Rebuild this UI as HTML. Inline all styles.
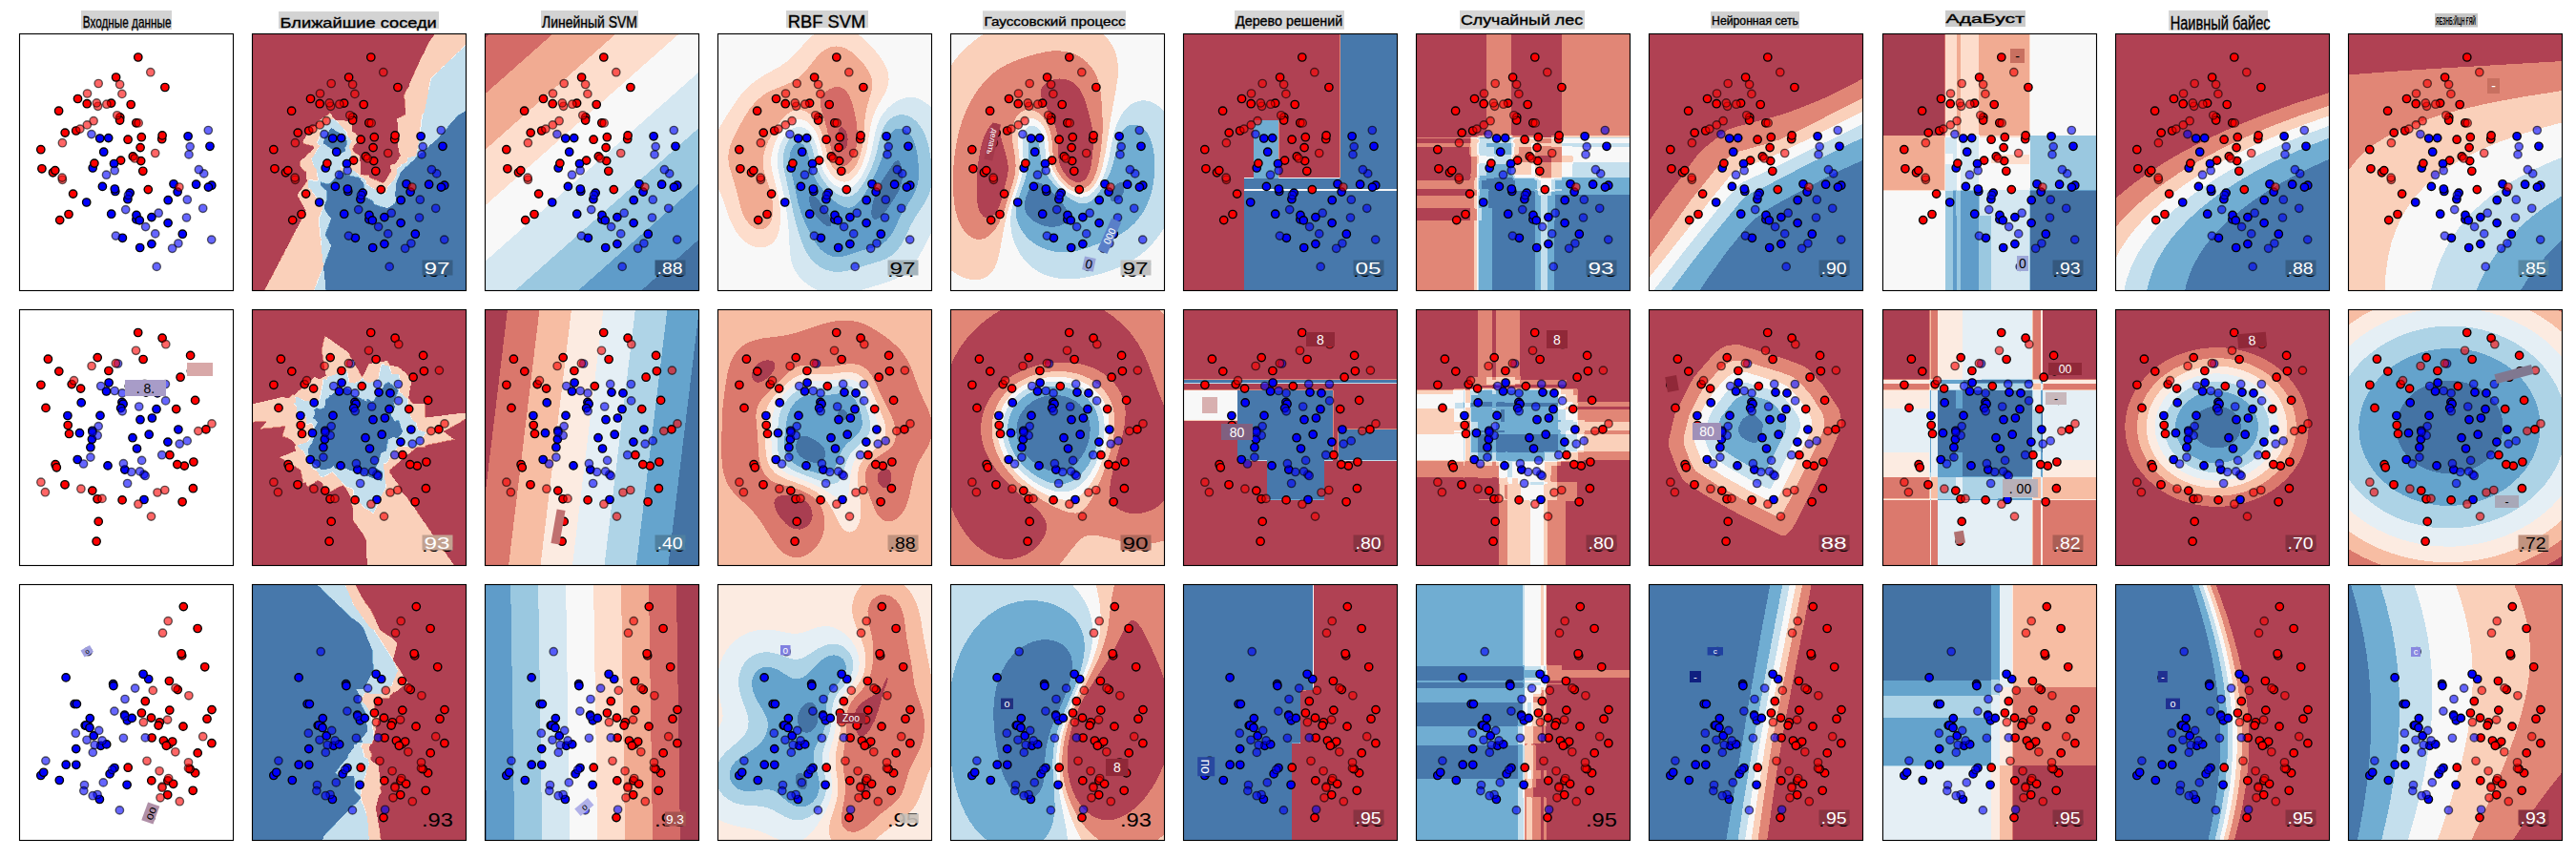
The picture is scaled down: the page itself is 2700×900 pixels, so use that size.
<!DOCTYPE html>
<html><head><meta charset="utf-8"><style>
html,body{margin:0;padding:0;background:#fff;}
svg{display:block;}
</style></head><body>
<svg width="2700" height="900" viewBox="0 0 2700 900">
<defs><g id="d0"><g stroke="#000" stroke-width="1.39"><circle cx="129.7" cy="144.1" r="4.17" fill="#f00"/><circle cx="93.6" cy="109.4" r="4.17" fill="#00f"/><circle cx="138.8" cy="220.4" r="4.17" fill="#00f"/><circle cx="177.0" cy="107.6" r="4.17" fill="#00f"/><circle cx="201.7" cy="159.0" r="4.17" fill="#00f"/><circle cx="149.6" cy="110.5" r="4.17" fill="#f00"/><circle cx="61.4" cy="68.3" r="4.17" fill="#f00"/><circle cx="51.9" cy="189.3" r="4.17" fill="#f00"/><circle cx="100.7" cy="165.3" r="4.17" fill="#00f"/><circle cx="152.8" cy="56.3" r="4.17" fill="#f00"/><circle cx="56.5" cy="167.9" r="4.17" fill="#f00"/><circle cx="87.3" cy="160.2" r="4.17" fill="#00f"/><circle cx="105.7" cy="87.7" r="4.17" fill="#f00"/><circle cx="77.1" cy="140.8" r="4.17" fill="#00f"/><circle cx="88.6" cy="124.0" r="4.17" fill="#00f"/><circle cx="122.8" cy="194.7" r="4.17" fill="#00f"/><circle cx="119.2" cy="128.7" r="4.17" fill="#f00"/><circle cx="126.6" cy="224.3" r="4.17" fill="#00f"/><circle cx="96.5" cy="72.9" r="4.17" fill="#f00"/><circle cx="116.1" cy="166.9" r="4.17" fill="#00f"/><circle cx="117.1" cy="74.3" r="4.17" fill="#f00"/><circle cx="23.8" cy="141.6" r="4.17" fill="#f00"/><circle cx="106.5" cy="132.9" r="4.17" fill="#f00"/><circle cx="35.4" cy="145.6" r="4.17" fill="#f00"/><circle cx="161.9" cy="157.6" r="4.17" fill="#00f"/><circle cx="171.2" cy="210.0" r="4.17" fill="#00f"/><circle cx="124.7" cy="24.8" r="4.17" fill="#f00"/><circle cx="128.2" cy="108.5" r="4.17" fill="#f00"/><circle cx="71.1" cy="73.5" r="4.17" fill="#f00"/><circle cx="138.8" cy="192.4" r="4.17" fill="#00f"/><circle cx="156.0" cy="198.4" r="4.17" fill="#00f"/><circle cx="122.9" cy="190.2" r="4.17" fill="#00f"/><circle cx="101.5" cy="45.8" r="4.17" fill="#f00"/><circle cx="37.7" cy="143.4" r="4.17" fill="#f00"/><circle cx="22.7" cy="121.5" r="4.17" fill="#f00"/><circle cx="78.8" cy="135.9" r="4.17" fill="#f00"/><circle cx="108.3" cy="214.1" r="4.17" fill="#00f"/><circle cx="185.5" cy="158.0" r="4.17" fill="#00f"/><circle cx="150.0" cy="106.7" r="4.17" fill="#f00"/><circle cx="84.6" cy="109.8" r="4.17" fill="#00f"/><circle cx="96.6" cy="189.0" r="4.17" fill="#00f"/><circle cx="42.6" cy="195.4" r="4.17" fill="#f00"/><circle cx="99.4" cy="136.3" r="4.17" fill="#00f"/><circle cx="166.0" cy="165.9" r="4.17" fill="#00f"/><circle cx="198.3" cy="160.9" r="4.17" fill="#00f"/><circle cx="127.0" cy="119.4" r="4.17" fill="#f00"/><circle cx="113.8" cy="173.5" r="4.17" fill="#00f"/><circle cx="135.2" cy="163.4" r="4.17" fill="#f00"/><circle cx="126.2" cy="195.7" r="4.17" fill="#00f"/><circle cx="127.6" cy="133.4" r="4.17" fill="#f00"/><circle cx="48.1" cy="103.9" r="4.17" fill="#f00"/><circle cx="199.9" cy="118.1" r="4.17" fill="#00f"/><circle cx="100.2" cy="162.8" r="4.17" fill="#00f"/><circle cx="156.1" cy="174.5" r="4.17" fill="#00f"/><circle cx="59.6" cy="101.8" r="4.17" fill="#f00"/><circle cx="122.7" cy="93.6" r="4.17" fill="#f00"/><circle cx="41.5" cy="81.0" r="4.17" fill="#f00"/><circle cx="114.0" cy="111.0" r="4.17" fill="#f00"/><circle cx="105.5" cy="90.9" r="4.17" fill="#f00"/><circle cx="70.6" cy="176.8" r="4.17" fill="#00f"/></g><g stroke="#000" stroke-width="1.39" fill-opacity=".6" stroke-opacity=".6"><circle cx="45.3" cy="114.5" r="4.17" fill="#f00"/><circle cx="63.8" cy="99.9" r="4.17" fill="#f00"/><circle cx="102.7" cy="85.6" r="4.17" fill="#f00"/><circle cx="137.7" cy="40.5" r="4.17" fill="#f00"/><circle cx="142.6" cy="125.3" r="4.17" fill="#f00"/><circle cx="142.6" cy="209.7" r="4.17" fill="#00f"/><circle cx="125.1" cy="93.7" r="4.17" fill="#f00"/><circle cx="83.1" cy="52.3" r="4.17" fill="#f00"/><circle cx="75.8" cy="105.4" r="4.17" fill="#00f"/><circle cx="91.7" cy="74.0" r="4.17" fill="#f00"/><circle cx="78.0" cy="91.5" r="4.17" fill="#f00"/><circle cx="114.4" cy="169.3" r="4.17" fill="#00f"/><circle cx="193.6" cy="146.7" r="4.17" fill="#00f"/><circle cx="111.6" cy="184.4" r="4.17" fill="#00f"/><circle cx="175.4" cy="192.8" r="4.17" fill="#00f"/><circle cx="132.5" cy="202.4" r="4.17" fill="#00f"/><circle cx="107.8" cy="63.2" r="4.17" fill="#f00"/><circle cx="179.1" cy="118.4" r="4.17" fill="#00f"/><circle cx="166.8" cy="219.8" r="4.17" fill="#00f"/><circle cx="144.1" cy="244.2" r="4.17" fill="#00f"/><circle cx="100.1" cy="143.5" r="4.17" fill="#00f"/><circle cx="176.2" cy="174.0" r="4.17" fill="#00f"/><circle cx="121.1" cy="130.8" r="4.17" fill="#f00"/><circle cx="45.3" cy="153.1" r="4.17" fill="#f00"/><circle cx="201.6" cy="215.9" r="4.17" fill="#00f"/><circle cx="71.4" cy="62.8" r="4.17" fill="#f00"/><circle cx="167.8" cy="160.8" r="4.17" fill="#f00"/><circle cx="101.3" cy="211.9" r="4.17" fill="#00f"/><circle cx="177.9" cy="126.7" r="4.17" fill="#00f"/><circle cx="45.0" cy="150.9" r="4.17" fill="#f00"/><circle cx="192.6" cy="183.1" r="4.17" fill="#00f"/><circle cx="71.2" cy="95.7" r="4.17" fill="#f00"/><circle cx="91.4" cy="148.0" r="4.17" fill="#00f"/><circle cx="188.3" cy="142.5" r="4.17" fill="#00f"/><circle cx="160.5" cy="225.1" r="4.17" fill="#00f"/><circle cx="198.2" cy="101.3" r="4.17" fill="#00f"/><circle cx="82.5" cy="76.1" r="4.17" fill="#f00"/><circle cx="146.1" cy="188.0" r="4.17" fill="#00f"/><circle cx="81.2" cy="72.7" r="4.17" fill="#f00"/><circle cx="105.5" cy="53.3" r="4.17" fill="#f00"/></g></g>
<g id="d1"><g stroke="#000" stroke-width="1.39"><circle cx="126.9" cy="115.5" r="4.17" fill="#00f"/><circle cx="123.4" cy="145.8" r="4.17" fill="#00f"/><circle cx="76.3" cy="136.0" r="4.17" fill="#00f"/><circle cx="74.8" cy="144.5" r="4.17" fill="#00f"/><circle cx="38.0" cy="162.5" r="4.17" fill="#f00"/><circle cx="124.6" cy="24.3" r="4.17" fill="#f00"/><circle cx="39.2" cy="165.6" r="4.17" fill="#f00"/><circle cx="83.1" cy="222.2" r="4.17" fill="#f00"/><circle cx="65.1" cy="97.7" r="4.17" fill="#00f"/><circle cx="166.8" cy="125.8" r="4.17" fill="#00f"/><circle cx="55.1" cy="78.4" r="4.17" fill="#f00"/><circle cx="63.4" cy="129.5" r="4.17" fill="#00f"/><circle cx="173.2" cy="163.9" r="4.17" fill="#f00"/><circle cx="27.9" cy="103.2" r="4.17" fill="#f00"/><circle cx="91.4" cy="85.8" r="4.17" fill="#00f"/><circle cx="92.9" cy="163.7" r="4.17" fill="#00f"/><circle cx="76.7" cy="189.9" r="4.17" fill="#f00"/><circle cx="157.8" cy="152.5" r="4.17" fill="#f00"/><circle cx="182.8" cy="159.8" r="4.17" fill="#f00"/><circle cx="84.9" cy="111.2" r="4.17" fill="#00f"/><circle cx="64.5" cy="82.9" r="4.17" fill="#f00"/><circle cx="81.9" cy="198.6" r="4.17" fill="#f00"/><circle cx="144.9" cy="87.7" r="4.17" fill="#00f"/><circle cx="115.2" cy="80.4" r="4.17" fill="#f00"/><circle cx="165.7" cy="162.4" r="4.17" fill="#f00"/><circle cx="139.3" cy="113.8" r="4.17" fill="#00f"/><circle cx="182.3" cy="187.5" r="4.17" fill="#f00"/><circle cx="195.8" cy="125.7" r="4.17" fill="#f00"/><circle cx="94.0" cy="76.8" r="4.17" fill="#00f"/><circle cx="61.1" cy="157.3" r="4.17" fill="#00f"/><circle cx="93.8" cy="64.3" r="4.17" fill="#f00"/><circle cx="143.9" cy="104.5" r="4.17" fill="#00f"/><circle cx="184.5" cy="95.2" r="4.17" fill="#f00"/><circle cx="52.4" cy="130.3" r="4.17" fill="#f00"/><circle cx="150.0" cy="30.0" r="4.17" fill="#f00"/><circle cx="130.9" cy="199.3" r="4.17" fill="#00f"/><circle cx="136.1" cy="131.0" r="4.17" fill="#00f"/><circle cx="118.9" cy="134.5" r="4.17" fill="#00f"/><circle cx="180.3" cy="64.6" r="4.17" fill="#f00"/><circle cx="76.7" cy="127.1" r="4.17" fill="#00f"/><circle cx="171.0" cy="201.6" r="4.17" fill="#f00"/><circle cx="30.3" cy="52.0" r="4.17" fill="#f00"/><circle cx="107.8" cy="97.2" r="4.17" fill="#00f"/><circle cx="108.0" cy="199.7" r="4.17" fill="#f00"/><circle cx="110.7" cy="167.9" r="4.17" fill="#00f"/><circle cx="22.8" cy="79.1" r="4.17" fill="#f00"/><circle cx="50.8" cy="111.3" r="4.17" fill="#00f"/><circle cx="81.0" cy="243.0" r="4.17" fill="#f00"/><circle cx="109.0" cy="99.0" r="4.17" fill="#00f"/><circle cx="169.0" cy="71.0" r="4.17" fill="#f00"/><circle cx="82.1" cy="50.4" r="4.17" fill="#f00"/><circle cx="179.5" cy="48.2" r="4.17" fill="#f00"/><circle cx="51.1" cy="121.3" r="4.17" fill="#f00"/><circle cx="130.0" cy="52.3" r="4.17" fill="#f00"/><circle cx="164.6" cy="104.4" r="4.17" fill="#f00"/><circle cx="47.9" cy="183.6" r="4.17" fill="#f00"/><circle cx="41.7" cy="64.9" r="4.17" fill="#f00"/><circle cx="155.8" cy="138.9" r="4.17" fill="#00f"/><circle cx="106.5" cy="103.4" r="4.17" fill="#00f"/><circle cx="132.9" cy="86.9" r="4.17" fill="#00f"/></g><g stroke="#000" stroke-width="1.39" fill-opacity=".6" stroke-opacity=".6"><circle cx="57.4" cy="74.5" r="4.17" fill="#f00"/><circle cx="196.3" cy="63.9" r="4.17" fill="#f00"/><circle cx="131.6" cy="78.2" r="4.17" fill="#00f"/><circle cx="144.9" cy="191.8" r="4.17" fill="#f00"/><circle cx="67.4" cy="161.8" r="4.17" fill="#00f"/><circle cx="64.8" cy="188.0" r="4.17" fill="#f00"/><circle cx="149.6" cy="152.5" r="4.17" fill="#00f"/><circle cx="22.8" cy="181.0" r="4.17" fill="#f00"/><circle cx="130.7" cy="172.9" r="4.17" fill="#00f"/><circle cx="82.1" cy="132.0" r="4.17" fill="#00f"/><circle cx="74.8" cy="154.9" r="4.17" fill="#00f"/><circle cx="103.5" cy="56.8" r="4.17" fill="#00f"/><circle cx="108.0" cy="87.7" r="4.17" fill="#00f"/><circle cx="128.5" cy="158.2" r="4.17" fill="#00f"/><circle cx="201.9" cy="119.7" r="4.17" fill="#f00"/><circle cx="168.1" cy="140.9" r="4.17" fill="#00f"/><circle cx="101.3" cy="56.5" r="4.17" fill="#f00"/><circle cx="108.1" cy="106.6" r="4.17" fill="#00f"/><circle cx="153.3" cy="78.3" r="4.17" fill="#00f"/><circle cx="176.1" cy="137.7" r="4.17" fill="#00f"/><circle cx="187.7" cy="127.4" r="4.17" fill="#f00"/><circle cx="85.6" cy="80.3" r="4.17" fill="#00f"/><circle cx="126.5" cy="169.7" r="4.17" fill="#00f"/><circle cx="83.1" cy="122.4" r="4.17" fill="#00f"/><circle cx="113.5" cy="182.3" r="4.17" fill="#00f"/><circle cx="86.9" cy="198.2" r="4.17" fill="#f00"/><circle cx="109.3" cy="161.5" r="4.17" fill="#00f"/><circle cx="122.4" cy="43.1" r="4.17" fill="#f00"/><circle cx="100.1" cy="85.3" r="4.17" fill="#00f"/><circle cx="125.6" cy="101.8" r="4.17" fill="#00f"/><circle cx="124.8" cy="204.0" r="4.17" fill="#f00"/><circle cx="117.6" cy="170.3" r="4.17" fill="#00f"/><circle cx="153.5" cy="95.7" r="4.17" fill="#00f"/><circle cx="152.7" cy="189.3" r="4.17" fill="#f00"/><circle cx="76.8" cy="128.9" r="4.17" fill="#00f"/><circle cx="76.0" cy="59.3" r="4.17" fill="#f00"/><circle cx="153.7" cy="36.5" r="4.17" fill="#f00"/><circle cx="132.1" cy="174.3" r="4.17" fill="#00f"/><circle cx="138.4" cy="216.9" r="4.17" fill="#f00"/><circle cx="27.3" cy="191.5" r="4.17" fill="#f00"/></g></g>
<g id="d2"><g stroke="#000" stroke-width="1.39"><circle cx="49.0" cy="97.7" r="4.17" fill="#00f"/><circle cx="201.8" cy="166.5" r="4.17" fill="#f00"/><circle cx="58.0" cy="125.4" r="4.17" fill="#00f"/><circle cx="184.5" cy="197.7" r="4.17" fill="#f00"/><circle cx="155.6" cy="220.6" r="4.17" fill="#f00"/><circle cx="72.5" cy="148.2" r="4.17" fill="#00f"/><circle cx="155.8" cy="205.7" r="4.17" fill="#f00"/><circle cx="84.3" cy="225.3" r="4.17" fill="#00f"/><circle cx="49.1" cy="189.0" r="4.17" fill="#00f"/><circle cx="137.9" cy="244.4" r="4.17" fill="#f00"/><circle cx="172.2" cy="23.4" r="4.17" fill="#f00"/><circle cx="60.3" cy="125.4" r="4.17" fill="#00f"/><circle cx="85.5" cy="169.1" r="4.17" fill="#00f"/><circle cx="161.5" cy="209.1" r="4.17" fill="#f00"/><circle cx="179.0" cy="193.5" r="4.17" fill="#f00"/><circle cx="22.7" cy="200.3" r="4.17" fill="#00f"/><circle cx="128.3" cy="134.8" r="4.17" fill="#f00"/><circle cx="138.7" cy="205.7" r="4.17" fill="#f00"/><circle cx="138.4" cy="139.9" r="4.17" fill="#f00"/><circle cx="69.1" cy="147.9" r="4.17" fill="#00f"/><circle cx="151.3" cy="163.8" r="4.17" fill="#f00"/><circle cx="135.6" cy="99.3" r="4.17" fill="#00f"/><circle cx="70.2" cy="147.8" r="4.17" fill="#00f"/><circle cx="147.2" cy="144.6" r="4.17" fill="#f00"/><circle cx="113.0" cy="210.1" r="4.17" fill="#00f"/><circle cx="157.0" cy="167.7" r="4.17" fill="#f00"/><circle cx="110.5" cy="136.9" r="4.17" fill="#00f"/><circle cx="194.6" cy="86.6" r="4.17" fill="#f00"/><circle cx="146.0" cy="147.9" r="4.17" fill="#f00"/><circle cx="59.7" cy="189.1" r="4.17" fill="#00f"/><circle cx="95.0" cy="198.7" r="4.17" fill="#00f"/><circle cx="91.6" cy="167.7" r="4.17" fill="#00f"/><circle cx="99.9" cy="192.3" r="4.17" fill="#00f"/><circle cx="171.9" cy="148.9" r="4.17" fill="#f00"/><circle cx="187.1" cy="176.7" r="4.17" fill="#f00"/><circle cx="170.6" cy="74.7" r="4.17" fill="#f00"/><circle cx="42.2" cy="205.3" r="4.17" fill="#00f"/><circle cx="73.9" cy="150.3" r="4.17" fill="#00f"/><circle cx="25.6" cy="197.1" r="4.17" fill="#00f"/><circle cx="78.1" cy="158.7" r="4.17" fill="#00f"/><circle cx="132.2" cy="122.5" r="4.17" fill="#f00"/><circle cx="59.6" cy="172.4" r="4.17" fill="#00f"/><circle cx="187.0" cy="46.3" r="4.17" fill="#f00"/><circle cx="130.0" cy="94.1" r="4.17" fill="#00f"/><circle cx="160.6" cy="164.8" r="4.17" fill="#f00"/><circle cx="113.3" cy="142.7" r="4.17" fill="#00f"/><circle cx="201.9" cy="131.4" r="4.17" fill="#f00"/><circle cx="154.2" cy="169.1" r="4.17" fill="#f00"/><circle cx="157.3" cy="101.3" r="4.17" fill="#f00"/><circle cx="98.5" cy="104.5" r="4.17" fill="#00f"/><circle cx="98.8" cy="106.4" r="4.17" fill="#00f"/><circle cx="74.2" cy="140.4" r="4.17" fill="#00f"/><circle cx="114.1" cy="192.0" r="4.17" fill="#f00"/><circle cx="170.0" cy="72.6" r="4.17" fill="#f00"/><circle cx="118.2" cy="140.2" r="4.17" fill="#00f"/><circle cx="166.2" cy="110.4" r="4.17" fill="#f00"/><circle cx="182.1" cy="216.1" r="4.17" fill="#f00"/><circle cx="139.0" cy="160.8" r="4.17" fill="#f00"/><circle cx="157.7" cy="131.9" r="4.17" fill="#f00"/><circle cx="196.9" cy="141.0" r="4.17" fill="#f00"/></g><g stroke="#000" stroke-width="1.39" fill-opacity=".6" stroke-opacity=".6"><circle cx="68.4" cy="210.3" r="4.17" fill="#00f"/><circle cx="72.1" cy="70.5" r="4.17" fill="#00f"/><circle cx="177.4" cy="192.7" r="4.17" fill="#f00"/><circle cx="149.9" cy="212.0" r="4.17" fill="#f00"/><circle cx="139.5" cy="236.1" r="4.17" fill="#00f"/><circle cx="177.4" cy="186.6" r="4.17" fill="#f00"/><circle cx="79.1" cy="168.3" r="4.17" fill="#00f"/><circle cx="192.6" cy="159.5" r="4.17" fill="#f00"/><circle cx="168.2" cy="227.5" r="4.17" fill="#f00"/><circle cx="82.0" cy="220.3" r="4.17" fill="#00f"/><circle cx="121.5" cy="108.9" r="4.17" fill="#00f"/><circle cx="109.3" cy="161.1" r="4.17" fill="#00f"/><circle cx="105.3" cy="236.7" r="4.17" fill="#00f"/><circle cx="147.9" cy="223.6" r="4.17" fill="#f00"/><circle cx="155.5" cy="141.9" r="4.17" fill="#f00"/><circle cx="77.2" cy="176.2" r="4.17" fill="#00f"/><circle cx="140.2" cy="111.2" r="4.17" fill="#f00"/><circle cx="67.7" cy="216.4" r="4.17" fill="#00f"/><circle cx="130.3" cy="144.5" r="4.17" fill="#f00"/><circle cx="97.6" cy="194.3" r="4.17" fill="#00f"/><circle cx="156.1" cy="38.5" r="4.17" fill="#f00"/><circle cx="110.7" cy="138.3" r="4.17" fill="#00f"/><circle cx="150.4" cy="51.0" r="4.17" fill="#f00"/><circle cx="163.7" cy="175.6" r="4.17" fill="#f00"/><circle cx="70.9" cy="163.1" r="4.17" fill="#00f"/><circle cx="156.6" cy="203.3" r="4.17" fill="#f00"/><circle cx="77.1" cy="221.5" r="4.17" fill="#00f"/><circle cx="87.0" cy="163.7" r="4.17" fill="#00f"/><circle cx="132.2" cy="160.7" r="4.17" fill="#00f"/><circle cx="177.8" cy="116.6" r="4.17" fill="#f00"/><circle cx="149.9" cy="213.0" r="4.17" fill="#f00"/><circle cx="59.2" cy="156.0" r="4.17" fill="#00f"/><circle cx="83.6" cy="153.2" r="4.17" fill="#00f"/><circle cx="147.0" cy="195.6" r="4.17" fill="#f00"/><circle cx="163.9" cy="108.7" r="4.17" fill="#f00"/><circle cx="110.9" cy="120.3" r="4.17" fill="#00f"/><circle cx="133.9" cy="185.1" r="4.17" fill="#f00"/><circle cx="27.8" cy="184.9" r="4.17" fill="#00f"/><circle cx="88.2" cy="207.7" r="4.17" fill="#00f"/><circle cx="99.8" cy="132.9" r="4.17" fill="#00f"/></g></g>
<clipPath id="cp0"><rect width="224" height="269"/></clipPath>
<clipPath id="cp1"><rect width="224" height="268"/></clipPath>
<clipPath id="cp2"><rect width="224" height="268"/></clipPath></defs>
<g transform="translate(20.5,35.5)"><g clip-path="url(#cp0)"><use href="#d0" x="-.4" y="-.3"/></g><rect width="224" height="269" fill="none" stroke="#000" stroke-width="1.11"/></g>
<g transform="translate(264.5,35.5)"><g clip-path="url(#cp0)"><g transform="translate(-.4,-.3)" fill-rule="evenodd" shape-rendering="crispEdges"><rect width="224" height="269" fill="#b04153"/>
<path fill="#e18676" d="M13.1,269l210.9,0 0-269 -32.2,0 -1.9,2 0,1 -2.7,3 0,.9 -2.7,3 0,1 -.9,1 0,1 -.9,1 0,1 -.9,1 0,1 -.9,1 0,1 -.9,1 0,.9 -1.8,2 0,1 -.9,1 0,1 -1,1 0,1 -.9,1 0,1 -.9,1 0,1 -.9,1 0,.9 -.9,1 0,1 -.9,1 0,1 -.9,1 0,1 -.9,1 0,1 -.9,1 0,1 -.9,1 0,1 -.9,1 0,.9 -.9,1 0,1 -.9,1 0,1 -.9,1 0,3 -2.8,3 0,1 -.9,.9 0,1 -.9,1 0,1 -.9,1 0,3 .9,1 0,8.9 .9,1 0,6 -.4,.4 -.9,0 -.9,1 -.9,0 -.9,1 -.9,0 -.9,1 -.9,0 -.9,1 -.9,0 -.5,.5 0,3 .9,1 0,25.8 .9,1 0,4 .9,1 0,1 .9,1 0,.9 -1.8,2 0,1 -1.8,2 0,1 -2.3,2.4 -2.7,0 -.9,1 -.9,0 -.5,.6 0,3 .9,.9 0,3 -1.8,2 0,1 -1.8,2 0,1 -1.8,2 0,1 -2.3,2.4 -1.8,0 -.9-1 -1.8,0 -.9-1 -.9,0 -.9-1 -1.8,0 -.9-1 -1.8,0 -1-1 -.9,0 -1.3-1.4 0-1 -.5-.6 -3.6,0 -.9-.9 -.9,.9 -.9-.9 -1.8,0 -.4-.5 0-12.9 -.9-1 0-5 -1.5-1.5 -.9,0 -.9-1 -.9,0 -3.1-3.4 0-2 .9-1 0-1 3.6-3.9 0-1 .9-1 0-5 -3.2-3.5 -.9,0 -.9-1 -.9,0 -.4-.5 0-8.9 -1.4-1.5 -5.5,0 -.9-1 -8.1,0 -.9-.2 -4.1-4.2 0-1 -2.3-2.6 -1.8,2 -.9,0 -.9,1 -.9,0 -1.8,2 -.9,0 -1.8,2 -1,0 -.9,1 -.9,0 -1.4,1.5 0,2 -.9,1 0,1 -.4,.4 -1.8,0 -.9,1 -.9,0 -.9,1 -.9,0 -2.3,2.5 0,1 -1,1 0,1 -1.8,2 0,1 -.9,1 0,1 -1.8,2 0,1 -.9,1 .9,1 0,.9 .5,.6 1.8,0 .9,1 2.8,0 .9,1 2.7,0 1.3,1.4 0,1 -4,4.4 -.9,0 -5.5,6 -.9,0 -3.2,3.5 0,5 5,5.5 .9,0 .4,.4 0,7 .9,1 0,1.9 -1.8,2 0,1 -3.6,4 0,1 -3.6,4 0,1 -.9,.9 0,2 1.8,2 0,1 1.8,2 0,1 .9,1 0,1 1.8,2 0,.9 .9,1 0,1 1.8,2 -.9,1 0,1 -.9,1 0,1 -1.8,2 0,1 -.9,1 0,1 -.9,.9 0,1 -1.8,2 0,1 -.9,1 0,1 -.9,1 0,1 -1.8,2 0,1 -1,1 0,1 -.9,.9 0,1 -1.8,2 0,1 -.9,1 0,1 -.9,1 0,1 -1.8,2 0,1 -.9,1 0,.9 -.9,1 0,1 -1.8,2 0,1 -.9,1 0,1 -.9,1 0,1 -1.9,2 0,1 -.9,1 0,.9 -.9,1 0,1 -1.8,2 0,1 -.9,1 0,1 -.9,1 0,1 -1.8,2 0,1 -.9,.9 0,1 -.9,1 0,1 -1.8,2 0,1 -.9,1 0,1 -1.9,2 0,1 -.9,1 0,1 -.9,.9 0,1 -1.8,2 0,1 -.9,1 0,1z"/>
<path fill="#fad0ba" d="M13.5,269l210.5,0 0-269 -31.8,0 -1.8,2 0,1 -2.8,3 0,.9 -2.7,3 0,1 -.9,1 0,1 -.9,1 0,1 -.9,1 0,1 -.9,1 0,1 -.9,1 0,.9 -1.8,2 0,1 -.9,1 0,1 -.9,1 0,1 -1,1 0,1 -.9,1 0,1 -.9,1 0,.9 -.9,1 0,1 -.9,1 0,1 -.9,1 0,1 -.9,1 0,1 -.9,1 0,1 -.9,1 0,1 -.9,1 0,.9 -.9,1 0,1 -.9,1 0,1 -.9,1 0,3 -2.8,3 0,1 -.9,.9 0,1 -.9,1 0,1 -.9,1 0,3 .9,1 0,8.9 .9,1 0,6 -.8,.9 -.9,0 -.9,1 -.9,0 -.9,1 -.9,0 -.9,.9 -.9,0 -.9,1 -1,.1 0,3 .9,1 0,25.8 .9,1 0,4 .9,1 0,1 .9,1 0,.9 -1.8,2 0,1 -1.8,2 0,1 -2.7,2.9 -2.7,0 -.9,1 -1,.1 0,3 .9,.9 0,3 -1.8,2 0,1 -1.8,2 0,1 -1.8,2 0,1 -2.7,2.8 -1.8,0 -.9-1 -1.8,0 -.9-1 -.9,0 -.9-.9 -1.8,0 -.9-1 -1.8,0 -1-1 -.9,0 -1.7-1.9 -.1-1.1 -3.6,0 -.9-1 -.9,1 -.9-1 -1.8,0 -.8-.9 0-12.9 -1-1 0-5 -1-1 -.9,0 -.9-1 -.9,0 -3.5-3.9 0-2 .9-1 0-1 3.6-3.9 0-1 .9-1 0-5 -2.8-3.1 -.9,0 -.9-1 -.9,0 -.8-.9 0-8.9 -1-1.1 -5.5,0 -.9-1 -8.1,0 -1.8-1 -3.6-3.8 0-1 -1.9-2.1 -1.8,2 -.9,0 -.9,1 -.9,0 -1.8,1.9 -.9,0 -1.8,2 -1,0 -.9,1 -.9,0 -1,1.1 0,2 -.9,1 0,1 -.8,.9 -1.8,0 -.9,1 -.9,0 -.9,1 -.9,0 -1.9,2 0,1 -.9,1 0,1 -1.9,2 0,1 -.9,1 0,1 -1.8,2 0,1 -.9,1 .9,1 .1,1 1.8,0 .9,1 2.8,0 .9,1 2.7,0 1.7,1.9 0,1 -4.4,4.9 -.9,0 -5.5,5.9 -.9,0 -2.8,3.1 0,5 4.6,5 .9,0 .8,.9 0,7 .9,1 0,1.9 -1.8,2 0,1 -3.6,4 0,1 -3.6,4 0,1 -.9,.9 0,2 1.8,2 0,1 1.8,2 0,1 .9,1 0,1 1.8,2 0,.9 .9,1 0,1 1.8,2 -.9,1 0,1 -.9,1 0,1 -1.8,2 0,1 -.9,1 0,1 -.9,.9 0,1 -1.8,2 0,1 -.9,1 0,1 -.9,1 0,1 -1.8,2 0,1 -.9,1 0,1 -1,.9 0,1 -1.8,2 0,1 -.9,1 0,1 -.9,1 0,1 -1.8,2 0,1 -.9,1 0,.9 -.9,1 0,1 -1.8,2 0,1 -.9,1 0,1 -.9,1 0,1 -1.8,2 0,1 -1,1 0,.9 -.9,1 0,1 -1.8,2 0,1 -.9,1 0,1 -.9,1 0,1 -1.8,2 0,1 -.9,.9 0,1 -.9,1 0,1 -1.8,2 0,1 -.9,1 0,1 -1.9,2 0,1 -.9,1 0,1 -.9,.9 0,1 -1.8,2 0,1 -.9,1 0,1z"/>
<path fill="#f8f8f8" d="M64.7,269l159.3,0 0-256.7 -.9,0 -6.4,6.9 -.9,0 -6.3,7 -.9,0 -7.3,7.9 -.9,0 -6.3,6.9 -.9,0 -6.1,6.6 0,2 -.9,1 0,4 -.9,1 0,3 -.9,1 0,3.9 -.9,1 0,4 -.9,1 0,4 -.9,.9 0,4 -.9,1 0,3 -2.7,3 0,3.9 -.9,1 0,7 -.9,1 0,5.9 -1,1 0,6 -.9,1 0,3.9 -.9,1 0,4 -.9,1 0,3 -.9,1 0,1 -1.2,1.3 -2.7,0 -.9,1 -2.8,0 -1.5,1.6 0,3 -1.2,1.3 -1.8,0 -.9,1 -1.8,0 -.6,.7 0,1 -1.2,1.3 -.9,0 -2.4,2.6 0,5 -.9,1 0,1 -.9,1 0,1 -1,1 0,1 -7.2,7.9 0,2 -.9,1 0,2 -1.2,1.3 -.9,0 -1.9-2 -1.8,2 -.9,0 -1.8-2 -.9,0 -.9-1 -.9,0 -1.8-2 -.9,0 -.9-.9 -1,0 -1.8-2 -.9,0 -.9-1 -.9,0 -.3-.4 0-1 -.9-1 0-1.9 -2.4-2.7 -.9,0 -.9-1 -1.8,0 -.4-.3 0-1 -3.3-3.6 -.9,0 -1.8-2 -.9,0 -.9-1 -.9,0 -2.1-2.3 0-2 .9-1 0-6 .9-1 0-6.9 -.9-1 0-1 -.9-1 0-3 .9-1 0-1 .9-.9 0-1 .9-1 -.6-.7 -.9,0 -.3-.3 0-1 -3.7-4 0-3 -10.8-11.9 -1.5-.6 -1.9-2 -.9,1 -4.5,0 -.6,.6 0,2 -.9,1 0,1 -1.2,1.3 -.9,0 -1.8,2 -.9,0 -2.4,2.7 0,6.9 -1,1 0,2 -.9,1 0,1 -.9,1 0,1.9 1.5,1.7 .9,0 .4,.3 0,1 -3.7,4 0,1 -.9,1 0,1 -1.8,2 0,.9 -2.7,3 .9,1 0,2 .9,1 0,2 .9,1 0,1 2.7,2.9 0,3 .9,1 0,4 .9,1 0,3 -.3,.3 -4.5,0 -.9-1 -3.6,0 -1.5,1.6 0,6 1.5,1.6 .9,0 2.1,2.4 0,1 2.7,2.9 0,1 2.7,3 0,1 2.8,3 0,1 2.7,3 0,3.9 -.9,1 0,1 -.9,1 0,2 -.9,1 0,1 -1,1 0,9.9 1,1 0,8.9 .9,1 0,1 .9,1 0,1 -.9,1 0,4 .9,.9 0,8 .9,1 0,7.9 .9,1 -.2,4 -.7,1 0,2 -.9,1 0,.9 -.9,1 0,1 -.9,1 0,2 -1,1 0,1 -.9,1 0,1 -.9,1 0,2 -.9,1 0,.9 -.9,1 0,1 -.9,1 0,2 -.9,1zM93.4,143.3l-.3-.4 0-2.9 .3-.4 2.1,2.3 -1.2,1.4 -.9,0z"/>
<path fill="#c4dfed" d="M65.1,269l158.9,0 0-256.3 -.9,0 -6.4,7 -.9,0 -6.3,6.9 -.9,0 -7.3,7.9 -.9,0 -6.3,7 -.9,0 -5.7,6.1 0,2 -.9,1 0,4 -.9,1 0,3 -.9,1 0,3.9 -.9,1 0,4 -.9,1 0,4 -.9,.9 0,4 -.9,1 0,3 -2.7,3 0,3.9 -.9,1 0,7 -.9,1 0,5.9 -.9,1 0,6 -1,1 0,3.9 -.9,1 0,4 -.9,1 0,3 -.9,1 0,1 -1.6,1.7 -2.7,0 -.9,1 -2.8,0 -1,1.2 0,3 -1.7,1.8 -1.8,0 -.9,1 -1.8,0 -.2,1.2 -1.6,1.8 -.9,0 -2,2.1 0,5 -.9,1 0,1 -.9,1 0,1 -.9,1 0,1 -7.3,7.9 0,2 -.9,1 0,2 -1.6,1.8 -.9,0 -1.9-2 -1.8,2 -.9,0 -1.8-2 -.9,0 -.9-1 -.9,0 -1.8-2 -.9,0 -.9-1 -1,0 -1.8-2 -.9,0 -.9-1 -.9,0 -.7-.8 0-1 -.9-1 0-1.9 -2-2.2 -.9,0 -.9-1 -1.8,0 -.8-.8 0-1 -2.9-3.2 -.9,0 -1.8-2 -.9,0 -.9-1 -.9,0 -2.5-2.7 0-2 .9-1 0-6 .9-1 0-6.9 -.9-1 0-1 -.9-1 0-3 .9-1 0-1 .9-.9 0-1 .9-1 -1.1-.2 -.7-.8 0-1 -3.7-4 0-3 -10.9-11.9 -1-.2 -1.9-2 -.9,1 -4.5,0 -.2,2.2 -.9,1 0,1 -1.6,1.8 -.9,0 -1.8,2 -.9,0 -2,2.2 0,6.9 -.9,1 0,2 -1,1 0,1 -.9,1 0,1.9 1.1,1.2 .9,0 .8,.8 0,1 -3.7,4 0,1 -.9,1 0,1 -1.8,2 0,.9 -2.7,3 .9,1 0,2 .9,1 0,2 .9,1 0,1 2.7,2.9 0,3 .9,1 0,4 .9,1 0,3 -.7,.8 -4.5,0 -.9-1 -3.6,0 -1.1,1.1 0,6 1.1,1.2 .9,0 2.5,2.8 0,1 2.7,2.9 0,1 2.7,3 0,1 2.8,3 0,1 2.7,3 0,3.9 -.9,1 0,1 -.9,1 0,2 -.9,1 0,1 -.9,1 0,9.9 .9,1 0,8.9 .9,1 0,1 .9,1 0,1 -.9,1 0,4 .9,.9 0,8 .9,1 0,7.9 .9,1 0,2 -.4,2 -.5,1 0,2 -.9,1 0,.9 -.9,1 0,1 -.9,1 0,2 -.9,1 0,1 -1,1 0,1 -.9,1 0,2 -.9,1 0,.9 -.9,1 0,1 -.9,1 0,2 -.9,1zM93.4,143.7l-.7-.8 0-2.9 .7-.8 2.5,2.7 -1.6,1.8 -.9,0z"/>
<path fill="#70add2" d="M77.3,269l146.7,0 0-188.3 -.9,.9 -.9,0 -.9,1 -.9,0 -.9,1 -.9,0 -.9,1 -1,0 -11.5,12.7 0,1 -12,13.1 -.9,0 -3.7,4 -.9,0 -3.6,4 -.9,0 -4.5,4.9 -1,0 -3.6,4 -.9,0 -5.4,6 -.9,0 -4.6,4.9 -.9,0 -6.1,6.7 0,1 -.9,1 0,1 -.9,1 0,1 -.9,1 0,1 -.9,1 0,1.9 -.9,1 0,8 -.9,1 0,4.9 .9,1 0,4 -.9,1 -.3,1.2 -.9,0 -1.8,2 -.9,0 -1.8,2 -.9,0 -.9,1 -1.8,0 -.9-1 -1.9,0 -.9-1 -2.7,0 -.9-1 -1.8,0 -.9-1 -1.8,0 -1.2-1.2 0-2 -.6-.8 -.9,0 -1-.9 -.9,0 -.9-1 -.9,0 -.9-1 -.9,0 -.9-1 -.9,0 -.2-.3 0-7.9 -.9-1 0-4 -.9-1 0-1 -2.8-2.9 0-1 -.6-.8 -.9,0 -1-1 -3.6,0 -.9-1 -3.6,0 -.9-1 -3.6,0 -1.9-1.9 -.9,0 -.9-1 -.9,0 -.9-1 -2.7,0 -1.6,1.7 0,3 -6.6,7.2 -.9,0 -.9,1 -3.6,0 -.9-1 -2.7,0 -.9-1 -.7,.7 0,1 -.9,1 5.2,5.7 .9,0 1.1,1.3 0,9.9 -.9,1 0,1 -.9,1 0,1 -.9,1 0,3.9 .9,1 0,1 2.7,3 0,1 3.7,4 0,1 -1,.9 0,2 -.9,1 0,1 -.9,1 0,2 -.9,1 0,1 -.9,1 0,1 -.9,1 0,1.9 -.9,1 0,1 1.8,2 0,1 1.8,2 0,1 .9,1 0,1 1.9,2 0,1.9 -1,1 0,2 -.9,1 0,1 -.9,1 0,1 -.9,1 0,2 -.9,1 0,1 -.9,.9 0,1 -.9,1 0,2 -.9,1 0,1 -.6,1 -.3,2 0,3 .9,.9 0,8 .9,1 0,8.9 .9,1 0,1zM90.9,126.1l.7,.7 .9,0 1.8-2 .9,0 .9-1 .9,0 1.6-1.7 -.9-1 0-2 1.8-2 0-4.9 -.9-1 0-1 -.9-1 0-1 -1.6-1.7 -.9,0 -1.8-2 -.9,0 -.9-1 -.9,0 -.9-1 -.9,0 -.9-1 -.9,0 -1.9-2 -.9,0 -.9-1 -2.5,2.7 0,1 -1.8,2 0,1 -2.7,3 0,1 -.9,1 0,2 -.9,1 0,1.9 .7,.8 .9,0 .9,1 .9,0 1.8,2 .9,0 1.8,2 .9,0 .9,.9 .9,0 1.9,2 .9,0 .9,1 .9,0 1.1,1.3z"/>
<path fill="#4778ab" d="M77.7,269l146.3,0 0-187.9 -.9,1 -.9,0 -.9,1 -.9,0 -.9,1 -.9,0 -.9,1 -1,0 -11.1,12.2 0,1 -12.4,13.6 -.9,0 -3.7,3.9 -.9,0 -3.6,4 -.9,0 -4.5,5 -1,0 -3.6,3.9 -.9,0 -5.4,6 -.9,0 -4.6,5 -.9,0 -5.7,6.2 0,1 -.9,1 0,1 -.9,1 0,1 -.9,1 0,1 -.9,1 0,1.9 -.9,1 0,8 -.9,1 0,4.9 .9,1 0,4 -.9,1 0,1 -.7,.7 -.9,0 -1.8,2 -.9,0 -1.8,1.9 -.9,0 -.9,1 -1.8,0 -.9-1 -1.9,0 -.9-.9 -2.7,0 -.9-1 -1.8,0 -.9-1 -1.8,0 -1.6-1.7 0-2 -.2-.3 -.9,0 -1-1 -.9,0 -.9-1 -.9,0 -.9-1 -.9,0 -.9-1 -.9,0 -.6-.7 0-7.9 -.9-1 0-4 -.9-1 0-1 -2.8-2.9 0-1 -.2-.3 -.9,0 -1-1 -3.6,0 -.9-1 -3.6,0 -.9-1 -3.6,0 -1.9-2 -.9,0 -.9-1 -.9,0 -.9-1 -2.7,0 -1.2,1.3 0,3 -7,7.6 -.9,0 -.9,1 -3.6,0 -.9-1 -2.7,0 -.9-1 -.3,.3 0,1 -.9,1 4.8,5.3 .9,0 1.5,1.7 0,9.9 -.9,1 0,1 -.9,1 0,1 -.9,1 0,3.9 .9,1 0,1 2.7,3 0,1 3.7,4 0,1 -.9,.9 0,2 -1,1 0,1 -.9,1 0,2 -.9,1 0,1 -.9,1 0,1 -.9,1 0,1.9 -.9,1 0,1 1.8,2 0,1 1.8,2 0,1 .9,1 0,1 1.9,2 0,1.9 -.9,1 0,2 -1,1 0,1 -.9,1 0,1 -.9,1 0,2 -.9,1 0,1 -.9,.9 0,1 -.9,1 0,2 -.9,1 0,1 -.8,1 -.1,5 .9,.9 0,8 .9,1 0,8.9 .9,1 0,1zM91.3,126.1l.3,.3 .9,0 1.8-2 .9,0 .9-1 .9,0 1.2-1.3 -.9-1 0-2 1.8-2 0-4.9 -.9-1 0-1 -.9-1 0-1 -1.2-1.3 -.9,0 -1.8-2 -.9,0 -.9-1 -.9,0 -.9-1 -.9,0 -.9-1 -.9,0 -1.9-1.9 -.9,0 -.9-1 -2.1,2.2 0,1 -1.8,2 0,1 -2.7,3 0,1 -.9,1 0,2 -.9,1 0,1.9 .3,.3 .9,0 .9,1 .9,0 1.8,2 .9,0 1.8,2 .9,0 .9,1 .9,0 1.9,2 .9,0 .9,1 .9,0 1.5,1.7z"/></g></g><g clip-path="url(#cp0)"><use href="#d0" x="-.4" y="-.3"/></g><rect width="224" height="269" fill="none" stroke="#000" stroke-width="1.11"/></g>
<g transform="translate(508.5,35.5)"><g clip-path="url(#cp0)"><g transform="translate(-.4,-.3)" fill-rule="evenodd" shape-rendering="crispEdges"><rect width="224" height="269" fill="#a63e51"/>
<path fill="#d46b67" d="M0,269l224,0 0-269 -218.3,0 -5.7,5.1 0,263.9z"/>
<path fill="#f1ab92" d="M0,269l224,0 0-269 -152.2,0 -71.8,63.5 0,205.5z"/>
<path fill="#fdddcc" d="M0,269l224,0 0-269 -86.2,0 -137.8,122 0,147z"/>
<path fill="#f8f8f8" d="M0,269l224,0 0-269 -20.1,0 -203.9,180.5 0,88.5z"/>
<path fill="#d4e7f1" d="M0,269l224,0 0-228.3 -224,198.3 0,30z"/>
<path fill="#9ac8e0" d="M32.2,269l191.8,0 0-169.8 -191.8,169.8z"/>
<path fill="#5f9cc9" d="M98.2,269l125.8,0 0-111.3 -125.8,111.3z"/>
<path fill="#4371a2" d="M164.3,269l59.7,0 0-52.9 -59.7,52.9z"/></g></g><g clip-path="url(#cp0)"><use href="#d0" x="-.4" y="-.3"/></g><rect width="224" height="269" fill="none" stroke="#000" stroke-width="1.11"/></g>
<g transform="translate(752.5,35.5)"><g clip-path="url(#cp0)"><g transform="translate(-.4,-.3)" fill-rule="evenodd" shape-rendering="crispEdges"><rect width="224" height="269" fill="#a63e51"/>
<path fill="#d46b67" d="M0,269l224,0 0-269 -224,0 0,269zM130.6,121.5l-1.8-1.8 -1.2-2.6 -1.1-3.9 -.5-5 .1-4 .9-3.7 .9-1.4 .9-.7 .9-.2 .9,.1 1.8,1 1.8,2.4 1.7,4.5 .6,4 -.3,4.9 -1.2,4 -1.7,2.2 -.9,.4 -1.8-.2z"/>
<path fill="#f1ab92" d="M0,269l224,0 0-269 -224,0 0,269zM129.7,138.2l-2.7-1.5 -2.6-2.7 -2-3.3 -1.8-4.4 -1.8-6.6 -4.8-22.4 -5.5-18.9 -1-5.9 .2-3 .6-2 1.4-2.8 1.9-2.2 2.7-2.2 3.6-2.3 3.6-1.5 3.6-.9 3.7,.4 3.6,1.9 3.6,3.9 2.8,4.9 2.7,7.4 2.1,8.3 1.9,9.9 .9,8.9 .1,8 -.6,6.9 -1.4,7 -2.1,6.1 -2.7,4.7 -3.1,3.1 -1.5,.9 -1.8,.6 -1.8,.1 -1.8-.4z"/>
<path fill="#fdddcc" d="M0,269l224,0 0-269 -224,0 0,269zM40.8,204.6l-3.6-1.7 -4-3.4 -3.3-4.1 -3.1-5.8 -2.8-8 -5.2-20.8 -6.3-20.8 -1.2-8 0-4 .5-4.3 1-4.6 1.3-4 3.9-8.9 9.1-16.9 6.2-9.9 6.5-7.9 6.5-5.8 4.5-3.1 4.5-2.5 20-8.2 4.5-2.3 4.4-2.9 3.8-3.2 4.5-4.6 10-12.6 3.6-4.1 3.6-3.3 4.5-3 4.6-1.9 5.4-.8 5.5,.6 5.4,2.1 4.6,2.8 4.5,3.6 5.4,5.4 4.3,5.1 3.5,4.9 2.1,4 1.8,5 .8,3.9 .1,4 -.6,5 -4.9,16.8 -1.7,8 -.9,7.9 -1.3,17.9 -1.2,8.9 -2.2,8.9 -3.2,8 -2.3,4 -2.4,3.1 -2.7,2.5 -2.8,1.5 -2.7,.6 -2.7-.1 -2.7-.9 -2.8-1.7 -3.9-4 -3.4-6 -2.6-7.6 -3.8-16.2 -2.4-8 -3.5-7.9 -3.9-6 -2.7-3.1 -3.7-3 -3.6-2.1 -2.7-.9 -3.7-.6 -3.6,.4 -2.7,.8 -3.6,1.9 -3.7,2.9 -3.6,3.6 -3.6,4.5 -3.8,5.6 -6.7,11.9 -2.6,5.9 -2,6 -.9,4 -.7,4.9 .2,8 1.4,6.9 5.7,16.9 2,7.9 1.2,9 -.2,7.9 -.7,4 -1.1,3.5 -1.7,3.4 -1.9,2.4 -2.7,2.1 -2.7,1 -2.8,.3 -3.6-.7z"/>
<path fill="#f8f8f8" d="M0,269l224,0 0-269 -77.8,0 6.2,4.8 7.2,7 7.3,8.1 5.2,6.9 3.6,6 2.1,4.9 1.5,6 .2,4.9 -.7,5 -2,6 -2.4,4.9 -8,13.9 -3.6,9 -2.5,9.9 -3.8,23.8 -1.7,6.9 -2,6 -2.5,6 -3.5,5.9 -3.5,4.5 -3.6,3 -2.8,1.3 -2.7,.6 -2.7,0 -2.7-.7 -2.7-1.2 -2.8-1.8 -2.7-2.5 -2.6-3.2 -3-4.9 -2.5-6 -1.7-6 -3.5-14.8 -2.8-8 -1.9-4 -1.9-3 -2.8-3.4 -2.7-2.4 -2.7-1.7 -3.6-1.4 -3.7-.4 -3.6,.5 -3.6,1.4 -3.6,2.4 -3.5,3.1 -2.9,3.4 -4.3,6.5 -3.3,7 -2.7,7.9 -1.3,6.9 -.3,6 .5,6 1.2,5.9 4.4,16.9 2,8.9 1.4,10.9 .4,10 -.7,8.9 -.9,4.4 -1.1,3.5 -1.6,3.6 -1.8,2.9 -1.9,2.1 -2.7,2.3 -3.6,1.8 -3.6,.9 -3.7,.2 -4.5-.7 -4.5-1.5 -3.7-2 -4.5-3.3 -3.6-3.6 -5-6.6 -4.6-9 -2.7-6.9 -5.9-17.3 -5.4-13.5 0,109.2zM0,101.2l0,.8 6.8-11.7 12.2-18.8 6-8 5.8-6.4 6.2-5.5 6.5-4.7 6.4-3.9 15.4-8.6 8-5.6 6.5-6 14.5-15.9 4.2-3.9 3.9-3 -102.4,0 0,101.2z"/>
<path fill="#d4e7f1" d="M103.3,268l2.2,1 43.9,0 25.6-7.6 6.4-2.3 5.4-2.4 5.5-3.1 4.5-3.2 4.5-4 3.7-4 3.6-4.8 3.3-5.3 12.1-24 0-130.7 -4.5-4.2 -5.5-3.7 -4.5-2 -4.5-1 -4.6,0 -5.4,1 -5.5,2.3 -5.4,3.3 -4.5,3.7 -4.6,4.8 -4.5,6.8 -3.2,7.7 -2.2,7.9 -3.1,15.9 -1.6,7 -2.5,7.9 -2.9,6.9 -4.5,8.3 -4.5,6.2 -4.5,4 -1.8,1 -2.8,1 -2.7,.4 -2.7-.2 -2.7-.7 -2.7-1.3 -3.7-2.3 -2.7-2.4 -2.7-2.8 -2.5-3.2 -3-5 -2.7-6.3 -1.6-5.6 -3.5-14.9 -2.4-6.9 -3.4-6.2 -1.8-2.2 -2.7-2.4 -2.7-1.6 -3.6-1.1 -3.7,.1 -3.6,1.1 -3.6,2.3 -2.7,2.5 -2.9,3.5 -2.5,4 -2.7,5.9 -1.9,7 -.8,5.9 0,7 1.4,8.9 5.5,23.8 2.8,16.9 1.9,15.9 1.5,25.8 1.3,9.1 1.3,4.8 2.1,5 2.4,3.9 3,4 3.9,4 4.5,3.7 4.6,2.9 4.4,2.3z"/>
<path fill="#9ac8e0" d="M119.6,249.1l4.6,.6 4.6-.1 5.4-.7 5.5-1.3 31.7-9.5 6.3-2.8 5.5-3.5 5.4-5.1 4.6-6.2 3.2-6.1 5.8-12.9 2.8-5.3 3.3-5.6 8-11.9 2.8-5 3-6.9 1.9-7.7 0-24.5 -2.1-13.5 -1.4-6 -1.8-5.9 -2-5 -2.7-4.9 -2.7-3.9 -2.7-3.1 -3.6-3.1 -3.7-2.2 -2.7-1.1 -3.6-.8 -3.6-.1 -2.8,.5 -3.6,1.4 -2.7,1.6 -2.7,2.3 -2.8,3.2 -2.6,4.3 -2.1,4.9 -1.8,6 -3.7,15.9 -2,6.9 -3,8 -4.1,8.9 -5.1,9 -4.6,6.2 -4.5,4.2 -2.7,1.6 -2.8,.9 -2.7,.3 -3.6-.5 -2.7-.9 -3.7-1.9 -3.6-2.6 -3.6-3.1 -3.6-3.8 -2.8-3.5 -3.7-5.9 -3.1-7 -1.7-5.9 -3.1-13.9 -2-5.9 -2.7-5 -2.7-3.1 -2.7-1.9 -2.7-.9 -2.8,0 -2.7,.7 -2.7,1.5 -2,1.7 -2.5,3 -1.8,3 -2.4,5.9 -1.3,6 -.3,5.9 .6,7 10.6,49.4 3.6,13.7 4.2,13.3 2.7,6.9 3.1,6.2 3.6,5.4 3.7,4.2 4.5,3.8 4.5,2.9 4.6,1.9 5.3,1.4z"/>
<path fill="#5f9cc9" d="M120.1,233.3l6,.7 6.3-.8 4.5-1.2 12.7-4.3 12.9-3.4 5.3-1.7 4.5-2.2 4.1-3 3.7-4 3.1-4.5 10-20.3 10-15.9 3.3-5.9 2.7-7 1.4-6.9 .4-7 -.4-8.9 -1.1-9.9 -1.8-8.8 -2.1-6.1 -2.5-4.7 -2.7-3.5 -3.6-2.9 -1.8-1 -2.7-.7 -3.7,.1 -2.7,1 -1.8,1.2 -3.3,3.5 -2.1,3.9 -1.7,4.1 -4.7,16.8 -3.3,9 -4.6,9.9 -7.2,13.9 -4.8,8.2 -4.6,5.8 -2.7,2.6 -1.8,1.2 -1.8,.9 -2.7,.8 -2.8,.1 -3.6-.8 -3.6-1.6 -3.7-2.3 -4.5-3.8 -4.5-4.3 -5.4-5.8 -4-5 -4-5.9 -2.8-6 -1.9-5.9 -3.7-16.8 -1.8-4.3 -1.9-2.8 -2.6-2 -1.8-.5 -1.9,0 -1.8,.7 -1.8,1.2 -2.7,3.5 -1.7,4.1 -.8,3.9 -.2,5 .5,5 4.5,19.8 3.9,18.9 3.8,12.6 3.6,8.8 4.5,9.4 4.6,8.5 3.6,5.6 3.6,4.3 3.6,3.2 4.6,2.7 4,1.5z"/>
<path fill="#4371a2" d="M114.7,201.5l2.3,.6 1.5-.6 .6-1 .2-2 -1.2-4.9 -3.3-7 -5.1-7.7 -5.4-6.1 -2.7-2.2 -1.8-1.1 -1.9-.3 -.9,.5 -.9,2 0,4.2 1.3,4.8 2.4,5.2 3.6,5.4 3.6,4.2 4.5,4.1 3.2,1.9zM164.3,194.6l1.7,.1 2.7-.9 2.7-2.1 2.7-2.9 4.6-6.1 6.3-9.4 3.6-6.1 2.6-5.4 1.3-4 .9-3.9 .3-4 0-4 -.5-4.1 -.9-3.9 -1.2-2.9 -1.6-1.9 -.9-.2 -1.8,.7 -1.8,1.8 -2.7,3.6 -10,15.4 -3.6,6.8 -2.5,5.6 -3.3,9.9 -1.7,8.9 0,3 .5,3 1.1,2 1.5,1z"/></g></g><g clip-path="url(#cp0)"><use href="#d0" x="-.4" y="-.3"/></g><rect width="224" height="269" fill="none" stroke="#000" stroke-width="1.11"/></g>
<g transform="translate(996.5,35.5)"><g clip-path="url(#cp0)"><g transform="translate(-.4,-.3)" fill-rule="evenodd" shape-rendering="crispEdges"><rect width="224" height="269" fill="#b04153"/>
<path fill="#e18676" d="M0,269l224,0 0-269 -224,0 0,269zM37.2,192.8l-2.7-1.4 -2.8-3.1 -1.8-3.9 -1.4-5.7 -.7-7 -.2-9.9 .3-10.9 .8-10.9 1.2-9.9 1.5-8 2-7.9 2-6 2.7-6 3.6-5.4 2.7-2.4 1.9-.8 .9,.1 .9,.3 .9,.9 1.8,4.2 3.2,13.1 4.9,17.1 1.5,8.7 0,6.9 -1.5,8.4 -5.4,20.9 -1.8,6 -1.8,4.3 -2.7,4.1 -3.3,3 -3.1,1.3 -1.8,.2 -1.8-.3zM129.7,154.9l-3.7-2 -4.5-4.1 -3.6-5 -2.7-5.7 -1.3-4.1 -.9-5 -.8-20.8 -.9-6 -.9-3.9 -1.7-5 -2.1-5 -9.9-18.8 -1.3-3 -.9-3 -.1-3 .4-1.9 1-2 2.1-2.6 2.8-2.2 2.7-1.6 3.6-1.5 3.6-1 3.7-.4 3.6,.1 3.6,.7 2.7,.9 3.3,1.6 2.8,2 2.2,2 2.5,3 3.5,5.9 3,7.4 4.5,15.9 2.7,12.2 1.1,10.2 -.2,11 -1.5,14.8 -1.2,6 -1.1,3.9 -2.5,5.4 -1.8,2.3 -1.8,1.5 -1.9,1 -2.7,.6 -2.7-.1 -2.7-.7z"/>
<path fill="#fad0ba" d="M0,269l224,0 0-269 -224,0 0,269zM28.1,215.5l-2.7-.6 -2.7-1.2 -4.6-3.1 -4.5-5.1 -3.5-6 -2.8-6.9 -2.1-8 -1.4-8.9 -.9-10.9 -.2-12.9 .7-13.9 1.3-12.9 2.1-12.9 2.5-11 3.4-10.9 4-9.9 5-9.9 4.6-7.7 4.5-6.5 5.5-6.6 5-5 5.9-4.9 5.4-3.7 6.3-3.6 7.3-3.3 10.9-4 11.8-3.6 10-2.3 8.1-1.1 7.3-.1 7.2,.8 6.4,1.7 6.3,2.9 4.6,2.8 4.5,3.8 4.2,4.6 3,4.6 2.7,5.4 1.9,5.1 1.6,6.8 1.1,6.9 1,11.9 .8,15.9 0,9.9 -.5,9 -1.7,13.9 -2.3,13.2 -2.3,8.6 -2.9,7 -2.6,3.9 -3.1,3 -3.6,2 -3.7,.8 -3.6-.1 -4.5-1.4 -4.1-2.3 -4.1-3.3 -3.3-3.6 -3-4.2 -2.7-4.8 -2-4.9 -1.1-4 -.8-5 -1.1-15.8 -1-7 -1.9-6.9 -3.3-7 -2.5-3.6 -2.7-3.1 -2.7-2.3 -3.6-2.1 -3.7-1.2 -2.7-.3 -3.6,.4 -2.7,1 -3.6,2.4 -3.4,3.9 -2.5,4.9 -1.4,5 -.6,5.9 .1,6 .8,6.9 2.6,15.9 .3,6 -.2,4.9 -1.1,7 -1.8,6.9 -9.2,29.4 -2.7,6.9 -3.6,7.3 -2.7,4.3 -3.7,4.5 -3.6,3.2 -3.6,2 -3.7,1.1 -4.5,0z"/>
<path fill="#f8f8f8" d="M0,269l224,0 0-269 -64.1,0 4.2,4.4 3.7,4.8 3.2,5.7 2.1,5 1.6,5.9 .9,6 .3,6.9 -.4,7 -1.7,11.9 -5.8,31.7 -5.3,34.8 -3.1,14.9 -2.7,8.9 -3.2,6.9 -4.1,5.9 -2.1,2.1 -2.4,1.8 -2.7,1.4 -3.6,1 -3.7,0 -3.6-.6 -3.6-1.4 -3.7-2.1 -3.6-2.7 -3.5-3.4 -3.7-4.3 -3.1-4.6 -2.4-4.4 -1.8-4.5 -1.1-4 -1-5 -1.4-15.8 -.9-6 -1.9-6.6 -2.8-5.2 -2.5-3.1 -2.3-2 -3.3-1.8 -2.7-.8 -2.8-.1 -3.2,.7 -2.2,1.1 -2.7,2.4 -1.8,2.5 -1.3,3 -1.1,3.9 -.6,4 .2,8 2.1,19.8 -.1,7 -.8,5.9 -2.2,8.9 -6.7,20.9 -3.7,12.9 -3.3,14.9 -4.6,25.8 -1.5,6.1 -2,5.8 -1.6,3.5 -1.9,2.9 -1.8,2.3 -2.7,2.6 -2.7,1.8 -2.7,1.3 -5.5,1.3 -3.6,.2 -3.6-.3 -7.3-1.8 -7.2-3.4 -7.3-5.1 0,21.5zM0,33.7l0,.6 4.5-6.3 4.6-5.6 8.1-8.4 9.1-7.6 9.5-6.4 -35.8,0 0,33.7z"/>
<path fill="#c4dfed" d="M119.7,257.1l7.3,0 7.2-.6 7.3-1.1 9-1.9 9.1-2.5 9.1-3 8.1-3.2 7.3-3.4 6.3-3.5 5.5-3.6 5.4-4.1 5.5-4.8 4.5-4.7 4.5-5.3 4.4-6 3.8-6 0-122.2 -5.4-5.1 -5.5-3.4 -4.5-1.8 -4.6-.8 -4.5,.2 -3.6,.8 -3.6,1.5 -3.7,2.2 -3.6,3.2 -3.6,4.2 -2.7,4 -2.8,5.1 -3.6,9.4 -2.1,8.5 -3.5,18.8 -1.7,8 -2.4,7.9 -3.1,8 -4.4,7.9 -4.6,5.6 -4.5,3.7 -2.7,1.3 -2.7,.8 -3.7,.3 -3.6-.5 -4.5-1.5 -4.6-2.5 -4.5-3.3 -4.2-3.9 -3.6-4 -3.8-4.9 -3.4-6 -2.8-6.9 -1.5-7 -1.5-14.9 -1-5.8 -1.8-5.4 -1.4-2.7 -1.5-1.9 -2.3-2 -2-1.1 -2.7-.6 -1.9,.1 -1.8,.5 -1.8,1.1 -1.8,1.9 -1.2,2 -1.5,4.3 -.7,5.7 .1,4.9 1.1,16.9 -.2,6 -.6,4.9 -2.8,10.9 -7.4,22.9 -1.3,5.3 -.9,5.6 -.5,5.9 .2,6 .8,6 1.3,5.8 1.6,5.1 2,4.8 4.5,8.1 5.5,7.3 6.3,6.1 7.3,4.9 8.2,3.8 9,2.5 10,1.2z"/>
<path fill="#70add2" d="M108.7,228.3l5.6,.7 6.3,.1 5.5-.4 6.3-1.1 11.8-3.4 23.6-8.8 9.9-4.8 8.2-5.4 7.3-6.6 6.3-7.8 3.4-5.2 3.1-5.9 2.5-6 1.9-5.9 1.5-6 1.2-7 .7-6.9 .4-7.9 -.1-7 -.6-6.9 -.9-6 -1.5-5.9 -1.9-5 -2.4-4.6 -2.8-3.5 -3.1-2.8 -2.3-1.4 -2.7-1.1 -2.7-.5 -2.8,.1 -2.7,.7 -2.7,1.4 -2.7,2.1 -1.8,2.1 -2.8,4.6 -1.8,5 -3.9,19.7 -2.2,8 -2.6,6.9 -3.7,8 -6.6,11 -5.5,7.2 -2.7,2.5 -2.7,1.9 -2.7,1.1 -2.7,.5 -2.8,0 -3.6-.8 -3.6-1.4 -4.5-2.6 -4.6-3.2 -5.4-4.6 -4.9-4.7 -4.4-5 -3.8-4.9 -2.6-4 -2-4 -1.6-3.9 -1.7-7 -1.8-13.9 -1.7-5.7 -1.8-2.6 -1.8-1.1 -1.8,0 -2,1.5 -1.4,3 -.7,3.9 0,16.9 -.9,7.9 -2.5,10 -7,19.8 -1.9,6.5 -.8,4.4 -.3,4 .6,7 1.8,5.9 3.3,6.3 4.1,5.6 4.9,4.9 5.5,4.2 6.3,3.5 6.4,2.5 7.1,1.8z"/>
<path fill="#4778ab" d="M104.8,202.5l4,0 4.6-.7 3.6-1.4 2.9-1.9 1.8-2 1.4-2.9 .4-3 -.8-4 -2.4-5 -3.6-4.9 -4.4-5 -7.1-6.9 -5.4-4.7 -4.6-3.1 -2.7-1 -2.7,.1 -2.7,1.6 -2.8,3.2 -2.7,4.7 -1.8,4.2 -1.5,4.9 -.6,4 .2,3.9 .7,3 1.3,3 2.1,3 2.9,3 3.1,2.3 3.6,2 4.5,1.9 4.6,1.2 4.1,.5zM169.7,175.7l2.6,.3 3.1-1.3 2.4-2 2.7-3.8 1.5-4.1 .5-4 -.5-3 -.6-1.2 -.9-.9 -1.8-.3 -2.8,1.3 -3.6,3.4 -2.7,3.7 -1.8,4 -.5,2.9 .5,3.1 .9,1.2 1,.7z"/></g></g><g clip-path="url(#cp0)"><use href="#d0" x="-.4" y="-.3"/></g><rect width="224" height="269" fill="none" stroke="#000" stroke-width="1.11"/></g>
<g transform="translate(1240.5,35.5)"><g clip-path="url(#cp0)"><g transform="translate(-.4,-.3)" fill-rule="evenodd" shape-rendering="crispEdges"><rect width="224" height="269" fill="#b04153"/>
<path fill="#e18676" d="M63.6,269l160.4,0 0-105.1 -159.6,0 -.8,.9 0,104.2zM63.6,162.8l.8,.8 159.6,0 0-163.6 -59.7,0 -.2,151 -63.4,0 -.2-59.7 -.7-.8 -25.4,0 -.8,.8 0,59.6 -9.2,.1 -.8,.9 0,10.9z"/>
<path fill="#fad0ba" d="M63.8,269l160.2,0 0-104.9 -159.6,0 -.6,.7 0,104.2zM63.8,162.8l.6,.7 159.6,0 0-163.5 -59.6,0 0,150.9 -.3,.3 -63.4,0 -.4-.3 0-59.6 -.5-.6 -25.4,0 -.6,.6 0,59.6 -.3,.3 -9.1,0 -.6,.7 0,10.9z"/>
<path fill="#f8f8f8" d="M63.9,269l160.1,0 0-104.8 -159.6,0 -.5,.6 0,104.2zM63.9,162.8l.5,.5 159.6,0 0-163.3 -59.4,0 0,150.9 -.5,.4 -63.4,0 -.5-.4 0-59.6 -.4-.4 -25.4,0 -.5,.4 0,59.6 -.4,.4 -9.1,0 -.5,.6 0,10.9z"/>
<path fill="#c4dfed" d="M64,269l160,0 0-104.6 -159.6,0 -.4,.4 0,104.2zM64,162.8l.4,.4 159.6,0 0-163.2 -59.3,0 0,150.9 -.6,.6 -63.4,0 -.7-.6 0-59.6 -.2-.3 -25.4,0 -.3,.3 0,59.6 -.6,.6 -9.1,0 -.4,.4 0,10.9z"/>
<path fill="#70add2" d="M64.2,269l159.8,0 0-104.5 -159.6,0 -.2,.3 0,104.2zM64.2,162.8l.2,.2 159.6,0 0-163 -59.2,0 0,150.9 -.7,.7 -63.4,0 -.9-.7 0-59.6 -25.4-.1 -.1,59.7 -.8,.7 -9.1,0 -.2,.3 0,10.9z"/>
<path fill="#4778ab" d="M64.3,269l159.7,0 0-104.3 -159.6,0 -.1,104.3zM64.3,162.8l159.7,.1 0-162.9 -59,0 0,150.9 -.9,.9 -63.4,0 -.9-.5 -25.4,0 -.9,.5 -9.1,0 -.1,11z"/></g></g><g clip-path="url(#cp0)"><use href="#d0" x="-.4" y="-.3"/></g><rect width="224" height="269" fill="none" stroke="#000" stroke-width="1.11"/></g>
<g transform="translate(1484.5,35.5)"><g clip-path="url(#cp0)"><g transform="translate(-.4,-.3)" fill-rule="evenodd" shape-rendering="crispEdges"><rect width="224" height="269" fill="#b04153"/>
<path fill="#e18676" d="M0,269l224,0 0-269 -71,0 0,106.2 -.6,.6 -10,0 -.9,.4 .7,1 -.7,.2 -13.6,0 -.8-.2 -.1-1 -1.9,0 -.9-.3 -21.7-.2 -2.2-.5 0-106.2 -26.2,0 0,106.2 -7.9,.2 -2.7,.8 0,1 -5.5,0 -1.8,.7 -56.2,0 0,.8 56.2,0 .5,.5 0,4 -.5,.4 -56.2,0 0,4.5 56.2,0 0,7 .5,1 0,.9 .8,1 -.1,20.9 .4,1 -1,1 0,1 -.6,.5 -56.2,0 0,9.9 56.2,0 .6,.5 -.1,5.9 -.5,.5 -56.2,0 0,12.9 56.2,0 .5,.5 0,11.9 -.5,.5 -56.2,0 0,73zM127.9,134.5l-.8-.5 0-5 .8-.8 13.6,0 .7,.8 0,5 -.7,.5 -13.6,0z"/>
<path fill="#fad0ba" d="M60.8,269l163.2,0 0-162.4 -70.7,0 -.7,.6 .3,1 -.5,.4 -24.5,.3 -3.7-.6 -3.6,.3 -18.1-.1 -1.9-.3 1-.2 .6-.8 -2.4-.6 -17.3,0 -16.3,.3 -.6,.3 0,1 -.3,.1 -1.8,.3 -5.5,0 -.9,.6 .8,2 0,3 -.8,.9 0,3 .4,1 0,7 .4,1.9 .1,.3 5.5,0 .7,.7 0,5 -.7,1 .1,15.9 -.1,.2 -1.8,0 -.7,.8 .7,.7 1.8,0 .1,.3 -.1,.2 -1.8,0 -.7,.8 0,8.9 .7,.7 1.8,0 .1,.3 -.1,5.9 -1.8,0 -.9,1 0,11.9 .9,1 1.8,0 0,11.9 -1.8,0 -.9,1 0,72.5zM131.5,151l-.9-1.1 -1.9,0 0-12.9 -.8-.2 -.7-.8 -.2-1.2 -1.9,0 -.9-.5 -2.7,0 -.9,.6 -16.3-.1 -1.5-.8 0-5 1.2-1 0-.9 .3-.4 2.7,0 .6-.6 0-7 13-.2 .4,.2 0,8.9 .5,.5 2.7,0 .6-.5 0-8.9 .3-.2 1.9,0 .9-.7 13.6,0 .9,.7 10,0 .1,9.1 .5,1 0,5 -.6,.8 -10.2,.2 0,1 -.7,1 0,13.9 -10,.1zM127.9,115l-.8-.8 0-3 .8-1.1 13.6,0 .7,1.1 0,3 -.7,.8 -13.6,0z"/>
<path fill="#f8f8f8" d="M63.7,269l160.3,0 0-160.6 -70.7,0 -.9,.7 -10.4,.1 .4,.4 10,0 .6,1.6 -.5,6.9 .7,1 .1,9.1 10.8,0 .8,.8 0,5 -.8,.5 -10.8,0 -.7,2.5 0,12.9 -.2,.5 -6.4,0 -.9,.7 -2.7,0 -.9,.5 -4.6,.2 -5.4,0 -.9-.5 -2.7-.2 -.9-.9 -1.9,0 -.3-.3 0-12.9 -.6-.5 -2.7,0 -.5,.5 0,10.9 -.4,.4 -16.3-.3 -.2-11 -1.3-1 0-1 -1.2-.9 -1-.1 0-5 1-.1 .7-.9 0-.9 .5-1 0-7 1.2-1 0-3 -1.7-.9 .2-3.2 1.8-1.2 16.3-.2 .9,.9 2.7,0 .9-.9 1.9,0 .4-.4 -3.2-.4 -3.6,.3 -16.3-.1 -3.6-.4 -.9-.4 0-1.1 -17.3,0 -.2,.1 0,1 -.7,.1 -14.5,.1 -3.6,.6 -5.7,.2 .2,.5 5.5,0 .9,1.1 1,.4 0,3 -1,.2 -.7,.7 0,3 .5,1 0,7 .2,.5 .9,.2 .1,1.2 .9,1 0,5 -.7,1 0,1 -.3,.3 -.9,.2 -.2,.5 .1,13.9 -.5,1 .5,1 -.5,1 0,8.9 .5,1 -.1,5.9 -.5,1 0,11.9 .5,1 0,11.9 -.5,1 0,72.5zM131.5,164.2l-.2-.4 .2-.6 5.4,0 .4,.6 -.4,.4 -5.4,0zM131.5,153l0-.4 5.4,0 .2,.3 -5.6,.1zM121,118.1l.5,.3 2.7,0 .6-.3 0-3 -.6-.4 -2.7,0 -.5,.4 0,3z"/>
<path fill="#c4dfed" d="M64.4,269l159.6,0 0-134.2 -58.9,0 -.3,1.2 -.6,1 -.1,12.9 -10.8,0 -.9,1.5 -6.4,0 -.9,.5 0,1 -2.7,0 -.9,1 0,7.9 .9,1.6 2.7,0 .2,1.4 -2.9,.1 -.9,.5 -3.7,0 -.5,.4 0,2.9 -.4,.4 -5.4,0 -.4-.4 0-2.9 -.5-.8 -1.8,0 -.7-1.2 .7-1.5 1.8,0 .4-.5 0-7.9 -.4-.4 -2.7-.3 -.3-.3 .3-1 -.9-.5 -1.9,0 -.9-.4 -19.9-.1 -.9-1 0-1 -.8-1 0-10.9 -1-.9 -1-.1 0-1 -.8-1 0-5 .5-1 .3-1.9 0-7 .1-.3 .9,0 .3-.7 0-3 -.3-.3 -.9,0 -.4-.6 0-3 .4-.9 .9,0 1-1.1 -1.9-.3 -.9-.4 -32.7,.2 -2.7,.5 .9,.1 1.6,1.9 0,3 -1.1,.9 0,3 .5,1 0,7 .6,1 0,.9 6.6,.2 .9,.5 7.2,0 .7,.3 0,5 -.7,.5 -7.2,0 -.7,.5 -.2,1.1 -6.4,0 -1,.9 0,10.9 -.8,1 .2,2 -.9,1 .9,1 -.9,1 0,8.9 .9,1 -.2,5.9 -.9,1 0,11.9 .9,1 0,11.9 -.9,1 0,72.5zM153.2,118.1l10.9,.1 1,.7 58.9,0 0-4.3 -58.9,0 -1,.4 -10.8,0 -.1,3.1zM152.8,109.2l.5,.9 70.7,0 0-1.2 -70.7,0 -.5,.3z"/>
<path fill="#70add2" d="M65.7,269l65.3,0 0-72.5 -.3-1 0-25.8 -1.9-.1 -.8-.9 0-2.9 -1-1.6 -1.9,0 -.2-.4 .2-.6 1.9,0 .1-.4 0-8.9 -2-.2 -.9-.8 -6.5,0 6.5-.2 .4-.8 -.4-.2 -19.9-.1 -2.5-.7 .2-2 -.4-.6 -.9,0 -.4-.4 0-10.9 -.5-.5 -17.3,0 -.9,.4 -7.2,0 -.3,.1 0,10.9 -.6,.4 -6.4,0 -.4,.6 .2,2 -.9,1 .9,1 -.9,1 0,8.9 .9,1 -.2,5.9 -1,1 0,11.9 .5,.5 2.7,0 .5,.5 0,11.9 -.5,.5 -2.7,0 -.5,.5 0,72.5zM137.4,269l86.6,0 0-118.6 -58.9,0 -1,.7 -10.8,0 -.7,.8 -.2,1.5 -6.4,0 -.4,.5 0,7.9 .4,.6 6.4,0 .4,2.4 -.4,.4 -6.4,0 -.9,.5 -2.7,0 -.1,3 -.8,.9 -3.7,.1 0,25.8 -.4,1 0,72.5zM82.3,126.1l.2,.2 17.3,0 0-7.2 .3-1 0-3 -.3-.6 -17.3,0 -.9,.5 -7.5,.1 0,3 .3,.3 7.2,0 .7,.7 0,7zM81.8,110.2l.7,.5 17.3,0 .7-1.5 -.7-.3 -33.2,.3 .5,.4 6.4,0 .9,.5 7.4,.1z"/>
<path fill="#4778ab" d="M79.8,269l45.3,0 0-72.5 -.4-1 0-29.7 -.5-.5 -19.9-.3 -.9-1.2 .5-1 0-8.9 -.5-.5 -.9,0 -.6-.5 .4-1 -2.5-.8 -17.3,0 -.9,.5 -7.2,0 -.5,.3 .5,.7 7.2,0 .2,.3 -7.4,.1 -.9,.4 -3.7,0 -.5,.5 0,8.9 .5,.4 6.4,0 .9,.6 -.9,1 0,17.8 .9,.6 2.7,0 .4,.4 0,11.9 -.4,1 0,72.5zM145.1,269l78.9,0 0-100.3 -70.7,0 -.9,.4 -6.4,0 -.5,.6 0,25.8 -.4,1 0,72.5z"/></g></g><g clip-path="url(#cp0)"><use href="#d0" x="-.4" y="-.3"/></g><rect width="224" height="269" fill="none" stroke="#000" stroke-width="1.11"/></g>
<g transform="translate(1728.5,35.5)"><g clip-path="url(#cp0)"><g transform="translate(-.4,-.3)" fill-rule="evenodd" shape-rendering="crispEdges"><rect width="224" height="269" fill="#b04153"/>
<path fill="#e18676" d="M0,269l224,0 0-221.6 -23.3,12.2 -14.2,6.9 -16.6,7 -16.6,6.4 -9.1,3.4 -14.5,4.4 -36.3,9.5 -10.9,3.5 -19,14.9 -7.3,6.1 -5.6,6.3 -4.6,6 -9.9,13.9 -21.3,27.8 -14.8,21.2 0,72.1z"/>
<path fill="#fad0ba" d="M0,269l224,0 0-201.4 -67.8,34.6 -18.4,8.7 -17.2,5.4 -31.7,8.8 -15.2,12.9 -4.3,4.9 -26.1,32.8 -28.8,40.7 -14.5,19.4 0,33.2z"/>
<path fill="#f8f8f8" d="M0,269l224,0 0-187.2 -62.3,31.4 -24.8,12 -29.9,12.7 -13.6,4.6 -5.4,4.2 -2.5,2.2 -2.1,2.4 -19,23.4 -27.2,34.8 -37.2,46.7 0,12.8z"/>
<path fill="#c4dfed" d="M5.2,269l218.8,0 0-174.2 -93.4,46 -32.3,15 -3,2 -17,18.9 -42.9,53.6 -30.2,38.7z"/>
<path fill="#70add2" d="M23.2,269l200.8,0 0-159.9 -51,24.9 -19.8,9.9 -26.2,13.7 -20.7,10.2 -4.7,3 -6.7,6.9 -22.8,27.8 -28.1,35.7 -20.8,27.8z"/>
<path fill="#4778ab" d="M53.4,269l170.6,0 0-136.2 -18.1,8.2 -22.1,10.9 -45,24 -14.7,8.7 -15.3,11.4 -5.4,5.7 -22.7,28.2 -17.2,24.2 -10.1,14.9z"/></g></g><g clip-path="url(#cp0)"><use href="#d0" x="-.4" y="-.3"/></g><rect width="224" height="269" fill="none" stroke="#000" stroke-width="1.11"/></g>
<g transform="translate(1973.5,35.5)"><g clip-path="url(#cp0)"><g transform="translate(-.4,-.3)" fill-rule="evenodd" shape-rendering="crispEdges"><rect width="224" height="269" fill="#a63e51"/>
<path fill="#d46b67" d="M0,269l224,0 0-269 -158.7,0 0,106.3 -65.3,0 0,162.7z"/>
<path fill="#f1ab92" d="M0,269l224,0 0-269 -158.3,0 0,106.2 -.4,.9 -65.3,0 0,161.9z"/>
<path fill="#fdddcc" d="M0,269l224,0 0-269 -69.6,0 0,106.2 -.2,.5 -17.3,0 -35.3-.2 -.3-.3 0-106.2 -19.6,0 0,106.2 -3.8,0 0-106.2 -11.8,0 0,106.2 -.5,1 -.2,2 0,54.6 -65.4,.1 0,105.1z"/>
<path fill="#f8f8f8" d="M0,269l224,0 0-269 -69.2,0 0,106.2 -.5,1 -.1,1.6 -27.2,.2 -.9-.4 -24.5-.1 -.1-1.3 -.8-.9 -18.2-.1 -.9,1 -3.6,0 -.9-.9 -2.7,0 -.9,.5 -7.3,0 -.4,2.4 -.1,54.6 -.4,.9 -65.3,0 0,104.3zM114.3,136l0-9 11.8,0 .9-.6 27.2,.3 0,9.6 -27.2,.3 -.9-.6 -11.8,0z"/>
<path fill="#d4e7f1" d="M65.6,269l158.4,0 0-162.7 -68.9,0 -.4,.9 -.2,2 .1,26.8 -.2,27.8 -.2,.5 -52.6-.2 -.3-.3 -.1-26.8 -.3-1 .2-26.8 -.4-2.1 -6.4-.1 -11.9,.2 0,1 -.5,1 .3,26.8 -.3,1 -.1,26.8 -3.8,.2 -.3-27 -.3-1 .3-26.8 -.6-2.1 -2.7,0 -.3,1.1 -.6,.9 -7.3,0 0,17.1 7.3,0 .3,.9 0,8.9 -.3,.7 -7.3,0 0,.3 -.1,26.8 -.5,1 0,104.2z"/>
<path fill="#9ac8e0" d="M65.9,269l47.7,0 0-78.4 -.2-.2 -11.8,0 -.1-25.6 -.8-.9 -18.2-.1 -.9,.9 -3.6,0 -.9-.8 -2.7,0 -.9,.5 -7.3,0 -.2,.4 -.1,104.2zM154.2,269l69.8,0 0-161.9 -69,.1 -.2,56.6 -.5,1 -.1,104.2z"/>
<path fill="#5f9cc9" d="M73.9,269l3.5,0 0-78.4 -.3-26 -3,.2 -.2,104.2zM82.2,269l18.7,0 -.2-104.4 -18.4,.2 -.1,104.2zM154.6,269l69.4,0 0-105.1 -68.9,0 -.4,.9 -.1,104.2z"/>
<path fill="#4371a2" d="M155,269l69,0 0-104.3 -68.9,0 -.1,104.3z"/></g></g><g clip-path="url(#cp0)"><use href="#d0" x="-.4" y="-.3"/></g><rect width="224" height="269" fill="none" stroke="#000" stroke-width="1.11"/></g>
<g transform="translate(2217.5,35.5)"><g clip-path="url(#cp0)"><g transform="translate(-.4,-.3)" fill-rule="evenodd" shape-rendering="crispEdges"><rect width="224" height="269" fill="#b04153"/>
<path fill="#e18676" d="M0,269l224,0 0-207 -34.5,10.8 -33.5,12.1 -31.8,12.9 -15.4,6.9 -14.5,6.9 -13.6,7 -14.5,7.9 -11.8,6.9 -12.7,8 -11.8,7.9 -10.9,8 -9.9,7.9 -9.1,7.7 0,96.1z"/>
<path fill="#fad0ba" d="M0,269l224,0 0-193.3 -30.8,10.3 -29.1,10.9 -27.2,11.5 -25.4,12.1 -23.5,12.7 -21.8,13.2 -19.9,13.8 -9.1,7 -9,7.5 -14.9,13.9 -6.6,6.9 -6.7,7.8 0,65.7z"/>
<path fill="#f8f8f8" d="M0,269l224,0 0-182.8 -26.3,9.3 -25.1,9.7 -23.9,10.4 -21.7,10.4 -20.5,11 -19.4,11.7 -18,12.1 -15.6,11.9 -8.2,7 -7.6,6.9 -6.9,7 -6.4,6.9 -6.3,7.4 -5.6,7.5 -4.7,6.9 -4.8,8 -3,5.8 0,32.9z"/>
<path fill="#c4dfed" d="M9.3,269l214.7,0 0-172.3 -23.2,8.5 -22,9 -20,8.9 -20.1,9.9 -18.2,9.9 -16.4,10 -16.2,10.9 -14.5,10.9 -12.8,10.9 -12.1,11.9 -9.7,11 -8.9,11.9 -7.4,11.9 -5.8,11.9 -4.3,11.9 -1.6,6 -1.5,6.9z"/>
<path fill="#70add2" d="M33.2,269l190.8,0 0-159.6 -19.7,7.7 -20.7,9 -18.8,8.9 -17,8.9 -15.6,9 -15.6,9.9 -14,9.9 -12.5,9.9 -11.1,10 -10.7,10.9 -9.3,10.9 -7.3,10.1 -6.4,10.8 -5.4,11.1 -4.1,11.7 -2.6,10.9z"/>
<path fill="#4778ab" d="M73,269l151,0 0-137.3 -16.3,7.3 -14.3,6.9 -14.9,8 -13.7,7.9 -12.5,7.9 -12.8,9 -10.2,7.9 -10.4,8.9 -9.2,9 -8.2,8.9 -7.1,8.9 -6.1,9 -5.6,9.9 -4.1,8.9 -3.3,9.6 -2.3,9.3z"/></g></g><g clip-path="url(#cp0)"><use href="#d0" x="-.4" y="-.3"/></g><rect width="224" height="269" fill="none" stroke="#000" stroke-width="1.11"/></g>
<g transform="translate(2461.5,35.5)"><g clip-path="url(#cp0)"><g transform="translate(-.4,-.3)" fill-rule="evenodd" shape-rendering="crispEdges"><rect width="224" height="269" fill="#b04153"/>
<path fill="#e18676" d="M0,269l224,0 0-240.1 -136,8 -49,3.3 -39,3.1 0,225.7z"/>
<path fill="#fad0ba" d="M0,269l224,0 0-209.1 -41.7,6.5 -35.4,6.6 -30.8,7.1 -14.5,3.9 -12.7,3.8 -12.7,4.3 -10.9,4.1 -10,4.3 -9.7,4.7 -8.8,5 -7.8,4.9 -7.2,5.4 -6.5,5.6 -8.5,8.9 -6.8,9.2 0,124.8z"/>
<path fill="#f8f8f8" d="M38.5,269l185.5,0 0-175.8 -24.5,6.7 -22.7,7 -19.9,7.3 -18.7,7.9 -16,7.9 -15.1,9 -12.8,9 -11.8,10 -10.2,10.7 -4.8,6 -4,5.5 -4.1,6.4 -3.4,6 -5.9,12.9 -4.8,14 -3.6,15.8 -2.2,15.8 -1,17.9z"/>
<path fill="#c4dfed" d="M86.9,269l137.1,0 0-139.3 -15.2,6.3 -13.8,6.4 -12.6,6.5 -12,6.9 -10.8,7 -10.9,7.9 -9.5,8 -8.6,8.1 -8.1,8.7 -7.1,9 -6.8,9.9 -5.7,9.9 -4.8,10 -4.4,10.9 -3.8,11.9 -3,11.9z"/>
<path fill="#70add2" d="M134.3,269l89.7,0 0-98.8 -16.3,10.4 -14.5,10.7 -13,11.2 -11.7,11.9 -10.7,12.9 -8.9,12.9 -7.8,13.9 -6.8,14.9z"/>
<path fill="#4778ab" d="M180.9,269l43.1,0 0-52.4 -12.2,11.7 -11.6,12.9 -10.5,13.9 -8.8,13.9z"/></g></g><g clip-path="url(#cp0)"><use href="#d0" x="-.4" y="-.3"/></g><rect width="224" height="269" fill="none" stroke="#000" stroke-width="1.11"/></g>
<g transform="translate(20.5,324.5)"><g clip-path="url(#cp1)"><use href="#d1" x="-.4" y="-.3"/></g><rect width="224" height="268" fill="none" stroke="#000" stroke-width="1.11"/></g>
<g transform="translate(264.5,324.5)"><g clip-path="url(#cp1)"><g transform="translate(-.4,-.3)" fill-rule="evenodd" shape-rendering="crispEdges"><rect width="224" height="268" fill="#b04153"/>
<path fill="#e18676" d="M120.6,268l91.2,0 0-1 -2.8-3 0-1 -3.6-4 0-1 -2.8-3 0-1 -2.7-3 0-1 -2.7-3 0-1 -2.7-3 0-1 -3.7-4 0-1 -2.7-3 0-1 -2.8-3 0-1 -2.7-3 0-1 -3.6-4 0-1 -2.8-3 0-1 -2.7-3 0-1 -2.7-3 0-1 -2.8-3 0-1 -3.6-4 0-1 -8.2-9 0-1 -.9-1 0-2 -1.8-2 0-1 -3.7-4 0-1 -2.7-3 0-1 -2.7-3 0-3 .4-.5 .9,0 2.7-2.9 .9,0 2.8-3 .9,0 3.6-4.1 .9,0 2.8-2.9 .9,0 2.7-3 .9,0 2.7-3 1,0 3.6-3.8 .9-.2 8.2,0 .5-.6 0-1 .4-.4 1.8,0 .9-1 3.7,0 .9-1.1 4.6,0 .9-.9 3.6,0 .9-1 3.7,0 .9-1 4.5,0 .9-1 2.8,0 .5-.6 -.5-.6 -.9,0 -1-1 -.9,0 -1.8-2 -.9,0 -1.8-2 -.9,0 -1.9-2 -.9,0 -.4-.4 .4-.4 .9,0 1-1 .9,0 .9-1 .9,0 .9-1 .9,0 .9-1 .9,0 .9-1 1,0 .9-1 .9,0 .9-1 .9,0 .9-1 .9,0 .9-1 .9,0 1.9-2 .9,0 .9-1 .9,0 .9-1 0-6.2 -9.1,0 -.9,1 -7.3,0 -.9,1 -6.4,0 -.9,1 -7.3,0 -.9,1 -7.3,0 -.9,1 -.4-.4 0-13 -1.4-1.6 -11.8,0 -2.3-2.4 0-1 -1.8-2 0-2 .9-1 0-5 .9-1 0-2 -.9-1 1.8-2 0-6 -7.8-8.6 -.9,0 -2.7-3 -.9,0 -1.8-1.9 -3.7,0 -.9-1 -3.6,0 -.4-.5 0-1 -1.9-2 0-1 -.5-.6 -2.7,0 -.9,1.1 -5.5,0 -.9,1 -5.4,0 -.9,.9 -2.8,0 -1.4,1.6 0,1 -.9,1 0,1 -.9,1 0,1 -.9,1 0,1 -.9,1 0,1 -1.8,2 0,1 -.5,.4 -1.3-1.4 0-1 -1.8-2 0-1 -.9-1 0-1 -1.8-2 0-1 -1.9-2 0-4 -.5-.6 -1.8,0 -.4-.4 0-1 -1.8-2 0-1 -.9-1 0-1 -1.8-2 -2.4-2.5 -.9,0 -1.8-2.1 -.9,0 -.9-.9 -.9,0 -1.8-2.1 -1,0 -1.8-1.9 -.9,0 -1.8-2.1 -.9,0 -1.8-1.9 -.9,0 -1-1.1 -.9,0 -1.8-2 -.9,0 -.9-.9 -.5,.5 0,2 -.9,1 0,3 -.9,1 0,4 -.9,1 0,7 .9,1 0,5 .9,1 0,4 .9,1 0,4 .9,1 0,4 .9,1 -.4,.4 -.9,0 -.9,1 -.9,0 -.9,1 -1,0 -.9,1 -2.7,0 -.9-1 -.9,0 -.9-1 -.9,0 -2.8,3 -.9,0 -3.6,4 -.9,0 -2.8,3 -.9,0 -3.6,4 -.9,0 -4.6,5 -.9,0 -.9-1 -3.6,4 -4.6,0 -.9-1 -3.7,0 -.9,1 -2.7,0 -.9,1 -3.6,0 -1,1 -3.6,0 -.9,1 -2.7,0 -1,1 -3.6,0 -.9,1 -3.6,0 -1,1 -2.7,0 -.9,1 0,19.2 1.8,0 .9-1 11.9,0 .4,.4 -6.4,7 .5,.6 1.8,0 .9-1 9.1,0 1-1 8.1,0 1-1 3.6,0 .4,.4 -.9,1 0,2 -.9,1 0,2 -.9,1 0,2 -.9,1 .5,.6 2.7,0 .9,1 1.8,0 .9,.9 1,0 .9,1.1 .9,0 4.9,5.4 -.9,1 0,3 .9,1 0,1 -.4,.4 -1.8,0 -.9,1 -1.8,0 -.9,1 -.9,0 -1,1 -1.8,0 -.9,1.1 -1.8,0 -.9,.9 -1.8,0 -1,1 -.9,0 -.5,.6 .5,.6 .9,0 1,1 .9,0 .9,.9 .9,0 .9,1.1 .9,0 .9,1 .9,0 1.9,2 .9,0 .9,.9 .9,0 .9,1.1 .9,0 .9,1 .9,0 1.8,2 1,0 .9,.9 .9,0 1.3,1.5 0,3 .9,1 0,4 .9,1 0,4 .5,.5 .9-.9 1.9,0 .4,.4 0,2 1.4,1.6 .9,0 .9-1 .9,0 .9-1 .9,0 .9-1.1 1,0 1.8-1.9 .9,0 .9-1 1.8,0 .9,1 .9,0 2.3,2.4 0,2 .9,1 0,1 .9,1 0,2 .5,.6 .9,0 .9,1 3.7,0 .9-1 .9,0 .9-1 .9,0 .9-1 .9,0 .9-1.1 .9,0 .9-.9 1,0 .9-1 1.8,0 .9-1 .9,0 3.2,3.4 0,1 1.8,2 0,1 .9,1 0,1 1.8,2 0,6 .9,1 0,2 .9,1 0,1 .9,1 0,13 .9,1 0,1 3.7,4 0,1 2.7,3 0,1 3.7,4 0,1 .9,1 0,1 .9,1 0,1 .9,1 0,18 .9,1 0,7z"/>
<path fill="#fad0ba" d="M121,268l90.3,0 0-1 -2.7-3 0-1 -3.6-4 0-1 -2.8-3 0-1 -2.7-3 0-1 -2.7-3 0-1 -2.8-3 0-1 -3.6-4 0-1 -2.7-3 0-1 -2.8-3 0-1 -2.7-3 0-1 -3.6-4 0-1 -2.8-3 0-1 -2.7-3 0-1 -2.7-3 0-1 -2.8-3 0-1 -3.6-4 0-1 -8.2-9 0-1 -.9-1 0-2 -1.8-2 0-1 -3.7-4 0-1 -2.7-3 0-1 -2.7-3 0-3 .8-.9 .9,0 2.7-3 .9,0 2.8-3 .9,0 3.6-4 .9,0 2.8-3 .9,0 2.7-3 .9,0 2.7-3 1,0 2.8-3.1 1.7-.9 8.2,0 .1-1.1 .8-.9 1.8,0 .9-1 3.7,0 .9-1 4.6,0 .9-1 3.6,0 .9-1 3.7,0 .9-1 4.5,0 .9-1 2.8,0 -.9-.2 -1-1 -.9,0 -1.8-2 -.9,0 -1.8-2 -.9,0 -1.9-2 -.9,0 -.8-.9 .8-.9 .9,0 1-1 .9,0 .9-1 .9,0 .9-1 .9,0 .9-1 .9,0 .9-1 1,0 .9-1 .9,0 .9-1 .9,0 .9-1 .9,0 .9-1 .9,0 1.9-2 .9,0 .9-1 .9,0 .9-1 0-5.2 -9.1,0 -.9,1 -7.3,0 -.9,1 -6.4,0 -.9,1 -7.3,0 -.9,1 -7.3,0 -.9,1 -.8-.9 0-13 -1-1.1 -11.8,0 -2.7-2.9 0-1 -1.8-2 0-2 .9-1 0-5 .9-1 0-2 -.9-1 1.8-2 0-6 -7.4-8.1 -.9,0 -2.7-3 -.9,0 -1.8-2 -3.7,0 -.9-1 -3.6,0 -.8-.9 0-1 -1.9-2 -.1-1.1 -2.7,0 -.9,1 -5.5,0 -.9,1 -5.4,0 -.9,1 -2.8,0 -1,1.1 0,1 -.9,1 0,1 -.9,1 0,1 -.9,1 0,1 -.9,1 0,1 -1.8,2 0,1 -.9,.9 -1.7-1.9 0-1 -1.8-2 0-1 -.9-1 0-1 -1.8-2 0-1 -1.9-2 0-4 -1.9-.1 -.8-.9 0-1 -1.8-2 0-1 -.9-1 0-1 -1.9-2.1 -1.9-2 -.9,0 -1.8-2 -.9,0 -.9-1 -.9,0 -1.8-2 -1,0 -1.8-2 -.9,0 -1.8-2 -.9,0 -1.8-2 -.9,0 -1-1 -.9,0 -1.8-2 -.9,0 -.9-1 -.1,2.1 -.9,1 0,3 -.9,1 0,4 -.9,1 0,7 .9,1 0,5 .9,1 0,4 .9,1 0,4 .9,1 0,4 .9,1 -.8,.9 -.9,0 -.9,1 -.9,0 -.9,1 -1,0 -.9,1 -2.7,0 -.9-1 -.9,0 -.9-1 -.9,0 -2.8,3 -.9,0 -3.6,4 -.9,0 -2.8,3 -.9,0 -3.6,4 -.9,0 -4.6,5 -.9,0 -.9-1 -3.6,4 -4.6,0 -.9-1 -3.7,0 -.9,1 -2.7,0 -.9,1 -3.6,0 -1,1 -3.6,0 -.9,1 -2.7,0 -1,1 -3.6,0 -.9,1 -3.6,0 -1,1 -2.7,0 -.9,1 0,18.2 1.8,0 .9-1 11.9,0 .8,.9 -6.3,7.1 1.8,0 .9-1 9.1,0 1-1 8.1,0 1-1 3.6,0 .8,.9 -.9,1 0,2 -.9,1 0,2 -.9,1 0,2 -.9,1 2.8,.1 .9,1 1.8,0 .9,1 1,0 .9,1 .9,0 5.3,5.9 -.9,1 0,3 .9,1 0,1 -.8,.9 -1.8,0 -.9,1 -1.8,0 -.9,1 -.9,0 -1,1 -1.8,0 -.9,1 -1.8,0 -.9,1 -1.8,0 -1,1 -1,.1 1,.1 1,1 .9,0 .9,1 .9,0 .9,1 .9,0 .9,1 .9,0 1.9,2 .9,0 .9,1 .9,0 .9,1 .9,0 .9,1 .9,0 1.8,2 1,0 .9,1 .9,0 .8,.9 .9,1 0,3 .9,1 0,4 .9,1 .1,4.1 .9-1 1.9,0 .8,.9 0,2 1,1.1 .9,0 .9-1 .9,0 .9-1 .9,0 .9-1 1,0 1.8-2 .9,0 .9-1 1.8,0 .9,1 .9,0 2.7,2.9 0,2 .9,1 0,1 .9,1 0,2 1,.1 .9,1 3.7,0 .9-1 .9,0 .9-1 .9,0 .9-1 .9,0 .9-1 .9,0 .9-1 1,0 .9-1 1.8,0 .9-1 .9,0 3.6,3.9 0,1 1.8,2 0,1 .9,1 0,1 1.8,2 0,6 .9,1 0,2 .9,1 0,1 .9,1 0,13 1,1 0,1 3.6,4 0,1 2.7,3 0,1 3.7,4 0,1 .9,1 0,1 .9,1 0,1 .9,1 0,18 .9,1 0,7z"/>
<path fill="#f8f8f8" d="M126,213l.6,.6 .9,0 .6-.6 0-1 .9-1 0-1 .9-1 0-1 .9-1 0-1 .9-1 0-1 .9-1 0-1 .9-1 0-1 .9-1 0-1 1-1 0-1 .9-1 0-1 .9-1 0-1 1.8-2 0-1 .9-1 0-1 .9-1 0-3 -.9-1 0-3 -.9-1 0-10 -.9-1 0-5 .3-.4 1.8,0 .9-1 .9,0 .6-.6 0-1 1-1 0-1 .9-1 0-2 9.4-10.4 9.1,0 .9,1 7.3,0 1.5-.6 1.2-1.4 .9,0 .9-1 1,0 1.5-1.6 0-1 -1-1 0-1 1.9-2 0-1 1.8-2 0-1 1.8-2 -.6-.6 -.9,0 -.9-1 -2.7,0 -.9-1 -1.9,0 -1.2-1.4 0-2 -.9-1 0-3 -1.5-1.6 -.9,0 -3.1-3.4 0-1 -.9-1 0-4 -.9-1 0-3 -1.8-2 0-8 -1.5-1.6 -.9,0 -4.6-5 -.9,0 -1.2-1.4 0-3 .9-1 0-1 .9-1 0-1 .9-1 0-2 -.9-1 0-1 -.9-1 0-1 -.9-1 0-2 -1.5-1.6 -6.4,0 -.3-.4 0-2 -.9-1 0-1 -.9-1 0-2 -.6-.6 -.9,0 -1-1 -2.7,0 -.9-1.1 -2.7,0 -.6,.7 0,2 -.9,1 0,4 -.9,1 0,3 -.9,1 0,2 -1.3,1.4 -.9,0 -.9,1 -.9,0 -.9,1 -1.8,0 -1,1 -.9,0 -.9,1 -.9-1 -.9,0 -1.8-2 -.9,0 -2.8-3 -1.5,1.6 0,1 -.3,.4 -.9,0 -.9,1 -1.8,0 -.9,1 -.9,0 -1,1 -.9-1 -4.5,0 -.3-.4 0-4 -.9-1 0-4 -1-1 0-1 -.5-.6 -2.8,0 -.9,.9 -1.8,0 -.9,1.1 -1.8,0 -1,1 -2.7,0 -.9,1 -1.8,0 -.9,1 -2.8,0 -.9,1 -.9,0 -.6,.6 0,2 -.3,.4 -.9,0 -.9-1 -.9,0 -1.5,1.6 0,5 -.9,1 0,4 -.9,1 0,4 -1,1 0,3 -3.9,4.4 -.9,0 -.9-1 -5.5,0 -.9-1 -4.6,0 -.9-1 -.9,0 -.9-1 -.9,0 -.9-1 -.9,0 -.9-1 -2.8,0 -.6,.6 .9,1 0,4 -.3,.4 -.9,0 -1.5,1.6 .6,.6 .9,0 2.2,2.4 0,5 .9,1 0,1 .6,.6 1.8,0 .9,1 .9,0 .9,1 .9,0 .9,1 1.9,0 .3,.4 0,7 .6,.6 1.8,0 .9-1 2.7,0 .3,.4 0,1 1,1 0,3 -1,1 0,3 -.9,1 0,2 -.9,1 0,1 -.9,1 0,1 -2.1,2.4 -.9,0 -.9,1 -1.9,0 -.9,1 -2.7,0 -.9,1 -1.8,0 -.6,.6 0,1 .9,1 3.3,3.6 .9,0 2.2,2.4 0,1 .9,1 0,1 .9,1 0,1 .9,1 0,2 .9,1 0,1 .9,1 0,1 2.7,3 0,1 1.5,1.6 1.9,0 .9,1 .9,0 2.1,2.4 0,1 .9,1 0,1 1.5,1.6 1.9,0 .9,1 1.8-2 .9,0 .9-1 .9,0 .9-1 .9,0 1-1 .9,0 .9-1 .9,0 13.6,15 1,0 .9,1 1.8,0 .9,1 1.8,0 1.2,1.4 0,5 5.5,6 0,1 7,7.6 .9,0 .9,1 .9,0 .9,1 .9,0 1.8,2 1,0 .3,.4z"/>
<path fill="#c4dfed" d="M126.4,213l.2,.2 1.1-.2 0-1 .9-1 0-1 .9-1 0-1 .9-1 0-1 .9-1 0-1 .9-1 0-1 .9-1 0-1 .9-1 0-1 .9-1 0-1 1-1 0-1 .9-1 0-1 1.8-2 0-1 .9-1 0-1 .9-1 0-3 -.9-1 0-3 -.9-1 0-10 -.9-1 0-5 .7-.8 1.8,0 .9-1 1.1-.2 0-1 .9-1 0-1 1-1 0-2 9.8-10.8 9.1,0 .9,1 7.3,0 1.1-.2 1.6-1.8 .9,0 .9-1 1,0 1-1.2 0-1 -.9-1 0-1 1.9-2 0-1 1.8-2 0-1 1.8-2 -1.1-.2 -.9-1 -2.7,0 -.9-1 -1.9,0 -1.6-1.8 0-2 -.9-1 0-3 -1.1-1.2 -.9,0 -3.5-3.8 0-1 -.9-1 0-4 -.9-1 0-3 -1.8-2 0-8 -1.1-1.2 -.9,0 -4.6-5 -.9,0 -1.6-1.8 0-3 .9-1 0-1 .9-1 0-1 .9-1 0-2 -.9-1 0-1 -.9-1 0-1 -.9-1 0-2 -1.1-1.2 -6.4,0 -.7-.8 0-2 -.9-1 0-1 -.9-1 0-2 -1.1-.2 -1-1 -2.7,0 -.9-1 -2.9,.2 0,2 -.9,1 0,4 -.9,1 0,3 -.9,1 0,2 -1.7,1.8 -.9,0 -.9,1 -.9,0 -.9,1 -1.8,0 -1,1 -.9,0 -.9,1 -.9-1 -.9,0 -1.8-2 -.9,0 -2.8-3 -1.1,1.2 0,1 -.7,.8 -.9,0 -.9,1 -1.8,0 -.9,1 -.9,0 -1,1 -.9-1 -4.5,0 -.7-.8 0-4 -1-1 0-4 -.9-1 -.1-1.2 -2.8,0 -.9,1 -1.8,0 -.9,1 -1.8,0 -1,1 -2.7,0 -.9,1 -1.8,0 -.9,1 -2.8,0 -.9,1 -1.1,.2 0,2 -.7,.8 -.9,0 -.9-1 -.9,0 -1.1,1.2 0,5 -.9,1 0,4 -.9,1 0,4 -.9,1 0,3 -4.4,4.8 -.9,0 -.9-1 -5.5,0 -.9-1 -4.6,0 -.9-1 -.9,0 -.9-1 -.9,0 -.9-1 -.9,0 -.9-1 -2.8,0 -.2,.2 1,1 0,4 -.8,.8 -.9,0 -1.1,1.2 1.1,.2 2.6,2.8 0,5 .9,1 .2,1.2 1.8,0 .9,1 .9,0 .9,1 .9,0 .9,1 1.9,0 .7,.8 0,7 2,.2 .9-1 2.7,0 .8,.8 0,1 .9,1 0,3 -.9,1 0,3 -1,1 0,2 -.9,1 0,1 -.9,1 0,1 -2.5,2.8 -.9,0 -.9,1 -1.9,0 -.9,1 -2.7,0 -.9,1 -2,.2 0,1 .9,1 2.9,3.2 .9,0 2.6,2.8 0,1 .9,1 0,1 .9,1 0,1 .9,1 0,2 .9,1 0,1 .9,1 0,1 2.7,3 0,1 1.1,1.2 1.9,0 .9,1 .9,0 2.5,2.8 0,1 .9,1 0,1 1.1,1.2 1.9,0 .9,1 1.8-2 .9,0 .9-1 .9,0 .9-1 .9,0 1-1 .9,0 .9-1 .9,0 13.6,15 1,0 .9,1 1.8,0 .9,1 1.8,0 1.7,1.8 0,5 5.4,6 0,1 6.6,7.2 .9,0 .9,1 .9,0 .9,1 .9,0 1.8,2 1,0 .7,.8z"/>
<path fill="#70add2" d="M134.1,179l.7,.8 .9,0 .7-.8 0-5 .9-1 0-2 -1.6-1.8 -.9,0 -.9-1 -1,0 -1.8-2 -.9,0 -.2-1.2 .9-1 0-1 .9-1 0-2 1.8-2 0-2 .9-1 0-2 .9-1 0-1 1.2-1.2 .9,0 .9-1 1.8,0 .7-.8 0-2 .9-1 0-4 .9-1 0-3 1.2-1.2 .9,0 .9-1 .9,0 .9-1 1.8,0 .9,1 2.8,0 4.3-4.8 0-1 .9-1 0-1 -.9-1 0-1 -.9-1 0-2 -.9-1 0-1 -.9-1 0-2 -.7-.8 -2.7,0 -1,1 -2-2.2 0-1 -1.8-2 0-2 -.9-1 3.6-4 0-1 .9-1 0-2 -.9-1 0-2 -.9-1 .9-1 0-1 .9-1 0-1 .9-1 0-1 .9-1 0-1 .9-1 0-1 1-1 0-1 -2.5-2.8 -1,0 -3.6-4 -.9,0 -1.8-2 -1.9,0 -.9,1 -.9,0 -2.5,2.8 0,1 -2.7,3 0,1 -3.7,4 0,1 -2.7,3 0,1 -1.1,1.3 -.9,0 -.9,.9 -1-.9 -.9,0 -.9-1.1 -.9,0 -.9-1 -.7,.8 0,2 -.2,.2 -.9-.9 -.9,0 -.9-1.1 -1.9,0 -.9-1 -.9,0 -.9-1 -1.8,0 -.9-1 -.9,0 -.9-.9 -1,0 -.9-1 -1.8,0 -.2-.3 0-2 -.9-1 0-1 -1.6-1.8 -.9,0 -.9-1 -3.7,0 -.9,1 -.9,0 -.9,1 -.9,0 -.9,1 -.9,0 -1,1 -.9,0 -.9,1 -2.7,0 -1.8,2.1 -2.8,0 -.6,.7 .9,1 -2.1,2.2 -.9,0 -1.6,1.8 0,5 -.9,1 0,2 -.2,.2 -1.8,0 -1,1 -2.7,0 -.9-1 -1.8,0 -.9,1 -.9,0 -.7,.8 0,1 .9,1 0,3 -.9,1 0,1 -.9,1 0,1 .7,.8 .9,0 2,2.2 .9,1 0,1 -.9,1 0,1 -1.8,2 0,4 -.9,1 0,7 -.9,1 0,1 -.9,1 0,2 -2.8,3 0,1 -1.8,2 0,4 .9,1 0,3 1.8,2 0,1 2.8,3 0,1 .7,.8 .9,.9 .9,0 2.7,3.1 .9,0 1.8,2 6.4,0 .9-1 2.8,0 .9-1 .9,0 1.8-2 .2,1.2 1.6,1.8 11.9,0 .9,1 .9,0 .9,1 2.7,0 .9,1 1.8,0 1,1 1.8,0 .9,1 1.8,0 .9,.9 1.8,0 1,1.1 .9,0 .9-1.1 1.8,2 1.8,0 .9,1.1 1.8,0 1,1 1.8,0 .9,1 1.8,0 .9,1 2.8,0 .2,.2z"/>
<path fill="#4778ab" d="M134.5,179l.3,.3 .9,0 .2-.3 0-5 1-1 0-2 -1.2-1.3 -.9,0 -.9-1 -1,0 -1.8-2 -.9,0 -.6-.7 0-1 .9-1 0-1 .9-1 0-2 1.8-2 0-2 .9-1 0-2 .9-1 0-1 1.6-1.7 .9,0 .9-1 1.8,0 .3-.3 0-2 .9-1 0-4 .9-1 0-3 1.6-1.7 .9,0 .9-1 .9,0 .9-1 1.8,0 .9,1 2.8,0 3.9-4.3 0-1 .9-1 0-1 -.9-1 0-1 -.9-1 0-2 -.9-1 0-1 -.9-1 0-2 -.3-.3 -2.7,0 -1,1 -2.4-2.7 0-1 -1.8-2 0-2 -.9-1 3.6-4 0-1 .9-1 0-2 -.9-1 0-2 -.9-1 .9-1 0-1 .9-1 0-1 .9-1 0-1 .9-1 0-1 .9-1 0-1 .9-1 0-1 -2-2.3 -1,0 -3.6-4 -.9,0 -1.8-2 -1.9,0 -.9,1 -.9,0 -2.1,2.3 0,1 -2.7,3 0,1 -3.6,4 0,1 -2.8,3 0,1 -1.5,1.7 -.9,0 -.9,1 -1-1 -.9,0 -.9-1 -.9,0 -.9-1 -.3,.3 0,2 -.6,.7 -.9-1 -.9,0 -.9-1 -1.9,0 -.9-1 -.9,0 -.9-1 -1.8,0 -.9-1 -.9,0 -.9-1 -1,0 -.9-1 -1.8,0 -.6-.7 0-2 -.9-1 0-1 -1.2-1.3 -.9,0 -.9-1 -3.7,0 -.9,1 -.9,0 -.9,1 -.9,0 -.9,1 -.9,0 -1,1 -.9,0 -.9,1 -2.7,0 -1.8,2 -2.8,0 -.2,.3 .9,1 -2.5,2.7 -.9,0 -1.2,1.3 0,5 -.9,1 0,2 -.6,.7 -1.8,0 -1,1 -2.7,0 -.9-1 -1.8,0 -.9,1 -.9,0 -.3,.3 0,1 .9,1 0,3 -.9,1 0,1 -.9,1 0,1 .3,.3 .9,0 .9,1 2.4,2.7 0,1 -.9,1 0,1 -1.8,2 0,4 -.9,1 0,7 -.9,1 0,1 -.9,1 0,2 -2.8,3 0,1 -1.8,2 0,4 .9,1 0,3 1.8,2 0,1 2.8,3 0,1 .9,1 .3,.3 .9,0 2.7,3 .9,0 1.8,2 6.4,0 .9-1 2.8,0 .9-1 .9,0 1.8-2 .6,.7 0,1 1.2,1.3 11.9,0 .9,1 .9,0 .9,1 2.7,0 .9,1 1.8,0 1,1 1.8,0 .9,1 1.8,0 .9,1 1.8,0 1,1 .9,0 .9-1 1.8,2 1.8,0 .9,1 1.8,0 1,1 1.8,0 .9,1 1.8,0 .9,1 2.8,0 .6,.7z"/></g></g><g clip-path="url(#cp1)"><use href="#d1" x="-.4" y="-.3"/></g><rect width="224" height="268" fill="none" stroke="#000" stroke-width="1.11"/></g>
<g transform="translate(508.5,324.5)"><g clip-path="url(#cp1)"><g transform="translate(-.4,-.3)" fill-rule="evenodd" shape-rendering="crispEdges"><rect width="224" height="268" fill="#a93e51"/>
<path fill="#da776c" d="M0,268l224,0 0-268 -200.1,0 -23.9,197.9 0,70.1z"/>
<path fill="#f7bda3" d="M25,268l199,0 0-268 -166.6,0 -32.4,268z"/>
<path fill="#fcebe1" d="M58.4,268l165.6,0 0-268 -133.1,0 -32.5,268z"/>
<path fill="#e5eff5" d="M91.9,268l132.1,0 0-268 -99.7,0 -32.4,268z"/>
<path fill="#afd4e7" d="M125.4,268l98.6,0 0-268 -66.2,0 -32.4,268z"/>
<path fill="#65a4cd" d="M158.8,268l65.2,0 0-268 -32.7,0 -32.5,268z"/>
<path fill="#4473a4" d="M192.3,268l31.7,0 0-261.8 -31.7,261.8z"/></g></g><g clip-path="url(#cp1)"><use href="#d1" x="-.4" y="-.3"/></g><rect width="224" height="268" fill="none" stroke="#000" stroke-width="1.11"/></g>
<g transform="translate(752.5,324.5)"><g clip-path="url(#cp1)"><g transform="translate(-.4,-.3)" fill-rule="evenodd" shape-rendering="crispEdges"><rect width="224" height="268" fill="#a93e51"/>
<path fill="#db796d" d="M0,268l224,0 0-268 -224,0 0,268zM40.1,76.2l-1.9-1 -1-1.2 -.9-2 -.3-3 .4-3 .6-2 1.2-2.4 2-2.6 2.1-2 2.3-1.6 2.7-1.2 2.8-.8 2.7-.2 2.7,.2 1.9,.6 1.5,1 .8,1 .7,2 -.3,3 -1.8,4 -2.8,3.7 -3.6,3.5 -4.6,2.8 -3.6,1.3 -1.8,.1 -1.8-.2zM82,230.2l-2.8-.8 -2.7-1.3 -4.6-3.2 -5.4-5.8 -4-6.1 -2.5-6 -.6-3 -.1-2 .4-2 1.1-2 2.7-2 3.9-1.2 4.5-.4 5.5,.4 5.5,1.3 4.6,1.9 4.5,2.8 3.3,3.2 2,3 1.6,4 .6,5 -.8,4 -1.9,4 -3,3.3 -3.7,2.1 -3.6,1 -4.5-.2zM173,186.3l-2.7-2.3 -1.8-3 -1-3.3 .2-3.7 1.2-3 2.3-2.4 1.8-1 1.8-.4 2.8,.1 1.5,.7 1.2,1 1.2,2 .8,4 -.4,4 -1.4,4 -2,2.6 -.9,.7 -1.9,.6 -2.7-.6z"/>
<path fill="#f7bda3" d="M0,268l224,0 0-134.3 -1.6,5.3 -2,4.7 -9,15.3 -3.3,7 -2.6,9 -5.1,23 -2.3,7 -2.4,5 -1.9,3 -2.6,3.3 -2.7,2.5 -2.7,1.7 -2.8,1.2 -3.6,.5 -2.7-.3 -2.8-1 -3.6-2.9 -2.8-3.5 -2.7-5 -3.6-8.7 -3.7-10.2 -1.8-6.6 -.9-6 .1-6 .7-3 1.1-3 1.7-3 2.5-3 4.8-4.1 12.8-8.4 2.8-2.5 2.4-3 1.9-4 1-4 .2-4 -.3-5 -1.4-6 -2.6-7 -9.5-18.6 -9.1-20 -2.7-4.7 -2.8-3.6 -2.7-2.8 -3.6-2.6 -2.8-1.3 -2.7-.8 -6.4-.7 -5.4,.4 -11.9,2 -6.3,.7 -6.4-.1 -12.8-1.4 -4.5-.2 -4.6,.4 -4.5,1.3 -4.6,2.3 -5.4,4.2 -22,21.5 -3.8,4 -3.1,4 -1.7,3 -1.7,4 -1,5 -.2,5 1.6,18 1.3,22 .9,6 1.3,5 1.5,4 2.1,4 2,2.7 2.2,2.3 2.6,2 3.4,1.9 6.4,2.3 12.7,3.3 6.4,2 6.1,2.5 5.5,3 4.8,3.5 3.6,3.7 3.3,4.8 2.3,5 1.5,6 .5,7 -.6,7 -1.6,6 -2.7,6.1 -3.6,5.4 -4.5,4.7 -4.6,3.3 -3.6,1.7 -4.6,1.4 -4.5,.3 -3.7-.4 -4.5-1.5 -3.7-2 -3.6-2.9 -3.7-3.9 -5.1-7.2 -11.3-18 -6.3-8.8 -6.5-7.2 -15.1-14 -3.9-4.8 -2.9-4.2 -2.1-4 -1.6-4 -2.3-8 -1.2-9 -.3-11 .3-29 .4-12 1.3-13 2.6-19 2-11 2.7-9 3.3-7 4.1-5.8 3.7-3.6 3.6-2.7 4.6-2.5 5.4-2 9.1-2.1 20.1-2.6 9.1-1.7 9.1-2.6 24.6-8.1 7.3-2 6.3-1.2 8.2-.8 7.3,.3 7.3,1.3 7.3,2.5 8.2,4.1 10.9,7 9.1,6.8 7.3,6.6 3.6,4.1 2.9,4 3.1,5 2.5,5 2.9,7 7.2,20 9.6,21 2.8,8.9 0-114.9 -224,0 0,268z"/>
<path fill="#fcebe1" d="M136.5,233l1.9,.3 2.7-.5 1.9-.9 1.8-1.6 2.8-4.3 1.1-3 1-4 .7-6 -.1-7 -.8-7 -2.2-14 -.6-7 .2-6 1.2-6 2.2-5 3.6-5 4.2-4 10.9-9 2.7-3 2-3 1.7-4 .9-5 -.2-5 -1.4-6 -3-8 -9.5-22 -2.9-6 -2.7-4.4 -2.7-3.4 -2.7-2.6 -2.8-1.9 -2.7-1.4 -2.7-.9 -6.4-.7 -5.5,.3 -15.5,1.9 -5.4,0 -14.6-.6 -4.5,.4 -3.7,.8 -4.5,1.7 -4.6,2.7 -4.5,3.5 -5.1,4.6 -5.8,6 -5.1,6 -3.4,5 -2.4,5 -1.8,7 -.6,9 .7,27 .6,6 1.2,6 1.9,5 2.5,4.1 3.4,3.9 3.8,2.9 7.3,3.6 16.4,5.9 8.6,3.6 7.2,4 6.6,5 4.8,5 3.5,5 2.8,5 5.7,11.6 2.7,4.5 3.6,4 1.9,1.2 1.7,.7z"/>
<path fill="#e5eff5" d="M128.1,199l3,.9 1.8-.2 1.9-1.1 1.8-3.1 1.2-5.5 1.2-14 1-7 1.6-6 2.8-6 2.1-3 2.8-3.3 12.9-11.7 2.4-3 1.7-3 1.4-4 .4-5 -.5-5 -1.6-6 -6.9-18 -4.3-9.1 -2.5-3.9 -2.5-3 -3.2-2.7 -2.7-1.6 -2.8-1 -2.7-.6 -5.5-.3 -18.2,1.8 -19.1-.2 -4.5,.6 -3.7,.9 -4.5,2 -3.7,2.3 -3.6,2.8 -4.2,4 -4,4.4 -3.5,4.6 -2.9,4.8 -1.8,4.2 -1.5,5 -.8,5 -.6,17 .3,14 .6,5 1.3,5 1.7,4 2.7,4 2.8,3 4.1,3 6.7,3.4 19.1,7.6 10,4.5 8.2,4.5 10.9,7.1 3.4,1.9z"/>
<path fill="#add3e6" d="M115.9,182l4.3,.6 2.7-.3 2.8-1.1 1.8-1.6 1.7-2.6 1-2.2 4.7-14.8 3.3-7 2-3 2.8-3.2 9.6-8.8 3.1-3.3 2.7-4.2 1.6-4.5 .3-3 -.1-3 -1.2-7 -3.6-11 -3.8-9 -3.2-5.2 -3.5-3.8 -3.8-2.5 -4.5-1.5 -6.4-.3 -17.3,1.9 -17.3-.2 -4.5,.7 -4.6,1.6 -3.6,2 -3.7,2.6 -3.6,3.5 -2.8,3.2 -2.9,4 -2.2,4 -1.7,4 -1.4,5 -.8,5 -.6,7 -.6,12 .1,7 .5,5 .9,4 1.5,3.8 1.8,3.2 2.5,3 2.9,2.6 3.7,2.4 3.9,2 7,3.1 13.7,5.2 9.1,3.1 5.7,1.6z"/>
<path fill="#64a3cc" d="M107.5,172l4.5,.4 3.6-.4 2.8-1.1 2.7-2.1 1.8-2.5 1.2-2.3 4.8-13 3.1-6 3.7-4.3 10.9-9.6 2.4-3.1 1.5-3 1-4 0-5 -1-6 -2.2-7 -2.6-5.8 -2.7-4 -2.8-2.6 -3.6-1.9 -3.7-.8 -3.6-.1 -15.5,2.3 -4.5,.1 -11.9-.3 -3.6,.4 -2.7,.6 -2.8,1.1 -2.7,1.6 -4.6,3.9 -4,5.5 -2.7,6 -1.4,5 -.9,5 -2.1,19 .3,8 1,4 1.2,3 1.9,3 2.8,3 3,2.4 3.7,2.2 5.4,2.7 7.1,2.7 6.6,2 4.6,1z"/>
<path fill="#4473a4" d="M98.6,160l3.4,.6 3.6,0 2.8-.8 1.8-1.2 1.8-2.4 .9-2.8 .1-3.4 -.7-3 -1.2-2.4 -2.1-2.6 -2.5-2.1 -3.6-2.4 -5.5-2.9 -3.6-1.6 -2.7-.6 -2.8,.4 -1.8,.9 -1.4,1.3 -1.3,1.9 -.9,1.9 -1,4.2 .2,3 .5,2 2.2,4 3.1,3 5.1,3 5.6,2zM129.3,115l1.8,.8 1.8,0 1.9-1.1 .9-1.7 .2-3 -.5-2 -1.5-2.3 -1.9-1 -1.8-.2 -1.8,.7 -1,.8 -1,2 -.1,2 .6,2 1.3,2 1.1,1z"/></g></g><g clip-path="url(#cp1)"><use href="#d1" x="-.4" y="-.3"/></g><rect width="224" height="268" fill="none" stroke="#000" stroke-width="1.11"/></g>
<g transform="translate(996.5,324.5)"><g clip-path="url(#cp1)"><g transform="translate(-.4,-.3)" fill-rule="evenodd" shape-rendering="crispEdges"><rect width="224" height="268" fill="#b04153"/>
<path fill="#e18676" d="M0,268l224,0 0-67.3 -3.4,3.3 -3.9,3 -3.6,2.2 -3.7,1.7 -3.6,1.3 -4.6,1.1 -4.5,.6 -4.6,0 -4.5-.5 -4.6-1.1 -3.6-1.4 -3.5-1.9 -2.9-2.3 -2.4-2.7 -1.8-3 -1.1-3 -.7-4 -.2-4 1.1-10 3.3-14.4 6.9-24.6 2.8-11 2.2-12 .5-10 -.4-5 -.8-5 -1.5-5 -2.1-5 -2.8-5 -2.9-4 -3.7-4.3 -4.6-4.2 -5.5-4 -7.2-4.1 -6.4-2.7 -7.3-2.1 -7.3-1.4 -9.1-.8 -8.2,.1 -9.1,.7 -8.2,1.3 -9.1,2.2 -8.2,2.7 -7.3,3.2 -7.2,4 -6.4,4.5 -5.6,4.9 -5.6,6 -5.1,7 -4.3,8 -2.8,7 -2.1,8 -.9,8 .3,8 1.2,7 2.4,8 3.1,7 4.4,8 5.5,8 5.7,7 5.6,6 6.4,6.2 23.8,20.8 3.9,4 2.4,3 2.4,4 1.4,4 .5,4 -.7,5 -1,3 -1.8,3.7 -4.5,6.5 -2.8,2.9 -3.6,3.2 -3.6,2.6 -3.7,2.1 -7.3,3 -7.2,1.5 -7.3,.1 -4.3-.6 -3.9-.9 -7.3-2.7 -7.3-4.2 -6.8-5.2 -6.9-6.9 -6.3-8 -5.5-8.6 -4.9-9.5 -4.2-10.4 0,63.4zM223.6,100l.4,.9 0-100.9 -64.5,0 10.8,7.1 10,8.4 8.8,9.5 7.2,10 5.2,9 4.7,10 11.8,32 5.6,14zM0,59l0,.5 4.3-9.5 5.2-9 5.6-8 6.8-8 7.2-7.2 8.2-6.8 8.2-5.9 8.5-5.1 -54,0 0,59z"/>
<path fill="#fad0ba" d="M114.1,268l109.9,0 0-25.7 -6.4,1.7 -6.3,1 -7.3,.5 -7.3-.2 -7.3-.7 -8.2-1.4 -27.3-6.4 -5.5-.5 -4.5,.5 -4.6,1.9 -2.7,2 -2.7,2.6 -4.6,5.3 -15.2,19.4zM125.9,213l5.2,.4 3.7-.7 3.6-2 2.7-2.5 3.7-4.6 3.6-5.9 4-7.7 4-9 4.4-11 4.4-13 2.9-10 2.3-10 1.4-9 .5-8 -.2-7 -1-7 -1.2-5 -1.9-5 -2.5-5 -3.4-5 -3.5-4 -3.8-3.5 -4.6-3.4 -4.5-2.7 -5.5-2.6 -6.3-2.2 -5.5-1.3 -6.4-1 -6.4-.4 -6.3,.1 -6.4,.5 -7.3,1.2 -6.4,1.5 -6.3,2.2 -5.5,2.4 -5.5,2.9 -5.4,3.7 -4.3,3.6 -4,4 -4,5 -3.3,5 -3,6 -1.8,5 -1.6,6 -.8,6 -.3,6 .4,6 1,6 1.6,6 2.2,6 2.8,6 2.9,5 3.4,5 4.7,6 4.6,5 4.9,4.8 6.4,5.5 6.4,4.8 6.4,4.4 8.2,5 7.2,4 8.2,3.8 6.4,2.4 4.8,1.3zM223.3,5l.7,.9 0-5.9 -4.7,0 4,5z"/>
<path fill="#f8f8f8" d="M115.2,199l5,.5 4.5-.3 4.6-1.1 3.6-1.5 4.6-3 3.6-3.3 3.7-4.2 3.6-5.3 3.9-6.8 3.8-8 3.5-9 2.9-9 1.9-8 1.4-8 .7-8 -.2-7 -.7-6 -1.1-5 -1.7-5 -1.8-4 -2.3-4 -3-4 -3.6-3.9 -3.7-3.1 -4.5-3.1 -4.6-2.4 -4.5-1.9 -5.5-1.8 -5.5-1.2 -6.3-.8 -5.5-.3 -6.4,.2 -6.3,.8 -5.5,1.1 -6.4,1.9 -5.4,2.2 -5.5,2.8 -4.6,2.9 -4.5,3.5 -3.7,3.5 -3.6,4.3 -3,4.3 -2.7,5 -2.1,5 -1.5,5 -1.1,6 -.4,5 .2,6 .8,6 1.2,5 2,6 2.2,5 2.6,5 3.6,5.5 3.7,4.8 4.5,5.1 4.7,4.6 5.3,4.6 5.5,4 6.4,4.2 6.3,3.4 5.5,2.5 5.5,1.9 5.9,1.4z"/>
<path fill="#c4dfed" d="M112.8,191l4.7,.3 4.5-.4 4.6-1.1 3.6-1.6 4.6-2.8 3.6-3.1 3.6-3.9 3.4-4.4 3.1-5 3.6-6.7 2.7-6.3 2.8-8 1.9-7 1.2-7 .7-7 .1-6 -.4-5 -.9-5 -1.4-5 -1.6-4 -2.1-4 -2.7-4 -3.1-3.6 -3.6-3.3 -4.2-3.1 -4-2.3 -4.6-2.1 -4.5-1.6 -4.6-1.2 -5.4-.9 -5.5-.5 -5.5,0 -5.4,.5 -5.5,.9 -5.4,1.5 -5.5,2 -4.6,2.2 -4.5,2.7 -4.6,3.4 -3.6,3.3 -3.6,4.1 -2.9,4 -2.3,4 -2.1,4.8 -1.4,4.2 -1.1,5 -.5,5 0,5 .4,5 1,5 1.4,5 2,5.1 2.4,4.9 3.1,4.9 3.6,5 3.6,4.3 4.6,4.5 4.9,4.3 5.1,3.8 5.5,3.5 5.4,2.9 5.5,2.3 4.8,1.5 5.1,1z"/>
<path fill="#70add2" d="M106.8,182l4.3,.7 4.5,.2 4.6-.5 3.6-1 3.7-1.5 3.6-2.1 3.7-2.8 3.6-3.7 3.5-4.3 2.9-4.2 2.7-4.9 2.7-5.9 1.9-5 1.8-6 1.2-6 .7-6 .2-5 -.3-5 -.8-5 -1-3.8 -1.6-4.2 -2-4 -1.9-3 -2.7-3.4 -2.7-2.8 -3.7-3 -4.5-2.8 -3.7-1.8 -4.5-1.8 -4.6-1.2 -9.1-1.3 -9.1,.2 -5.5,.8 -4.5,1.2 -5.5,1.9 -4.2,2 -4,2.4 -3.6,2.6 -3.4,3 -3,3.2 -2.9,3.8 -2.4,4 -1.8,4 -1.4,4 -1,4 -.6,5 -.1,5 .3,4 .8,4.3 1.3,4.7 1.5,4 2.5,5 2.9,4.8 2.7,3.7 3.7,4.3 4.3,4.2 8.4,6.6 5.5,3.3 4.1,2.1 5,1.9 3.9,1.1z"/>
<path fill="#4778ab" d="M104.5,169l3.9,.7 3.6,.1 6.4-.8 3.1-1 3.2-1.5 3.7-2.3 2.6-2.2 2.9-2.8 2.7-3.4 4.5-7.4 3.4-8.4 1.7-8 .4-8 -.9-7 -2.4-7 -3.5-6 -4.6-5 -5.9-4.2 -6.4-2.9 -3.6-1 -4.6-.9 -8.2-.3 -7.2,1.1 -6.8,2.2 -4.1,2 -3.2,2 -5.9,5 -4.7,6 -1.8,3.1 -1.6,3.9 -1.7,7 -.2,7 1.2,7 2.6,7 4.3,7.2 5.5,6.3 6.6,5.5 7,4.1 4.6,1.9 3.4,1z"/></g></g><g clip-path="url(#cp1)"><use href="#d1" x="-.4" y="-.3"/></g><rect width="224" height="268" fill="none" stroke="#000" stroke-width="1.11"/></g>
<g transform="translate(1240.5,324.5)"><g clip-path="url(#cp1)"><g transform="translate(-.4,-.3)" fill-rule="evenodd" shape-rendering="crispEdges"><rect width="224" height="268" fill="#b04153"/>
<path fill="#e18676" d="M87.6,199l.7,.8 59.2,0 .8-.8 0-40 8.3-.2 .8-.8 0-73 -.8-.8 -156.6,.1 0,32.4 56.5,0 .1,41.3 .8,.8 30.2,.2 0,40zM162.2,158l.8,.8 61,0 0-33.6 -61,0 -.8,.8 0,32zM0,77l0,.8 224,0 0-4.6 -224,0 0,3.8z"/>
<path fill="#fad0ba" d="M87.7,199l.6,.7 59.2,0 .6-.7 0-40 .3-.3 8.2,0 .7-.7 0-73 -.7-.7 -156.6,.3 0,31.8 56.5,0 .2,.6 0,41 .7,.7 30,0 .3,.3 0,40zM162.4,158l.6,.7 61,0 0-33.4 -61,0 -.6,.7 0,32zM0,77l0,.7 224,0 0-4.4 -224,0 0,3.7z"/>
<path fill="#f8f8f8" d="M87.8,199l.5,.6 59.2,0 .5-.6 0-40 .4-.4 8.2,0 .5-.6 0-73 -.5-.6 -99.2,0 -.9,.5 -56.5,0 0,31.2 56.5,0 .4,.9 0,41 .5,.6 30,0 .4,.4 0,40zM162.5,158l.5,.6 61,0 0-33.2 -61,0 -.5,.6 0,32zM0,77l0,.6 224,0 0-4.2 -224,0 0,3.6z"/>
<path fill="#c4dfed" d="M88,199l.3,.4 59.2,0 .4-.4 0-40 .5-.6 8.2,0 .4-.4 0-73 -.4-.4 -99.2,0 -.8,.4 0,31 .4,1 0,41 .4,.4 30,0 .6,.6 0,40zM162.6,158l.4,.4 61,0 0-32.8 -61,0 -.4,.4 0,32zM0,77l0,.4 224,0 0-3.8 -224,0 0,3.4z"/>
<path fill="#70add2" d="M88.1,199l.2,.3 59.2,0 .2-.3 0-40 .7-.8 8.2,0 .2-.2 0-73 -.2-.2 -99.2,0 -.5,.2 .2,73 .3,.2 30,0 .7,.8 0,40zM162.8,158l.2,.2 61,0 0-32.4 -61,0 -.2,.2 0,32zM0,77l0,.2 224,0 0-3.4 -224,0 0,3.2z"/>
<path fill="#4778ab" d="M88.2,199l59.4,0 0-40 .8-.9 8.3-.1 -.1-73.1 -99.4,.1 .1,73 30.1,.1 .8,.9 0,40zM162.9,158l61.1,.1 0-32.2 -61,0 -.1,32.1zM0,77l224,.1 0-3.2 -224,0 0,3.1z"/></g></g><g clip-path="url(#cp1)"><use href="#d1" x="-.4" y="-.3"/></g><rect width="224" height="268" fill="none" stroke="#000" stroke-width="1.11"/></g>
<g transform="translate(1484.5,324.5)"><g clip-path="url(#cp1)"><g transform="translate(-.4,-.3)" fill-rule="evenodd" shape-rendering="crispEdges"><rect width="224" height="268" fill="#b04153"/>
<path fill="#e18676" d="M87,268l69.8,0 0-67 .7-.5 11,0 .9-1.3 54.6,0 0-.5 -54.6,0 -.6-.7 0-17 -.3-.4 -11,0 -.9-.3 -8.2,0 -.3-.3 .3-16 2.8,0 .9-1 0-3 4.5,0 .9-.7 11,0 1.8-.8 5.4,0 1-.4 47.3,0 0-53.2 -47.3,0 -1-.4 -5.4,0 -.9-.5 .7-1 .2-1.2 53.7,0 0-4.6 -53.7,0 -.2-12.2 -.3-1 -1.3-1 -11,0 -.9-.6 -5.4-.2 -66.5-.2 -.9,.5 -3.7,0 -.9-.5 -4.5,0 -.9,.2 -8.2,0 -.9,.6 -7.3,0 -.9,.6 -4.6,0 -.9-1 -.9,0 -.9,.8 -9.1,0 -.9,.3 -39.2,0 0,91.9 49.2,0 .9,1.1 .9,0 .9-1.1 5.5,0 7.3,.2 .9,1 13.6,0 .9-1 3.7,0 .9,1 1.8,0 .3,7.4 0,14 -.3,.4 -1.8,0 -.5,.6 .5,.5 1.8,0 .5,.5 0,68zM65.1,199l.5,.5 13.6,0 .5-.5 -.5-.6 -13.6,0 -.5,.6zM65.1,79l.5,.5 8.2,0 .9,.5 4.5,0 .9-1 3.7,0 .9,1 8.2,0 .9-.4 10,0 .9-.8 5.5-.2 46.4,0 .9-.6 0-4 -.9-.6 -46.4,0 -.4-.4 0-2 -.5-1 0-70 -25.1,0 0,70 -.4,.3 -3.7,0 -.4-.3 0-70 -14.6,0 0,70 -.4,.5 -6.4,0 -.3,.5 0,7 .3,.5 6.4,0 .4,.5z"/>
<path fill="#fad0ba" d="M96,268l41.6,0 0-67 .8-.9 9.1,0 .9-1.1 8.4,0 -8.4-.1 -.7-.9 0-17 -5.7-.2 -.7-.8 .3-16 .4-.5 5.5,0 .5-.5 0-3 .4-.3 2.8,0 .9-.7 4.5,0 .9-.5 11,0 1.4-.5 0-8 .4-.4 5.4,0 1-1 47.3,0 0-18.2 -47.3,0 -.4-.4 .4-3.1 47.3,0 0-9.5 -47.3,0 -.2-1.4 -.8-.7 -5.4,0 -.4-.3 0-10 -1.4-.8 -3.7,0 -.4-.2 .4-.6 3.7,0 .2-1.4 1-1 0-3 -1-1 0-7 -.2-.6 -3.7,0 -.1-4.4 -.3-1 -.5-.2 -11.8-.3 -.9-.5 -66.5-.2 -.9,.4 -3.7,0 -.9-.4 -4.5,0 -.9,.2 -8.2,0 -.9,.5 -7.3,0 -.9,.8 -4.6,0 -.9-.9 -.9,0 -.9,.5 -9.1,0 -.9,.4 -39.2,0 0,74.6 39.2,0 .9,.5 9.1,0 .6,.6 0,3 .3,.6 .9,0 .2-3.6 .7-1.5 4.6,0 .9,1.4 7.3,.1 0,3 .9,.9 13.6,0 .9-.9 0-3 3.7,0 0,3 .9,.9 1.8,0 0,11.1 .8,2 0,6 .9,1 0,14 -.8,1 .9,1 4.6,0 .9-.4 1.8,0 .4,.4 0,68zM51.9,130.5l0-3.5 -.3-1 .2-9 .1-.3 4.6,0 .2,1.3 -.2,12.5 -4.6,0zM93.8,198.4l-.6-.4 0-14 .6-.3 1.8,0 .3,.3 0,14 -.3,.4 -1.8,0zM73.8,78l.9,.5 9.1-.3 .9,.6 19.1-.3 .9-.5 4.6,0 0-4 -4.6,0 -.8-1 -.1-2 -19.1-.3 -.5,.3 0,2 -.4,.5 -3.7,0 -.4-.5 0-2 -.5-.3 -4.5,0 -.9,.3 0,7z"/>
<path fill="#f8f8f8" d="M119.7,268l14.4,0 0-67 .7-2 2.8,0 -2.8-.1 -.4-.9 0-14 .4-.8 3-.2 0-2 -3-.2 -.4-.8 .1-20 .3-.5 12.7-.2 .9-.5 2.8,0 .9-.5 4.5,0 .6-.3 0-8 .3-.3 11,0 1.8-1.6 5.5-.1 0-17 -5.5-.1 -.9-.9 .6-4 0-8 -.3-2 -1.2-1 0-10 -3.7,0 -.9-.5 -6.4,0 -5.8-.5 .4-.6 4.5,0 .5-.4 0-1 .4-.2 6.4,0 .7-.8 0-3 -.7-.8 -6.4,0 -.4-.2 0-7 -.5-.7 -4.5,0 -.1-4.3 -.3-1 -.5-.3 -66.5-.2 -.9,.5 -3.7,0 -.9-.5 -4.5,0 -.9,.3 -8.2,0 -.9,.4 -7.3,0 -.6,.8 -.1,12 -.2,.8 -4.6,0 -.3-.8 0-12 -.6-.8 -.9,0 -.9,.5 -9.1,0 -.9,.3 0,4 -39.2,0 0,14.5 39.2,0 .6,.5 0,13 .3,.3 9.1,0 .4,.7 0,8 -.4,.5 -9.1,0 -.5,.5 0,1 .5,.9 9.1,0 0,1.1 -9.1,0 -.9,.7 -39.2,0 0,27.5 39.2,0 .9,.3 9.1,0 .9,.5 .9-.3 .5-.7 0-27 -.3-1 -.2-12 .6-2 0-12 .3-.8 4.6,0 .2,.8 0,12 .4,2 -.1,12 -.3,1 .1,27 .6,.9 7.3,.1 .9,.6 13.6,0 .9-.6 3.7,0 .9,.6 1.8,0 .5,.4 .4,15.6 .9,1 4.6,0 .9-.4 1.8,0 .7,.8 .2,6.2 4-.2 0-6 .6-.3 5.4,0 .6,.3 0,6 2.2,.2 .7,.8 0,14 -.7,.9 -1.9,.1 1.9,0 .9,1.1 9.1,0 .4,.9 0,67zM96.5,199l3.8,0 -3.8,0z"/>
<path fill="#c4dfed" d="M119.7,199l.5,.6 13.7,0 .2-.6 -.2-.6 -13.7,0 -.5,.6zM119.6,183l.6,.7 13.7,0 .3-.7 0-2 -.3-.7 -13.7,0 -.6,.7 0,2zM96.1,175l.4,.6 3.7,0 .9-.6 0-15 32.8,0 .9-1.5 12.7,0 3.7-.4 .1-8.1 .8-.6 4.5,0 .9-.9 11,0 .5-.5 0-17 -.5-.5 -11,0 -.4-.5 .4-3.3 11,0 .1-8.7 -.1-.4 -3.7,0 -.2-1.6 -.7-.6 -6.4,0 -.8-.4 0-10 -4.6,0 -.9-.5 -1.9,0 -.3-.5 .3-2.2 1.9,0 .7-.8 0-3 -.7-.8 -1.9-.2 -.2-12 -.7-.7 -63.7-.1 -.9,.3 -3.7,0 -.9-.3 -4.5,0 -16.4,.5 -.9,.3 -.3,12 -.3,1 .3,18 .6,2 0,8 -.4,1 .2,3 -.3,1 .1,27 1,.5 6.4,0 .9,.3 13.6,0 .9-.3 3.7,0 .9,.3 2.7,0 .5,.2 .4,.9 4.6,0 .9-.9 1.8,0 .5,1 0,15zM49.7,158l.4,.2 .8-.2 0-27 -.8-.5 -.4,.5 0,27zM49.5,116l.6,.7 1-.7 0-12 .3-1 0-5 -.3-1 -.1-12.1 -1.1,.1 0,4 -.4,1 0,7 -.3,.3 -8.2,0 -.6,.7 0,5 .6,.7 8.2,0 .3,.3 0,12z"/>
<path fill="#70add2" d="M64.8,158l.8,.3 13.6,0 .7-.3 0-8 3.9-.1 .2,8.1 .7,.3 8.2,.1 2.7-.2 .9,.5 37.4,0 .6-.7 0-8 .3-.5 13.6,0 .9-.4 1.9,0 .9-1 4.5,0 .1-17.1 -4.6-.1 -.8-.9 .3-3 -.4-.9 -1.9-.1 0-8 1.9,0 .5-1 0-1 -.5-.6 -1.9,0 -.2-.4 0-10 -.6-1 .6-3 0-3 -.3-1 -.2-12 -63.9-.3 -.9,.3 0,4 -3.7,0 0-4 -.9-.3 -13.6,.1 -.5,.2 0,4 -.4,.5 -6.4,0 -.4,.5 0,7 -.7,1 0,5 .7,1 -.3,1 0,11 .7,1.7 6.4,0 .1,8.3 -6.5,.2 -.3,.8 .2,3 -.5,1 0,18 .6,.9 6.5,.1 0,8zM80.1,126.2l-.1-8.2 .1-.3 3.7,0 .1,8.3 -3.8,.2zM80.1,104.6l-.5-.6 .5-.6 3.7,0 .5,.6 -.5,.6 -3.7,0zM49.9,103l.5,0 0-5 -.3-.2 -.2,5.2z"/>
<path fill="#4778ab" d="M64.9,149l.7,.5 13.6,0 .7-.5 0-18 -.7-.7 -13.6,0 -.7,.7 0,18zM84,149l.7,.5 8.2,0 .9-.3 1.8,0 .9,.5 37.4,0 .9-1.4 13.6,0 .4-.3 0-17 -.4-.3 -54.6,0 -.9-.4 -8.2,0 -.7,.7 0,18zM65.4,128l.2,.3 13.6,0 .1-1.3 -13.7-.2 -.2,1.2zM84.6,128l.1,.3 8.2,0 .3-.3 0-1 -.3-.2 -8.2,0 -.1,1.2zM88.6,117l.6,.3 3.7,0 .4-.3 0-12 -.4-.2 -4.3,.2 0,12zM57.8,101l.5,.9 20.9,0 .9-.9 0-3 -.9-.9 -13.6,0 -.9,.4 -6.4,0 -.5,.5 0,3zM83.8,101l.9,.9 8.2,0 .9-.4 54.6,0 .2-3.5 -.2-.5 -54.6,0 -.9-.4 -8.2,0 -.9,.9 0,3z"/></g></g><g clip-path="url(#cp1)"><use href="#d1" x="-.4" y="-.3"/></g><rect width="224" height="268" fill="none" stroke="#000" stroke-width="1.11"/></g>
<g transform="translate(1728.5,324.5)"><g clip-path="url(#cp1)"><g transform="translate(-.4,-.3)" fill-rule="evenodd" shape-rendering="crispEdges"><rect width="224" height="268" fill="#b04153"/>
<path fill="#e18676" d="M140.1,237l2.9-.1 1.8-1 5.4-6.2 1.8-2.7 7.5-14 33.7-69 6-14 2.9-9 -.1-4 -2.2-11 -1.5-3 -15.3-23.3 -12.5-13.7 -4.8-4.4 -3.9-2.6 -18.8-7 -48.3-15 -5.5,0 -7.2,1 -2.5,1 -5.7,3.1 -7.5,6.9 -16.2,18.8 -2.8,3.5 -4.1,6.7 -15.8,32 -6.6,27 .4,7 2.7,8 6.7,17 5.1,9 2.5,2.8 23.3,15.2 33.2,18.7 43.7,21.8 1.7,.5z"/>
<path fill="#fad0ba" d="M134.4,217l1.3,.4 .9-.1 .9-.5 2.5-2.8 1.1-1.8 7.1-13.2 30.8-63 3.4-8 1.6-5 .3-4 -1.6-9 -.9-2 -13.2-20 -10.2-11.3 -4.5-4 -3.7-2.4 -11.8-4.4 -40.1-12.4 -4.5-.1 -6.4,.8 -2.7,1.1 -4.6,2.4 -7.3,6.5 -8.4,9.8 -7.9,10 -3.7,6 -10.5,21 -5.7,23 .4,8 6.4,17 3.4,7 2.4,3.3 21.8,14.3 28.3,15.9 35.1,17.5z"/>
<path fill="#f8f8f8" d="M129.7,202l2.3,1 .9-1 7-13 28.8-59 1.7-4 .6-4 0-4 -1-5 -1.3-3 -9.8-15 -9.7-11 -4.4-3.6 -2.8-1.7 -6.3-2.5 -34.6-10.7 -4.6-.1 -5.4,.7 -2.4,.9 -4.9,2.7 -6.4,5.8 -14.6,18.2 -3.6,5.9 -6.1,12.4 -5,20 .3,8 4.9,13 2.7,6 1.4,2.1 20.9,13.7 24.6,13.8 26.8,13.4z"/>
<path fill="#c4dfed" d="M124.2,187l2.4,.8 .9-.2 .9-1.1 3.6-6.7 25.8-52.8 .7-3 .1-5 -.7-4 -.7-2 -7.9-12.1 -8.2-9.3 -4.4-3.6 -2.8-1.8 -31-9.6 -3.6,.1 -5.5,.8 -6.4,3.3 -5.4,5.2 -12.8,16.2 -3.6,5.9 -2.4,4.9 -4.2,17 .1,5 .4,4 5.2,13 .9,1.5 .9,.8 18.2,12 21.8,12.2 14.6,7.3 3.1,1.2z"/>
<path fill="#70add2" d="M117.5,169l2.7,.6 .9-.1 1.3-.5 1.4-1.5 18.9-38.5 1.1-5 0-7 -.7-2 -5.3-8 -5.3-6 -2.3-2.1 -3.6-2.5 -2.7-1.4 -17.4-5.4 -3.6-.1 -4.6,.6 -4.2,1.9 -3,2.3 -4.4,4.7 -10.9,14 -2.5,7 -2,8 .6,9 2.8,7 2.7,2.6 3.6,2.7 11,7.2 13.6,7.7 3.7,1.8 8.2,3z"/>
<path fill="#4778ab" d="M106.3,139l3,.8 2.7-.3 .9-.3 1.8-1.3 2-1.9 1.7-4 .6-3 .6-8 -.3-1.5 -3.3-4.5 -1.3-1.2 -3.6-2.9 -1.8-.4 -5.5,.8 -4.5,2.7 -2.8,4 -3,7 .2,2 1,2.9 2.7,4 6.4,3.9 2.5,1.2z"/></g></g><g clip-path="url(#cp1)"><use href="#d1" x="-.4" y="-.3"/></g><rect width="224" height="268" fill="none" stroke="#000" stroke-width="1.11"/></g>
<g transform="translate(1973.5,324.5)"><g clip-path="url(#cp1)"><g transform="translate(-.4,-.3)" fill-rule="evenodd" shape-rendering="crispEdges"><rect width="224" height="268" fill="#ab3f52"/>
<path fill="#db796d" d="M0,268l224,0 0-194.9 -55.6-.1 0-73 -119.2,0 0,73 -49.2,.1 0,194.9z"/>
<path fill="#f7bda3" d="M49.5,268l1.3,0 .2-68.1 6.5,.1 0,68 100,0 0-68 8.2,0 .1,68 2.4,0 0-68 .3-.3 55.5,0 0-115.6 -55.6-.1 .1-6.2 55.5,0 0-4.4 -55.5,0 -.4-.4 0-73 -2.2,0 -.2,73.1 -8.3-.1 0-73 -99.8,0 0,73 -.2,.2 -6.4,0 -.3-.2 0-73 -1.1,0 0,73 -.4,.4 -49.2,0 0,4.4 49.3,.2 -.1,6.2 -49.2,0 0,91.8 49.2,0 0,22 -49.2,0 0,1.7 49.2,0 .3,.3 0,68z"/>
<path fill="#fcebe1" d="M49.8,268l.6,0 0-68 .6-.5 6.4,0 .5,.5 0,68 99.3,0 0-68 .3-.4 8.2,0 .5,.4 0,68 1.7,0 0-68 .6-.7 55.5,0 0-.8 -55.5,0 -.3-.5 0-22 .3-.5 55.5,0 0-90.9 -55.5,0 -.5-.6 0-6 .5-.6 55.5,0 0-3.7 -55.5,0 -.7-.7 0-73 -1.5,0 0,73 -.6,.5 -8.2,0 -.4-.5 0-73 -99.1,0 0,73 -.6,.6 -6.4,0 -.7-.6 0-73 -.4,0 0,73 -.7,.8 -49.2,0 0,3.5 49.2,0 .4,.7 0,6 -.4,.6 -49.2,0 0,90.8 49.2,0 .3,.6 0,22 -.3,.5 -49.2,0 0,.8 49.2,0 .6,.7 0,68zM51,198.2l-.2-22.2 .2-.2 6.4,0 .1,22.2 -.1,.2 -6.4,0zM157.5,198.1l0-22.1 8.2-.1 .1,22.1 -8.3,.1zM51,84.3l-.3-.3 0-6 .3-.4 6.4,0 .3,.4 0,6 -.3,.3 -6.4,0zM157.5,84.2l0-6.5 8.2,0 .3,.3 0,6 -.3,.2 -8.2,0z"/>
<path fill="#e5eff5" d="M58.2,268l98.6,0 0-68 .7-.7 8.2,0 .9,.7 .9,0 1-1 -.7-1 0-22 .6-1 .1-16.8 55.5,0 0-73.2 -55.5,0 -.8-1 0-6 .7-1 0-3 -.9-.9 -.9,0 -.9,.7 -8.2,0 -.8-.8 0-73 -72.4,0 0,73 -26,0 -.9,.9 -6.4,0 -.9-.8 -.8,.9 0,3 .6,1 0,6 -.7,1 0,19 -49.2,0 0,45.9 49.2,0 0,25.1 .6,1 0,22 -.6,1 .9,1 .9-.8 6.4,0 .8,.8 0,68zM157.5,198.6l-.4-.6 0-22 .4-.7 8.2,0 .5,.7 0,22 -.5,.6 -8.2,0zM51,198.7l-.6-.7 0-22 .6-.8 6.4,0 .5,.8 0,22 -.5,.7 -6.4,0zM157.5,84.7l-.5-.7 0-6 .5-.8 8.2,0 .7,.8 0,6 -.7,.7 -8.2,0zM51,84.8l-.7-.8 0-6 .7-.9 6.4,0 .6,.9 0,6 -.6,.8 -6.4,0z"/>
<path fill="#add3e6" d="M49.5,199l.6,.6 .7-.6 -.7-.9 -.6,.9zM57.5,199l.8,.7 59.2,.2 39.1,0 .9-.9 -.7-1 0-22 .6-1 .1-25.9 8.2,0 .2,25.9 .7,1 .9,0 .6-1 .1-90 -.7-.8 -.9,0 -.8,.8 -.1,19.9 -8.2,0 0-19.9 -.8-1 0-6 .7-1 0-3 -.8-.8 -98.3,.2 -.7,.6 0,3 .7,.9 26.3,.1 0,6 -26.3,.1 -.8,.9 .1,90 .6,1 0,22 -.7,1zM77.4,198l-.2-22 6.6,0 0,22 -6.4,0zM165.8,199l.8,.7 .9,0 .6-.7 -.6-1 -.9,0 -.8,1zM49.5,175l.6,.9 .6-.9 .2-26 -.1-64 -.7-.8 -.6,.8 0,90zM49.6,77l.5,.8 .6-.8 0-3 -.6-.5 -.5,.5 0,3zM165.9,77l.7,.8 .9,0 .6-.8 0-3 -.6-.6 -.9,0 -.7,.6 0,3z"/>
<path fill="#64a3cc" d="M49.8,199l.3,.3 .3-.3 -.3-.4 -.3,.4zM57.9,199l.4,.4 59.2,.1 39.1,0 .5-.5 -.5-.8 -98.3,.3 -.4,.5zM166.3,199l.3,.3 .9,0 .3-.3 -.3-.5 -.9,0 -.3,.5zM49.9,175l.2,.4 .3-.4 .1-26 -.1-64 -.3-.4 -.3,.4 -.1,20 .2,70zM58,175l.3,.5 98.3,.3 .5-.8 .1-26 -.1-64 -.5-.7 -98.3,.2 -.4,.5 .1,90zM166.3,175l.3,.4 .9,0 .3-.4 .1-70 -.1-20 -.3-.4 -.9,0 -.4,.4 .1,90zM49.9,77l.2,.3 .2-.3 0-3 -.2-.2 -.2,3.2zM58,77l.3,.4 98.3,.2 .4-.6 0-3 -.4-.4 -98.3,.1 -.3,.3 0,3zM166.4,77l.2,.3 .9,0 .2-.3 -.2-3.2 -1.1,.2 0,3z"/>
<path fill="#4473a4" d="M58.3,199l18.5,0 -18.5,0zM83.9,199l72.9,0 -.2-.3 -72.7,.3zM84.2,175l72.4,.2 .3-26.2 -.3-64.2 -72.8,.2 0,19.1 -6.5-.1 0-19 -19.1,0 .1,73.5 18.2,0 .7-.5 0-8 6.6-.1 0,8.1 .4,1 0,16zM50.1,149l0,.4 0-44.8 0,44.4zM166.6,149l0,.7 .9,0 0-45.4 -.9,0 0,.7 0,44zM84.5,77l72.1,.1 .1-3.1 -72,0 -.2,3z"/></g></g><g clip-path="url(#cp1)"><use href="#d1" x="-.4" y="-.3"/></g><rect width="224" height="268" fill="none" stroke="#000" stroke-width="1.11"/></g>
<g transform="translate(2217.5,324.5)"><g clip-path="url(#cp1)"><g transform="translate(-.4,-.3)" fill-rule="evenodd" shape-rendering="crispEdges"><rect width="224" height="268" fill="#ab3f52"/>
<path fill="#db796d" d="M93.8,206l9.1,.7 9.1-.1 9.1-.9 9.1-1.6 9.1-2.4 8.2-3 8.2-3.8 7.3-4.2 7.3-5.1 6.4-5.4 6-6.2 4.8-6 4.6-7 3.7-7 3.1-8 1.9-7 1.2-7 .5-8 -.4-8 -1.2-8 -2.2-8 -2.7-7 -3.6-7 -4.5-7 -5.7-7 -5.5-5.6 -6.4-5.4 -7.3-5.1 -7.3-4.2 -8.2-3.8 -9.1-3.3 -8.2-2.1 -10-1.8 -9.1-.8 -9.1,0 -10,.9 -9.1,1.6 -9.1,2.4 -10.1,3.7 -8.2,3.9 -8.2,5 -7.2,5.4 -6.8,6.2 -6.2,7 -5,7 -4.4,8 -3.4,8 -2.3,8 -1.5,9 -.3,8 .5,8 1.7,9 2.5,8 3.5,8 4.7,8 5.2,7 6.3,6.8 6.4,5.7 7.3,5.3 8.2,4.8 8.2,3.9 9.1,3.3 10,2.6 10,1.6z"/>
<path fill="#f7bda3" d="M95.3,195l7.6,.6 8.2-.1 8.2-.7 7.3-1.3 7.3-1.9 7.2-2.6 7.3-3.2 6.4-3.6 6.4-4.4 5.7-4.8 5-5 4.8-5.8 4-6.2 3.2-6 2.4-6 1.9-7 1.1-6 .4-7 -.3-7 -1.1-7 -1.9-7 -2.3-6 -3.1-6 -3.9-6 -4.8-6 -4.8-4.9 -5.4-4.7 -6.4-4.4 -6.4-3.7 -7.3-3.4 -7.2-2.7 -7.3-1.9 -8.2-1.5 -8.2-.8 -9.1,0 -8.2,.7 -8.2,1.5 -8.2,2.2 -8.2,3.1 -7.3,3.5 -7.3,4.5 -5.9,4.5 -5.9,5.4 -5,5.6 -4.3,6 -3.9,7 -3,7 -2,7 -1.2,7 -.5,8 .5,7 1.3,7 2.1,7 3,7 4,7 4.4,6.1 5.5,6 6.4,5.6 6.4,4.6 7.2,4.2 7.3,3.3 8.2,2.9 8.2,2.1 7.9,1.2z"/>
<path fill="#fcebe1" d="M100.1,187l7.3,.2 7.3-.4 7.3-1 6.4-1.5 6.4-2 6.3-2.6 6.4-3.4 5.5-3.5 5.4-4.3 4.8-4.5 4.3-5 3.5-5 2.9-5.2 2.6-5.8 1.8-6 1.2-6 .5-6 -.1-6 -.8-6 -1.5-6 -2.2-6 -2.9-6 -3.2-5 -3.9-5 -4.2-4.5 -5.2-4.5 -5.6-4 -5.6-3.3 -6.4-3 -6.4-2.4 -6.3-1.7 -7.3-1.4 -7.3-.7 -7.3-.1 -7.3,.5 -7.3,1.2 -7.2,1.8 -7.3,2.6 -6.4,3 -6,3.5 -5.8,4.2 -5.5,4.8 -4.5,5 -3.8,5 -3.6,6 -2.7,6 -1.9,6 -1.2,6 -.6,6 .1,7 1.1,7 1.6,6 2.4,6 3.2,6 3.5,5.2 4.6,5.4 5.4,5.3 5.4,4.1 5.6,3.5 6.3,3.3 6.4,2.6 7.3,2.2 7.3,1.6 7.2,.8z"/>
<path fill="#e5eff5" d="M98.6,179l6.1,.4 6.4-.1 6.4-.7 5.4-1.1 5.5-1.5 5.6-2 5.3-2.4 5.5-3.2 4.8-3.4 4.3-3.7 4.2-4.3 3.1-4 3.2-5 2.5-5 1.9-5 1.3-5 .7-5 .2-6 -.4-5 -.9-5 -1.4-5 -2.1-5 -2.7-5 -3.2-4.7 -3.6-4.3 -4.2-4 -5-4 -4.5-3 -5.5-2.9 -4.9-2.1 -5.9-2 -5.6-1.4 -6.4-1 -6.3-.4 -6.4,.1 -6.8,.7 -6,1.2 -6.3,1.8 -6.4,2.5 -5.5,2.8 -5.4,3.4 -4.6,3.5 -4.5,4.4 -3.9,4.4 -3.4,5 -2.7,5 -2.1,5 -1.7,6 -.9,6 -.1,6 .6,6 1,5 2.1,6 2.3,5 3.1,5 3.8,5 4.6,4.7 4.5,3.8 5.1,3.5 5.4,3 5.9,2.6 5.5,1.8 6.4,1.6 6.6,1z"/>
<path fill="#add3e6" d="M102.7,171l4.7,.1 5.5-.3 5.5-.8 5.4-1.4 4.9-1.6 4.6-2 4.2-2.3 4.5-3 3.7-2.9 3.6-3.6 2.8-3.2 2.8-4 2.2-4 2.1-5 1.1-4 .9-5 .3-4 -.2-5 -.9-5 -1.1-4 -1.6-4 -2-4 -2.6-4 -3.2-4 -4-4 -3.6-3 -3.9-2.6 -4.5-2.6 -4.6-2 -5.2-1.8 -4.8-1.2 -5.5-.9 -5.4-.4 -5.5,0 -5.5,.6 -5.4,1 -5.5,1.6 -4.5,1.7 -4.6,2.2 -4.6,2.7 -4.5,3.4 -3.7,3.3 -3.5,4 -2.9,4 -2.7,4.7 -1.8,4.3 -1.2,4 -.9,5 -.4,5 .3,5 .9,5 1.1,4 2,4.9 2.3,4.1 2.8,4 3.5,4 3.3,3.1 4.5,3.5 4.6,2.9 5.1,2.5 4.9,1.9 5.5,1.5 5.4,1.1 5.3,.5z"/>
<path fill="#64a3cc" d="M104.6,161l8.3-.4 8.2-1.8 7.3-3 3.6-2.1 3.7-2.5 5.4-5.2 4.3-6 1.5-3 1.5-4 1.3-7 -.1-7 -1.7-7 -1.3-3 -2.2-4 -4.7-6 -5.9-5 -7.2-4.1 -8.2-2.9 -8.2-1.3 -4.6-.2 -4.5,.3 -8.2,1.6 -4.6,1.5 -3.6,1.6 -3.7,2.1 -3.5,2.4 -5.6,5.2 -2.7,3.4 -2.1,3.4 -1.5,3.1 -1.4,3.9 -1.3,7 0,4 .4,4 2.1,7 1.9,4 1.9,3 2.4,3 2.9,3 6.5,5 7.3,3.6 8.2,2.5 8.1,.9z"/>
<path fill="#4473a4" d="M102.1,145l4.4,.3 4.6-.4 4.5-1.1 4.6-2.1 3.9-2.7 3-3 2.6-4 1.4-4 .6-4 -.2-4 -1.2-4 -2.1-4 -2.5-3 -3.7-3.1 -3.6-2 -4.6-1.7 -4.5-.8 -5.5,0 -5.5,1 -4.5,1.7 -4.6,2.9 -3.1,3 -2.8,4 -1.6,4 -.7,4 .3,5 1.3,4 2.2,4 3.5,3.8 3.7,2.6 4.5,2.2 5.6,1.4z"/></g></g><g clip-path="url(#cp1)"><use href="#d1" x="-.4" y="-.3"/></g><rect width="224" height="268" fill="none" stroke="#000" stroke-width="1.11"/></g>
<g transform="translate(2461.5,324.5)"><g clip-path="url(#cp1)"><g transform="translate(-.4,-.3)" fill-rule="evenodd" shape-rendering="crispEdges"><rect width="224" height="268" fill="#ab3f52"/>
<path fill="#db796d" d="M0,267l0,.3 1.3,.7 206.8,0 7.7-4.3 8.2-5.1 0-258.6 -224,0 0,267z"/>
<path fill="#f7bda3" d="M32.8,267l2.7,1 138.4,0 13.7-5.5 12.7-6.2 12.5-7.3 11.2-7.8 0-237.8 -1.9-1.4 -2.9-2 -219.2,0 0,250.8 8.2,4.8 8.2,4.3 8.2,3.8 8.2,3.3z"/>
<path fill="#fcebe1" d="M98.9,265l16.7-.2 9.1-.8 8.2-1 9.1-1.6 8.2-1.9 8.2-2.2 8.2-2.7 8.2-3.1 8-3.5 7.5-3.7 7.3-4.1 7.3-4.6 6.6-4.6 6.5-5 6-5.2 0-197 -8.2-6.8 -8.3-6 -9.6-6 -9.4-5 -161.6,0 -14.2,7.8 -12.7,8.6 0,215.5 10.5,7.1 11.4,6.4 11.9,5.6 12.6,4.7 12.8,3.8 12.7,2.7 13.7,1.9 13.3,.9z"/>
<path fill="#e5eff5" d="M92.4,248l9.6,.4 9.1,0 10-.7 9.1-1.2 9.1-1.6 9.1-2.2 8.9-2.7 8.4-3.1 9-3.9 7.8-4 8.5-5 7.3-5 7.5-5.8 6.4-5.6 6.3-6.5 5.5-6.2 0-145.2 -8.2-9 -9.1-8.3 -10-7.5 -10.9-6.8 -11-5.6 -11.8-4.8 -12.8-4 -12.7-2.9 -4.7-.8 -50.2,0 -9.8,1.8 -10,2.5 -8.7,2.7 -8.6,3.3 -8.2,3.6 -8.2,4.2 -8.1,4.9 -7.3,5 -7.3,5.8 -6.4,5.7 0,169.4 9.6,8.1 9.9,7 10.5,6.2 11.9,5.6 11.8,4.5 12.8,3.6 12.7,2.6 13.2,1.5z"/>
<path fill="#add3e6" d="M96.2,229l10.3,.3 10.1-.5 10.9-1.3 10-2 10-2.8 10-3.6 9.1-4.1 9.1-5 9-6 7.4-5.9 7.3-6.9 6.5-7.2 5.9-8 4.9-8 3.9-8 3.4-8.9 0-57.6 -2.4-6.5 -3.2-7 -3.9-7 -4.2-6.3 -7.2-9.1 -8.2-8.2 -9.2-7.4 -10-6.6 -10.9-5.7 -11.6-4.7 -12.1-3.6 -11.8-2.4 -9.1-1.2 -10-.5 -10,.2 -9.1,.7 -10.1,1.6 -9.1,2.1 -9.1,2.7 -8.2,3.1 -8.2,3.7 -8.2,4.4 -7.2,4.7 -7.5,5.5 -6.9,6 -5.9,6 -5.8,7 -4.9,6.9 0,104.6 3.9,5.5 4,5 4.6,5 5.2,5 10.5,8.5 5.5,3.6 6.5,3.9 12.6,6 7.3,2.8 7,2.2 13.9,3.2 7.3,1.1 7.9,.7z"/>
<path fill="#64a3cc" d="M92.6,205l8.5,.7 9.1-.1 9.1-.7 9.1-1.6 8.2-2.1 8.2-2.8 7.7-3.4 7.8-4.2 7.1-4.8 6.2-5 6.2-6 5.2-6 4.9-7 3.9-7 3-7 2.5-8 1.4-7 .7-8 -.2-8 -.9-7.2 -1.8-7.8 -2.5-7 -3.3-7 -4.2-7 -4.6-6.1 -5.4-6 -6.4-5.8 -6.9-5.1 -6.8-4.1 -8.2-4.1 -8.2-3.2 -8.1-2.5 -9.2-1.9 -10-1.1 -10-.3 -10,.7 -10,1.7 -9.1,2.3 -9.1,3.2 -8.2,3.8 -7.8,4.5 -7.7,5.5 -6.4,5.5 -6.6,7 -5.3,7 -4.8,8 -3.6,8 -2.6,8 -1.6,8 -.7,9 .5,9 1.3,8 2.3,8 3.4,8 4.5,8 5,7 6.4,7 6.4,5.7 7.3,5.4 8.2,4.8 8.2,3.9 9.1,3.2 9.1,2.4 9.7,1.6z"/>
<path fill="#4473a4" d="M95,171l5.2,.7 5.4,.2 10-.7 5.5-1.1 4.6-1.3 4.5-1.7 4.6-2.1 4.5-2.7 3.7-2.5 3.6-3 3.8-3.8 3.2-4 2.7-4 2.1-4 1.6-4 1.2-4 .9-5 .3-5 -.1-4 -.8-5 -1.1-4 -1.4-4 -2-4 -2.5-4 -3.1-4 -3-3.2 -3.6-3.2 -3.7-2.7 -4.5-2.8 -4.6-2.3 -4.5-1.7 -5.5-1.6 -5.4-1.1 -5.5-.6 -6.4-.1 -5.4,.4 -6.4,1.1 -5.5,1.5 -5.4,2 -4.8,2.3 -5,3 -4.1,3 -4.4,4 -3.5,4 -2.8,4 -2.8,5 -2.1,5 -1.3,5 -.8,5 -.1,5 .4,5 1.1,5 1.7,5 2,4.3 2.8,4.4 3.3,4.3 4,4 3.6,3 4.6,3.1 5.3,2.9 4.7,2 5.4,1.7 5.8,1.3z"/></g></g><g clip-path="url(#cp1)"><use href="#d1" x="-.4" y="-.3"/></g><rect width="224" height="268" fill="none" stroke="#000" stroke-width="1.11"/></g>
<g transform="translate(20.5,612.5)"><g clip-path="url(#cp2)"><use href="#d2" x="-.4" y="-.3"/></g><rect width="224" height="268" fill="none" stroke="#000" stroke-width="1.11"/></g>
<g transform="translate(264.5,612.5)"><g clip-path="url(#cp2)"><g transform="translate(-.4,-.3)" fill-rule="evenodd" shape-rendering="crispEdges"><rect width="224" height="268" fill="#b04153"/>
<path fill="#e18676" d="M0,268l135.6,0 0-.9 -.9-1 0-4.7 -.9-.9 0-4.8 -.9-.9 0-4.7 -.9-1 0-4.7 -.9-.9 0-4.8 -.9-.9 0-5.7 .9-.9 0-2.8 .9-1 0-2.8 .9-1 0-1.8 2.7-2.9 0-2.8 -.9-.9 0-2.9 .9-.9 0-2.9 .9-.9 0-3.8 .9-.9 -.5-.5 -2.7,0 -.4-.5 0-4.7 -.9-.9 0-6.6 -1.4-1.5 -.9,0 -.9-.9 -.9,0 -.9-1 -.9,0 -2.3-2.3 0-2.8 .9-1 0-2.8 -.9-.9 0-1 -1.8-1.9 0-2.8 .9-.9 0-1 1.3-1.4 1,0 .5-.5 .2-2.8 1.6-1.9 0-4.7 .9-1 0-2.8 .9-.9 0-1.9 -.9-1 1.8-1.8 0-1 .9-.9 0-2.9 .9-.9 0-4.7 -1.4-1.5 -.9,0 -2.2-2.3 0-13.2 .4-.4 4.5,0 .9-1 10,0 .5-.5 0-1.9 1.3-1.4 .9,0 .5-.5 0-.9 1.3-1.4 .9,1 1.8-1.9 1,0 2.7-2.9 .9,0 1.8-1.8 .9,0 2.7-2.9 .9,0 1.4-1.4 -1.8-1.9 0-1 -1.8-1.9 0-.9 -1.8-1.9 0-.9 -1.8-1.9 0-1 -.9-.9 0-1 -1.8-1.8 0-1 -2.8-2.8 0-1 -2.5-2.8 -.2-2.8 .9-1 0-2.8 .9-.9 0-2.9 .9-.9 0-2.8 .9-1 0-3.8 -5.9-6.1 -.9,0 -1.8-1.9 -.9,0 -.9-1 -.9,0 -1.8-1.9 -1,0 -1.8-1.8 -.9,0 -1.3-1.4 0-1 -.9-.9 0-.9 -.9-1 0-.9 -.9-1 0-.9 -.9-1 0-1.9 -.9-.9 0-.9 -.9-1 0-.9 -.9-1 0-.9 -.9-1 0-.9 -1-.9 0-1 -.9-.9 0-1 -2.7-2.8 0-1 -3.6-3.7 0-1 -1.8-1.9 0-.9 -1.8-1.9 0-.9 -.9-1 0-.9 -.9-1 0-.9 -1-1 0-.9 -.9-.9 0-1 -.9-.9 0-1 -.9-.9 0-1 -.9-.9 -108.4,0 0,268z"/>
<path fill="#fad0ba" d="M0,268l135.2,0 0-.9 -.9-1 0-4.7 -.9-.9 0-4.8 -.9-.9 0-4.7 -.9-1 0-4.7 -.9-.9 0-4.8 -.9-.9 0-5.7 .9-.9 0-2.8 .9-1 0-2.8 .9-1 0-1.8 2.7-2.9 0-2.8 -.9-.9 0-2.9 .9-.9 0-2.9 .9-.9 0-3.8 .9-.9 -2.8-.1 -.8-.9 0-4.7 -.9-.9 0-6.6 -1-1.1 -.9,0 -.9-.9 -.9,0 -.9-.9 -.9,0 -2.7-2.8 0-2.8 .9-1 0-2.8 -.9-.9 0-1 -1.8-1.9 0-2.8 .9-.9 0-1 1.7-1.8 1-.1 .5-2.8 1.4-1.9 0-4.7 .9-1 0-2.8 .9-.9 0-1.9 -.9-1 1.8-1.8 0-1 .9-.9 0-2.9 .9-.9 0-4.7 -1-1.1 -.9,0 -2.6-2.7 0-13.2 .8-.9 4.5,0 .9-.9 10,0 .1-2 1.7-1.8 .9,0 .1-1 1.7-1.8 .9,.9 1.8-1.9 1,0 2.7-2.8 .9,0 1.8-1.9 .9,0 2.7-2.8 .9,0 1-1 -1.8-1.9 0-1 -1.8-1.9 0-.9 -1.8-1.9 0-.9 -1.8-1.9 0-1 -.9-.9 0-1 -1.8-1.8 0-1 -2.8-2.8 0-1 -2.3-2.8 -.4-2.8 .9-1 0-2.8 .9-.9 0-2.9 .9-.9 0-2.8 .9-1 0-3.8 -5.5-5.7 -.9,0 -1.8-1.9 -.9,0 -.9-.9 -.9,0 -1.8-1.9 -1,0 -1.8-1.9 -.9,0 -1.7-1.8 0-1 -.9-.9 0-.9 -.9-1 0-.9 -.9-1 0-.9 -.9-1 0-1.9 -.9-.9 0-.9 -.9-1 0-.9 -.9-1 0-.9 -1-1 0-.9 -.9-.9 0-1 -.9-.9 0-1 -2.7-2.8 0-1 -3.6-3.7 0-1 -1.8-1.9 0-.9 -1.8-1.9 0-.9 -.9-1 0-.9 -1-1 0-.9 -.9-1 0-.9 -.9-.9 0-1 -.9-.9 0-1 -.9-.9 0-1 -.9-.9 -108,0 0,268z"/>
<path fill="#f8f8f8" d="M0,268l122.1,0 .9-.9 0-2.9 -.9-.9 0-13.2 -.9-1 0-5.6 -.9-1 0-1.9 -.9-.9 0-1.9 -.9-.9 0-1.9 -.9-1 0-1.9 -.9-.9 0-.9 -.9-1 0-1.9 -.9-.9 0-2.9 -.6-.6 -.4-1.2 0-1.9 1-1 0-4.7 .9-.9 0-3.8 .9-1 0-1.8 .9-1 0-1.9 .9-.9 0-1.9 .9-.9 0-1.9 .9-1 0-1.9 .9-.9 0-1.9 .9-.9 0-1.9 .9-1 0-1.9 -.9-.9 0-2.8 -.6-.6 -.9,0 -.9-1 -.9,0 -1.2-1.3 0-2.8 -.9-.9 0-3.8 -1.8-1.9 0-1.9 .9-.9 0-1 .3-.3 9,0 1-.9 .3-1.6 .9-.9 .3-1 0-9.4 -1-1 0-7.5 -.9-1 0-7.5 -1.8-1.9 0-.9 -1.8-1.9 0-1 -1.8-1.9 0-.9 -4.5-4.7 0-1 -.9-.9 0-1.9 2.7-2.8 0-1 1.2-1.2 3.6,0 .9,.9 15.5,0 1.4-1.6 0-2.8 1-.9 0-1.9 .3-.4 4.5,0 .6-.6 0-.9 .9-1 0-1.8 .9-1 0-.9 .9-1 0-.9 .9-1 0-.9 .9-.9 0-1.9 .9-1 0-.9 .9-1 0-1.9 -.9-.9 0-.9 -.9-1 0-.9 -.9-1 0-1.9 -2.1-2.8 -.3-1.5 -1.2-1.3 0-1 -1.8-1.9 0-.9 -1.8-1.9 0-.9 -1.8-1.9 0-1 -1.9-1.8 0-1 -1.8-1.9 0-.9 -1.8-1.9 0-.9 -1.8-1.9 0-1 -1.8-1.9 0-.9 -1.8-1.9 0-.9 -1.8-1.9 0-1 -.6-.6 -.9,0 -.9-.9 -1,0 -3-3.2 0-.9 -2.7-2.9 0-.9 -2.7-2.8 0-1 -2.8-2.8 0-1 -1.8-1.8 0-1 -2.7-2.8 0-1 -2.7-2.8 0-.9 -.9-1 0-.9 -.9-1 0-1.9 -.9-.9 0-.9 -.9-1 0-.9 -.9-1 0-1.9 -.9-.9 0-1 -1-.9 0-.9 -.9-1 0-.9 -.9-1 0-.9 -1.8-1.9 -96.7,0 0,268z"/>
<path fill="#c4dfed" d="M0,268l121.7,0 .9-.9 0-2.9 -.9-.9 0-13.2 -.9-1 0-5.6 -.9-1 0-1.9 -.9-.9 0-1.9 -.9-.9 0-1.9 -.9-1 0-1.9 -.9-.9 0-.9 -.9-1 0-1.9 -1-.9 0-2.9 -.9-1.8 0-1.9 .9-1 0-4.7 1-.9 0-3.8 .9-1 0-1.8 .9-1 0-1.9 .9-.9 0-1.9 .9-.9 0-1.9 .9-1 0-1.9 .9-.9 0-1.9 .9-.9 0-1.9 .9-1 0-1.9 -.9-.9 0-2.8 -1.1-.2 -.9-1 -.9,0 -1.6-1.7 0-2.8 -.9-.9 0-3.8 -1.9-1.9 0-1.9 1-.9 0-1 .7-.7 9,0 1-1 0-1.1 1-.9 0-1 0-9.4 -.9-1 0-7.5 -.9-1 0-7.5 -1.8-1.9 0-.9 -1.8-1.9 0-1 -1.8-1.9 0-.9 -4.5-4.7 0-1 -1-.9 0-1.9 2.8-2.8 0-1 1.6-1.7 3.6,0 .9,1 15.5,0 1-1.2 0-2.8 .9-.9 0-1.9 .8-.8 4.7-.2 0-.9 .9-1 0-1.8 .9-1 0-.9 .9-1 0-.9 .9-1 0-.9 .9-.9 0-1.9 .9-1 0-.9 .9-1 0-1.9 -.9-.9 0-.9 -.9-1 0-.9 -.9-1 0-1.9 -.9-.9 -.1-.9 -.9-1 -.1-1.1 -1.6-1.7 0-1 -1.8-1.9 0-.9 -1.8-1.9 0-.9 -1.9-1.9 0-1 -1.8-1.8 0-1 -1.8-1.9 0-.9 -1.8-1.9 0-.9 -1.8-1.9 0-1 -1.8-1.9 0-.9 -1.8-1.9 0-.9 -1.8-1.9 0-1 -1.1-.2 -.9-.9 -1,0 -3.4-3.6 0-.9 -2.7-2.9 0-.9 -2.7-2.8 0-1 -2.8-2.8 0-1 -1.8-1.8 0-1 -2.7-2.8 0-1 -2.7-2.8 0-.9 -.9-1 0-.9 -.9-1 0-1.9 -.9-.9 0-.9 -.9-1 0-.9 -.9-1 0-1.9 -1-.9 0-1 -.9-.9 0-.9 -.9-1 0-.9 -.9-1 0-.9 -1.8-1.9 -96.3,0 0,268z"/>
<path fill="#70add2" d="M0,268l74.1,0 0-.9 .9-1 0-1.9 32-33.2 .9,0 6.1-6.4 0-1 -.6-1.6 -4.6-4.7 -1.1-.3 0-14.1 -.9-1 0-.9 -.7-.7 -7.2,0 -1-1 -8.1,0 -2.1-2.1 1.9-1.9 0-.9 2.7-2.8 0-1 8.1-8.5 0-1.9 .9-.9 0-.9 2.8-2.9 0-.9 2.7-2.9 0-3.7 .2-.3 2.7,0 .7-.7 .2-1.2 4.6,0 .7-.7 0-.9 -1-.9 0-1.9 3.7-3.8 0-1 2.7-2.8 0-5.6 -.9-1 0-7.5 -.9-1 0-3.8 -.9-.9 0-.9 -.9-1 0-.9 -.9-1 0-.9 -.9-1 0-.9 -1-.9 0-1 -.9-.9 0-1 -1.8-1.9 .9-.9 -.9-1 .9-.9 0-.9 .9-1 -1.8-1.9 0-.9 -.9-1 0-.9 -1.8-1.9 .2-.2 6.4,0 3.4-3.6 0-.9 .9-1 0-.9 .9-.9 0-1 .9-.9 0-1 .9-.9 0-1 .9-.9 0-.9 .9-1 0-.9 .9-1 0-.9 .9-1 0-.9 .9-1 0-5.6 -.9-1 0-14.1 -.9-1 0-.9 -.9-.9 0-1 -.9-.9 0-1.9 -.9-1 0-.9 -.9-.9 0-1 -.9-.9 0-1.9 -.9-1 0-.9 -.9-1 0-.9 -.9-.9 0-1.9 -.9-1 0-.9 -.9-1 0-.9 -6.2-6.4 -.9,0 -2.7-2.8 -.9,0 -.9-.9 -.9,0 -10.9-11.4 -.9,0 -5.4-5.6 -.3-1.2 -.6-.7 -1,0 -2.7-2.9 -.9,0 -10.9-11.3 -.9,0 -2-2.1 -67.8,0 0,268z"/>
<path fill="#4778ab" d="M0,268l73.7,0 0-.9 .9-1 0-1.9 32.4-33.7 .9,0 5.7-5.9 -.2-2.2 -4.6-4.7 -.9,0 -.6-.7 0-14.1 -.9-1 0-.9 -.3-.3 -7.2,0 -1-.9 -8.1,0 -2.5-2.6 1.8-1.9 0-.9 2.8-2.8 0-1 8.1-8.5 0-1.9 .9-.9 0-.9 2.8-2.9 0-.9 2.7-2.9 0-3.7 .6-.7 2.7,0 .3-.3 0-.9 .6-.7 4.6,0 .2-.3 0-.9 -.9-.9 0-1.9 3.7-3.8 0-1 2.7-2.8 0-5.6 -.9-1 0-7.5 -.9-1 0-3.8 -.9-.9 0-.9 -.9-1 0-.9 -.9-1 0-.9 -1-1 0-.9 -.9-.9 0-1 -.9-.9 0-1 -1.8-1.9 .9-.9 -.9-1 .9-.9 0-.9 .9-1 -1.8-1.9 0-.9 -.9-1 0-.9 -1.8-1.9 .6-.7 6.4,0 3-3.1 0-.9 .9-1 0-.9 .9-.9 0-1 .9-.9 0-1 .9-.9 0-1 .9-.9 0-.9 .9-1 0-.9 .9-1 0-.9 .9-1 0-.9 .9-1 0-5.6 -.9-1 0-14.1 -.9-1 0-.9 -.9-.9 0-1 -.9-.9 0-1.9 -.9-1 0-.9 -.9-.9 0-1 -.9-.9 0-1.9 -.9-1 0-.9 -.9-1 0-.9 -.9-.9 0-1.9 -.9-1 0-.9 -.9-1 0-.9 -5.8-5.9 -.9,0 -2.7-2.9 -.9,0 -.9-.9 -.9,0 -10.9-11.3 -.9,0 -2.7-2.9 -3.4-3.5 0-.9 -.2-.3 -1,0 -2.7-2.8 -.9,0 -10.9-11.4 -.9,0 -2.4-2.5 -67.4,0 0,268z"/></g></g><g clip-path="url(#cp2)"><use href="#d2" x="-.4" y="-.3"/></g><rect width="224" height="268" fill="none" stroke="#000" stroke-width="1.11"/></g>
<g transform="translate(508.5,612.5)"><g clip-path="url(#cp2)"><g transform="translate(-.4,-.3)" fill-rule="evenodd" shape-rendering="crispEdges"><rect width="224" height="268" fill="#a63e51"/>
<path fill="#d46b67" d="M0,268l204.9,0 -4.1-268 -200.8,0 0,268z"/>
<path fill="#f1ab92" d="M0,268l176,0 -4.1-268 -171.9,0 0,268z"/>
<path fill="#fdddcc" d="M0,268l147,0 -4.1-268 -142.9,0 0,268z"/>
<path fill="#f8f8f8" d="M0,268l118.1,0 -4.1-268 -114,0 0,268z"/>
<path fill="#d4e7f1" d="M0,268l89.1,0 -4.1-268 -85,0 0,268z"/>
<path fill="#9ac8e0" d="M0,268l60.2,0 -4.2-268 -56,0 0,268z"/>
<path fill="#5f9cc9" d="M0,268l31.2,0 -4.1-268 -27.1,0 0,268z"/>
<path fill="#4371a2" d="M0,268l2.2,0 -2.2-146.2 0,146.2z"/></g></g><g clip-path="url(#cp2)"><use href="#d2" x="-.4" y="-.3"/></g><rect width="224" height="268" fill="none" stroke="#000" stroke-width="1.11"/></g>
<g transform="translate(752.5,612.5)"><g clip-path="url(#cp2)"><g transform="translate(-.4,-.3)" fill-rule="evenodd" shape-rendering="crispEdges"><rect width="224" height="268" fill="#a93e51"/>
<path fill="#db796d" d="M0,268l224,0 0-268 -224,0 0,268zM149.6,159.6l-1.8-1.5 -1.8-3 -1.4-4.1 -1-4.7 -.4-3.8 .1-4.1 .6-3.5 1.2-3.3 2.7-4.2 3.6-3.5 4.6-3.2 10.6-6.5 3.6-2.8 1.6-1.9 1.2-1.9 2.9-7.3 .9-1.7 .9-.8 .7,1.3 0,.9 -.7,3.3 -3.9,9.9 -5.2,18.9 -4.2,11.3 -3.9,7.5 -3.6,5 -3.6,3.2 -1.9,.7 -1.8-.2zM152.4,223l-1.4-1.2 -.8-1.9 -.5-3.8 .1-4.7 .6-3.8 1-2.4 1-.9 1.8-.3 2.7,1.5 1.9,2.1 1.3,2.8 .3,2.9 -.8,3.2 -2,3.4 -2.5,2.3 -1.8,.8 -.9,0z"/>
<path fill="#f7bda3" d="M0,268l224,0 0-268 -224,0 0,268zM140.6,259.5l-2.8-.5 -1.8-.7 -1.8-1.2 -1.4-1.4 -1.3-1.8 -.9-1.9 -.9-4.8 .3-6.6 2.9-15.1 .9-8.5 -.1-8.5 -2-16.9 -.3-7.6 .5-6.6 2.5-17.9 .5-18 .5-5.6 1.5-6.5 2.8-5.4 3.6-4.8 8.9-9.7 4.5-6.6 3-6.6 2-7.6 1.5-10.4 .2-11.3 -1.2-10.4 -3.6-15.1 -1.1-6.6 -.1-6.6 1.2-5.7 1.2-2.8 1.6-2.6 3.7-3.5 2.7-1.6 2.7-.9 2.7-.4 2.7,.2 3.7,.9 2.7,1.2 2.7,1.9 2.2,2 2.3,2.8 1.9,3 1.8,3.9 1.4,4.4 1.5,7.6 2.3,18.9 4.3,22.6 3.5,24.5 2,7.6 5.8,17 2,8.5 .7,5.6 .2,4.8 -.6,9.4 -1.3,6.6 -2.2,6.6 -2.4,5.4 -8.4,16.3 -2.1,5.7 -4.6,16 -2.1,4.9 -2.9,4.5 -2.6,3.1 -3.6,3.6 -13.6,10.7 -10.9,9.8 -4.5,3.7 -3.7,2.3 -3.6,1.7 -3.6,.9 -3.6,.1z"/>
<path fill="#fcebe1" d="M0,268l119.5,0 -1.4-2.8 -.8-2.9 -.4-2.8 0-3.8 .5-3.7 1-4.8 6.2-19.8 1.5-8.5 .3-4.7 -.2-5.7 -2.6-18.8 -.2-7.6 .8-6.6 4-18.9 .7-6.6 .7-12.2 .7-5.7 1.5-5.6 2.9-5.7 3.1-4.3 8.4-9.9 4.3-6.6 2.7-6.6 1.5-7.5 .4-4.7 -.1-4.8 -.4-4.7 -1.1-5.6 -2.6-8.5 -5.9-14.2 -2-5.7 -1.4-5.6 -.6-5.7 .1-3.8 .6-3.7 1.9-6.6 1.8-3.8 1.8-2.8 2.2-2.9 2.7-2.8 -152.1,0 0,268zM164.6,268l59.4,0 0-77.3 -4.7,11.2 -7.7,21.7 -2.8,5.7 -3.7,5.7 -3.8,4.3 -4.5,4.2 -18.1,13.1 -14.1,11.4zM224,96.3l0-96.3 -29.4,0 4.9,4.7 4.2,5.7 3.5,6.6 2.9,7.5 2.6,10.4 4,24.4 7.3,37z"/>
<path fill="#e5eff5" d="M63.2,267.1l2.5,.9 23,0 4.7-3 3.6-3.3 3.7-4.2 3.6-5 4.5-7 3.7-6.3 2.7-5.5 2.1-5.3 1.5-4.8 1.1-6.6 .2-6.6 -.7-6.6 -2.5-15.1 -.3-4.7 .1-3.8 1.1-6.6 3.9-13.2 1.4-6.6 .9-6.6 .9-13.2 .9-5.7 1.8-5.6 2.5-4.7 2.8-3.8 7.9-9.5 4.2-6.6 1.6-3.7 1.1-3.8 .6-3.8 .3-3.8 -.6-6.6 -1.4-5.6 -2.5-5.7 -3.5-5.7 -4.6-5.2 -5.4-4.5 -5.5-3.1 -5.4-2 -5.4-.7 -6.4,.5 -5.4,1.4 -12.7,4.6 -3.6,.8 -3.7,.5 -6.3-.4 -15.4-3 -9.1-.9 -4.5,.1 -4.6,.4 -4.5,.9 -4.5,1.4 -5.5,2.3 -5.4,3.2 -4.9,3.8 -4.7,4.7 -3.6,4.7 -3.4,5.6 -2.9,6.7 -1.7,5.6 -1.4,9.5 .1,10.3 1.2,8.5 3.5,16.1 .6,6.6 -.4,3.7 -.8,2.9 -1.9,3.8 -2.4,3.3 0,94.1 7.3,3.7 8.1,2.9 7.3,1.8 14.1,2.7 6.8,1.9 5.4,2 14.2,6.5z"/>
<path fill="#add3e6" d="M78.1,246.3l5.3,.7 5.5-.5 5.4-1.9 4.6-2.8 4.5-4.1 4.4-5.6 3-5.6 2-5.7 1-5.6 0-6.7 -.9-6.6 -2.9-14.1 -.4-4.7 .1-3.8 1.3-6.6 5.1-13.6 2-7.2 1-6.6 1-14.1 .8-5.7 1.8-5.7 2.4-4.5 3-3.9 7.3-8.5 3.4-5.1 2.2-5.3 1.1-5.7 0-3.8 -.6-3.8 -1.3-3.7 -2-3.8 -2.2-2.8 -3.2-2.8 -3.1-1.9 -3.6-1.3 -2.8-.4 -3.6-.1 -3.6,.5 -3.6,1.1 -7.3,3.4 -13.6,8.6 -3.6,1.6 -3.7,.8 -3.6,.1 -3.6-.5 -14.5-5 -6.4-1.5 -3.6-.4 -3.6,.1 -6.4,1.1 -3.6,1.4 -3.3,1.8 -3.1,2.2 -2.5,2.5 -2.3,2.8 -1.7,2.9 -1.8,3.7 -1.2,3.8 -.7,3.8 -.4,3.8 .1,3.7 .5,4.8 2,8.5 5.6,15.1 1.4,4.7 .9,5.6 -.3,5.7 -.8,2.8 -1.2,2.9 -3.2,4.7 -4.6,4.7 -9.7,7.9 -4.5,4.2 -4.2,4.9 -2.9,4.7 -1.1,2.3 0,24 2.7,4.9 3.9,4.7 4.3,3.4 5.4,3.1 4.6,1.6 5.4,1.2 5.4,.6 12.7,.8 7.3,1.3 6.3,2.6 13.6,7.6 6.5,2.3z"/>
<path fill="#64a3cc" d="M84.8,233.1l3.2,.2 3.6-.5 3.6-1.4 2.7-1.7 2.8-2.5 2.6-3.6 1.5-2.8 1.3-3.8 .7-4.7 -.2-5.6 -1.4-6.6 -4.2-15.1 -.5-4.8 .4-4.7 2-5.6 6.8-12.6 2.8-7.3 .9-4.3 .4-4.2 .6-16.9 .6-3.8 1.1-3.8 1.3-2.8 2.6-3.8 7.9-8.6 2.9-3.7 2.5-4.5 1.1-4 0-4.7 -.7-2.8 -.9-1.9 -1.4-1.9 -1.7-1.6 -1.9-1.2 -2.7-1 -2.7-.3 -3.6,.3 -3.6,1.1 -3.7,2 -5.7,4.5 -12.4,12.7 -3.6,2.5 -3.6,1.5 -3.7,.4 -4.5-.9 -3.6-1.8 -8.2-5.2 -4.7-2.6 -5.3-1.8 -4.5-.5 -2.7,.3 -2.7,.8 -2.6,1.2 -2,1.5 -1.8,1.9 -1.5,2.3 -1.9,4.7 -.4,2.8 -.1,3.8 1.2,6.6 3.1,7.5 8.3,14.2 2.7,5.7 1,3.7 .4,2.9 0,2.8 -.6,3.8 -1.1,3.7 -1.9,3.8 -2.5,3.8 -3.3,3.8 -6.1,5 -14.5,9.4 -3.7,3.2 -2.7,3.1 -2.2,3.8 -1.4,4.7 -.1,4.7 1,3.8 2.1,3.8 2.7,2.8 3.4,2.3 4.5,1.6 3.6,.6 4.6,.1 17.2-2 3.6,.4 2.7,.7 2.8,1.3 2.7,1.9 8.4,7.3 4.3,3.1 4.5,2.4 4.1,1.1z"/>
<path fill="#4473a4" d="M86.5,214.2l2.4,.8 1.8-.3 1-.5 1.7-1.9 .7-1.9 .2-1.9 -.7-3.7 -2-3.9 -2.7-2.5 -2.7-.9 -1.9,.3 -1.8,1.7 -1,2.4 -.1,2.9 .4,2.8 1.2,2.8 1.3,2.1 2.2,1.7zM90,154.8l2.5,.7 1.8,0 2.7-.9 1.9-1 1.8-1.6 1.8-2.2 2.1-4.5 .6-2.8 .3-3.8 -.3-3.8 -.6-2.8 -.9-2.8 -1.2-2.5 -1.8-2.1 -1.8-.9 -1.9-.2 -1.8,.3 -1.8,.7 -2.7,1.6 -1.8,1.7 -1.9,2.3 -2.2,4.7 -.9,5.7 .2,3.8 .6,2.8 1,2.8 1.1,1.9 1.8,1.9 1.4,1z"/></g></g><g clip-path="url(#cp2)"><use href="#d2" x="-.4" y="-.3"/></g><rect width="224" height="268" fill="none" stroke="#000" stroke-width="1.11"/></g>
<g transform="translate(996.5,612.5)"><g clip-path="url(#cp2)"><g transform="translate(-.4,-.3)" fill-rule="evenodd" shape-rendering="crispEdges"><rect width="224" height="268" fill="#b04153"/>
<path fill="#e18676" d="M0,268l224,0 0-80.1 -5,12.2 -6.2,11.3 -7.2,10.4 -3.9,4.7 -4.5,4.7 -4.2,3.8 -4.4,3.4 -4.5,2.9 -4.1,2.2 -4.1,1.6 -4.5,1.3 -4.5,.6 -3.7,.1 -4.5-.6 -3.6-1 -3.7-1.5 -3.6-2 -3.6-2.7 -3.6-3.3 -3.7-4.2 -2.7-3.8 -2.7-4.5 -2.7-5.7 -1.8-4.7 -1.9-6.1 -1.9-10.7 -.7-12.3 .8-14.1 1-6.6 1.7-8.5 3.7-12.7 5.4-13.6 4.6-9.1 5.4-9.5 18.8-28.7 6.3-10.4 4.6-8.5 9.3-18.8 2.7-3.6 1.8-1.4 2.8-.7 2.7,.9 2.7,2.3 3.6,5.2 6.4,12.1 8.1,17.4 5,12.1 4.1,11.6 0-99.4 -224,0 0,268z"/>
<path fill="#fad0ba" d="M0,268l155.7,0 -7.9-6.6 -4.5-4.7 -3.6-4.4 -3.7-5 -3.6-5.8 -3.6-6.6 -2.7-5.9 -4.6-12.4 -2.7-11.6 -1.4-12.5 0-13.2 1.2-11.3 2-10.4 2.7-10.2 3.7-10.5 7.2-16.8 19.7-38.9 4.3-10.4 2.9-8.5 2.5-9.5 1.7-8.4 4.2-32.1 2.4-12.3 -171.9,0 0,268zM216.5,268l7.5,0 0-5.3 -7.5,5.3z"/>
<path fill="#f8f8f8" d="M0,268l137.3,0 -5.8-12 -5.4-12.8 -4.4-12 -3.1-10.4 -2.5-11 -1.5-9.7 -.6-10.4 .1-9.5 .9-9.4 1.4-8.5 2.3-9.4 2.8-9.2 3.6-9.7 3.6-8.5 14-30.2 4.8-11.3 4.5-12.3 3-11.3 1.4-7.6 .7-6.6 .4-6.6 0-7.5 -.5-7.6 -1-7.9 -3.4-16.6 -152.6,0 0,268z"/>
<path fill="#c4dfed" d="M0,268l123,0 -1.9-14.2 -6.6-33 -2.5-16 -.8-8.5 -.3-8.5 .2-7.6 .7-7.5 1.1-7.6 1.7-7.5 4.6-15.1 5.6-14.2 13.1-30.2 6.3-16.9 2.1-7.6 1.6-7.5 1.1-7.6 .4-6.6 -.3-7.5 -1-6.7 -1.6-6.6 -2.3-6.4 -3.3-6.8 -4-6.3 -4.5-6 -5.2-5.6 -127.2,0 0,268z"/>
<path fill="#70add2" d="M37.2,267.1l1.2,.9 59.1,0 3.2-3.7 2.7-4.2 2-4.4 1.9-5.6 1.5-7.9 .7-9.1 -.2-11.3 -1.7-23.6 -.4-9.5 .4-11.3 1.5-11.3 2.7-11.3 3.7-11.4 3.7-9.4 11.4-27 5.4-15.2 2.2-7.8 1.5-7.6 .8-6.6 .2-6.6 -.8-7.5 -2.1-7.4 -3.3-6.8 -4.1-5.6 -5.9-5.7 -6.6-4.6 -8.2-4 -8.1-2.6 -7.3-1.5 -8.1-.7 -8.2,.3 -8.2,1.3 -8.1,2.2 -7.3,3 -7.1,3.8 -6.5,4.4 -6.3,5.3 -6.1,6.3 -5.4,6.6 -4.9,7.3 -4.3,7.8 -4,8.5 -3.5,9.4 -2.7,9.5 -2,8.5 -1.6,9.5 0,70.3 3,20.2 2.5,11.3 3,10.4 3.5,9.4 4,8.5 4.3,7.6 5.1,7.1 5.4,6.1 6.4,5.7z"/>
<path fill="#4778ab" d="M76.9,223.6l2.9,.6 3.6-.1 2.8-.7 2.7-1.2 2.7-2.1 1.8-2.1 2.7-5.2 1.2-4.3 .9-5.6 1-19.8 .8-8.5 1.1-6.6 1.8-7.6 2.6-8.5 2.9-7.5 10.4-24 3.6-9.2 2.7-8.3 1.9-7.8 .8-7.3 -.2-6.6 -1.1-5.7 -2.3-5.1 -3.3-4.3 -3.9-3.3 -5.5-2.7 -5.4-1.5 -4.5-.5 -5.5,.1 -5.4,.8 -4.5,1.3 -4.9,2 -5.1,2.8 -4.1,2.8 -4.1,3.5 -3.9,4.1 -3.3,4.2 -3.5,5.2 -2.6,4.7 -2.5,5.7 -2.1,5.7 -1.8,6.6 -1.4,6.6 -1,7.5 -.6,8.5 -.1,8.5 .5,9.5 1.1,11.3 1.6,11.3 2.1,11.3 2.1,8.9 2.2,7.2 2.3,5.6 2.8,5.3 2.7,4.1 3.3,3.8 3.3,2.9 3.4,2.1 4.3,1.6z"/></g></g><g clip-path="url(#cp2)"><use href="#d2" x="-.4" y="-.3"/></g><rect width="224" height="268" fill="none" stroke="#000" stroke-width="1.11"/></g>
<g transform="translate(1240.5,612.5)"><g clip-path="url(#cp2)"><g transform="translate(-.4,-.3)" fill-rule="evenodd" shape-rendering="crispEdges"><rect width="224" height="268" fill="#b04153"/>
<path fill="#e18676" d="M0,268l114.1,0 0-101 8.3-.1 .8-.8 0-54.7 12.8-.2 .8-.8 0-110.4 -136.8,0 0,268z"/>
<path fill="#fad0ba" d="M0,268l114,0 0-101 .3-.3 8.1,0 .7-.6 0-54.7 .2-.3 12.7,0 .7-.7 0-110.4 -136.7,0 0,268z"/>
<path fill="#f8f8f8" d="M0,268l113.9,0 0-101 .4-.4 8.1,0 .5-.5 0-54.7 .4-.5 12.7,0 .5-.5 0-110.4 -136.5,0 0,268z"/>
<path fill="#c4dfed" d="M0,268l113.7,0 0-101 .6-.5 8.1,0 .4-.4 0-54.7 .5-.6 12.7,0 .4-.4 0-110.4 -136.4,0 0,268z"/>
<path fill="#70add2" d="M0,268l113.6,0 0-101 .7-.7 8.1,0 .3-.2 0-54.7 .6-.8 12.7,0 .3-.2 0-110.4 -136.3,0 0,268z"/>
<path fill="#4778ab" d="M0,268l113.5,0 0-101 .8-.8 8.2-.1 0-54.7 .8-.9 12.8-.1 0-110.4 -136.1,0 0,268z"/></g></g><g clip-path="url(#cp2)"><use href="#d2" x="-.4" y="-.3"/></g><rect width="224" height="268" fill="none" stroke="#000" stroke-width="1.11"/></g>
<g transform="translate(1484.5,612.5)"><g clip-path="url(#cp2)"><g transform="translate(-.4,-.3)" fill-rule="evenodd" shape-rendering="crispEdges"><rect width="224" height="268" fill="#b04153"/>
<path fill="#e18676" d="M0,268l131,0 0-44.4 -.4-.4 -7.3,0 -.4-.5 0-9.4 .4-.5 1.8,0 .5-.5 0-8.5 .5-.4 4.5,0 .4-.5 0-7.6 -.4-.7 -4.5,0 -.2-.2 0-25.5 -.8-.8 -1.8,0 -.1-1.1 7.4-.1 .7-.8 .2-17.2 2,.2 0,17 .7,.8 1.8,0 .4-.8 0-17 .4-.9 -.2-30.2 .2-9.5 .4-.9 0-1.9 .6-.5 14.6,0 .4-.5 0-.9 -.4-.5 -14.6,0 -.6-.4 0-1.9 .6-.5 14.6,0 .4-.5 0-1.9 .5-.4 70.7,0 0-7.6 -70.7,0 -.5-.5 0-4.7 -.4-.4 -14.6,0 -.6-.5 0-84 -137.2,0 0,268zM133.8,268l2.7,0 0-44.4 -.5-.4 -1.8,0 -.4,.4 0,44.4zM133.8,202.9l.4,.5 1.8,0 .5-.5 0-7.6 -.5-.7 -1.8,0 -.4,.7 0,7.6z"/>
<path fill="#fad0ba" d="M0,268l114.3,0 0-44.4 -.3-.9 .3-18.9 1.8,0 0,8.5 .9,1 3.6,0 .9-1 0-8.5 .9,0 .9-.9 0-7.6 -.6-.9 0-25.5 -.3-.3 -.9,0 -.6-.6 0-1 .6-.6 .9,0 .3-.3 0-17 .6-.6 7.3,0 .2-.3 0-23.6 -.2-1 -7.3,0 0-5.6 7.3,0 .7-1 .2-5.9 1.8,0 .2,.3 0,5.6 .7,.7 1.8,0 .3-.7 0-5.6 .6-6.7 -.2-3.7 .2-3.1 .9-.7 0-6.6 -.9-1 0-4.7 -.3-.9 0-84 -136.6,0 0,268zM114.3,168.6l-.2-.6 .2-1.6 1.8,0 .6,.6 0,1 -.6,.6 -1.8,0zM116.1,268l5.4,0 0-44.4 -.9-.9 -3.6,0 -.9,.9 0,44.4zM134.1,148.2l2,0 -.1-23.9 -1.8,0 -.1,.3 0,23.6z"/>
<path fill="#f8f8f8" d="M0,268l113.8,0 0-44.4 -.3-.9 0-9.4 .3-1 .3-17 -.2-26.4 -.3-1.9 .1-17.9 .5-.9 0-5.7 2,0 0,5.7 .8,.7 3.6,0 .8-.7 0-5.7 1-.2 .4-.8 -.1-23.5 .2-2.9 .4-.4 7.3,0 .4-6.2 .5-.7 1.8,0 .7,.7 0,1.9 .2,.2 1.8,0 .1-.2 .4-5.7 -.2-3.7 .5-3.8 0-6.6 -.4-5.7 -.3-.9 0-84 -2.1,0 0,84 -.7,.7 -1.8,0 -.5-.7 0-84 -131,0 0,268zM116.5,202.9l.5,.5 3.6,0 .5-.5 0-7.6 -.5-.7 -3.6,0 -.5,.7 0,7.6z"/>
<path fill="#c4dfed" d="M0,268l112.5,0 0-44.4 -.5-.9 0-9.4 .5-1 0-8.5 .9,0 .3-.9 0-7.6 -.2-26.4 -.1-.3 -.9,0 -.3-.6 0-18.9 .3-.6 .9,0 .1-.3 0-5.7 .5-1 -.2-23.5 .5-1 0-8.5 8.1,0 .9-.9 0-1.9 7.3,0 .7-1 0-.9 -.7-.9 -16.3,0 0-1.9 16.3,0 .7-1 .2-2.1 1.8,0 .2,.2 0,1.9 .7,.7 1.8,0 .4-3.5 0-6.6 -.4-4.5 -1.8,0 -.7,.7 0,2.8 -.2,.3 -1.8,0 -.2-3.1 -.7-.9 -16.3,0 0-1 -.5-.9 0-84 -113.8,0 0,268zM116.7,141.5l.3,.4 3.6,0 .3-.4 0-16.9 -.3-1 -3.6,0 -.3,1 0,16.9zM133.5,104.7l.7,.8 1.8,0 0-2.4 -1.8,0 -.7,.7 0,.9z"/>
<path fill="#70add2" d="M0,268l106.6,0 0-54.7 .4-.5 4.5,0 .3-.5 0-8.5 .4-.9 0-7.6 -.3-.9 0-25.5 -.4-.8 -4.6-.1 0-18.9 4.6-.2 .4-.7 0-5.7 .5-1 -.2-23.5 .3-.5 .9,0 .2-.5 0-8.5 .4-.9 0-3.8 -.4-.9 0-1.9 .4-1 .3-2.3 16.3,0 .4-.5 0-6.6 -.4-.5 -16.3,0 -.3-3.3 -.4-.9 0-1 -.2-.4 -.9,0 -.5-.5 0-84 -112,0 0,268zM134,97.2l.2,.2 1.8,0 0-7 -1.8,0 -.2,.2 0,6.6z"/>
<path fill="#4778ab" d="M0,202.9l0,.9 106.1,0 .9-.9 0-7.6 -.6-.9 0-25.5 -.3-.3 -106.1,0 0,34.3zM0,148.2l0,.3 106.1,0 .3-.3 0-5.7 .6-.6 4.5,0 .2-.4 -.2-17.9 -111.5,0 0,24.6zM0,107.6l0,.9 111.5,0 1-.9 0-3.8 -1-.9 -111.5,0 0,4.7zM0,100l0,1 111.5,0 1-1 0-13.2 -1-.9 -111.5,0 0,14.1z"/></g></g><g clip-path="url(#cp2)"><use href="#d2" x="-.4" y="-.3"/></g><rect width="224" height="268" fill="none" stroke="#000" stroke-width="1.11"/></g>
<g transform="translate(1728.5,612.5)"><g clip-path="url(#cp2)"><g transform="translate(-.4,-.3)" fill-rule="evenodd" shape-rendering="crispEdges"><rect width="224" height="268" fill="#b04153"/>
<path fill="#e18676" d="M0,268l124.1,0 10.2-72.7 9-53.3 27.3-142 -170.6,0 0,268z"/>
<path fill="#fad0ba" d="M0,268l114.4,0 12.6-87.8 2.7-16.5 2.7-15.3 28.7-148.4 -161.1,0 0,268z"/>
<path fill="#f8f8f8" d="M0,268l107.5,0 11.6-80.2 3.3-20.8 7.2-39.6 24.7-127.4 -154.3,0 0,268z"/>
<path fill="#c4dfed" d="M0,268l101,0 9.3-64.2 7.8-47.2 8.8-48.1 20.9-108.5 -147.8,0 0,268z"/>
<path fill="#70add2" d="M0,268l93.5,0 6.7-45.3 13-77.4 10.7-59.4 16.4-85.9 -140.3,0 0,268z"/>
<path fill="#4778ab" d="M0,268l81.3,0 23.5-143.4 14-79.3 8.5-45.3 -127.3,0 0,268z"/></g></g><g clip-path="url(#cp2)"><use href="#d2" x="-.4" y="-.3"/></g><rect width="224" height="268" fill="none" stroke="#000" stroke-width="1.11"/></g>
<g transform="translate(1973.5,612.5)"><g clip-path="url(#cp2)"><g transform="translate(-.4,-.3)" fill-rule="evenodd" shape-rendering="crispEdges"><rect width="224" height="268" fill="#ab3f52"/>
<path fill="#db796d" d="M0,268l136.5,0 0-77.4 .4-.7 87.1,0 0-189.9 -224,0 0,268z"/>
<path fill="#f7bda3" d="M0,268l136.1,0 0-77.4 .5-.9 0-72.7 .3-.9 0-8.3 87.1,0 0-107.8 -224,0 0,268z"/>
<path fill="#fcebe1" d="M0,268l122.7,0 0-77.4 .6-.7 12.7,0 .2-.2 -.1-72.7 .3-.9 .1-15.1 .4-1 0-100 -136.9,0 0,268z"/>
<path fill="#e5eff5" d="M0,268l113.8,0 0-77.4 .5-.5 8.1,.1 .5-.5 -.1-72.7 .4-.9 0-7.6 .1-.8 12.7-.1 0-6.6 .4-1 0-100 -136.4,0 0,268z"/>
<path fill="#add3e6" d="M0,189.7l0,.8 113.4,0 .6-.8 -.1-72.7 .4-.9 8.1,.2 .1-.2 .2-15.1 .5-1 0-100 -123.2,0 0,189.7z"/>
<path fill="#64a3cc" d="M0,189.7l113.4,0 0-49.5 -113.4,0 0,49.5zM0,116.1l0,.8 113.4,0 .3-.8 .1-15.1 .5-.9 8.1,.2 .2-.3 0-100 -122.6,0 0,116.1z"/>
<path fill="#4473a4" d="M0,100l0,.7 113.4,0 .3-.7 0-100 -113.7,0 0,100z"/></g></g><g clip-path="url(#cp2)"><use href="#d2" x="-.4" y="-.3"/></g><rect width="224" height="268" fill="none" stroke="#000" stroke-width="1.11"/></g>
<g transform="translate(2217.5,612.5)"><g clip-path="url(#cp2)"><g transform="translate(-.4,-.3)" fill-rule="evenodd" shape-rendering="crispEdges"><rect width="224" height="268" fill="#b04153"/>
<path fill="#e18676" d="M0,268l124.8,0 4.4-17 3.8-17 2.8-16 2.3-17 1.4-15.1 .7-17 -.1-15.1 -.8-16 -1.7-17 -2.2-15.1 -3.3-17.9 -3.7-16.1 -4.6-17 -5.5-17.9 -6.4-18.9 -6.7-17.9 -105.2,0 0,268z"/>
<path fill="#fad0ba" d="M0,268l118.2,0 4-16 3.6-17 2.8-16.1 2.3-17.9 1.3-16 .7-16.1 -.1-15.1 -.8-16 -1.6-17 -2.1-15.1 -2.8-16.1 -3.7-16.9 -4.3-17 -5.5-18.9 -6.2-18.9 -6.4-17.9 -99.4,0 0,268z"/>
<path fill="#f8f8f8" d="M0,268l113.5,0 4.1-17 3.5-17 2.7-16 2-16.1 1.3-16 .6-16 0-16.1 -.8-16 -1.4-16.1 -2.3-17 -2.9-16.9 -3.5-16.1 -4.2-17 -5.1-17.9 -5.7-17.9 -6.6-18.9 -95.2,0 0,268z"/>
<path fill="#c4dfed" d="M0,268l109.3,0 4.1-17.3 3.3-16.7 2.7-17 1.9-16 1.2-16 .6-16.1 -.1-15.1 -.7-16 -1.4-16.1 -2.1-16.3 -2.7-16.3 -3.6-17.4 -4.4-17.9 -4.7-16.9 -5.5-17.5 -6.6-19.4 -91.3,0 0,268z"/>
<path fill="#70add2" d="M0,268l104.5,0 3.4-14.5 3.6-18.5 2.8-17.4 1.8-15.7 1.2-16 .6-16 0-16.1 -.8-17 -1.4-16 -2-16.1 -2.3-14.1 -3.5-17.7 -4.5-19.2 -4.5-16.7 -5.5-17.9 -6.4-19.1 -87,0 0,268z"/>
<path fill="#4778ab" d="M0,268l97.3,0 3.4-15.2 3.6-19.5 2.6-18.1 1.4-13.3 1.3-16.9 .5-15.1 0-16.1 -.7-16 -1.5-17.8 -1.8-15 -2.7-17.3 -2.7-14.2 -4.6-20 -4.5-17.3 -5.4-18.5 -5.8-17.7 -80.4,0 0,268z"/></g></g><g clip-path="url(#cp2)"><use href="#d2" x="-.4" y="-.3"/></g><rect width="224" height="268" fill="none" stroke="#000" stroke-width="1.11"/></g>
<g transform="translate(2461.5,612.5)"><g clip-path="url(#cp2)"><g transform="translate(-.4,-.3)" fill-rule="evenodd" shape-rendering="crispEdges"><rect width="224" height="268" fill="#b04153"/>
<path fill="#e18676" d="M0,268l172.8,0 14-20.9 13.6-19.3 11.8-15.7 11.8-14.7 0-197.4 -224,0 0,268z"/>
<path fill="#fad0ba" d="M0,268l129.3,0 12.6-27.4 10.4-23.6 8.9-21.7 8-20.7 6.5-18.9 5.2-17 4.3-17 3-15.1 1.9-14.1 .9-14.2 -.2-13.2 -1.2-13.2 -2.4-13.2 -3.2-12.3 -4.5-13.2 -5.6-13.2 -173.9,0 0,268z"/>
<path fill="#f8f8f8" d="M0,268l93.7,0 7.7-21.7 6.7-20.8 5.6-18.8 5-18.9 4-17.9 3.2-17 2.4-17 1.5-16.1 .8-16 -.1-15.1 -.9-15.1 -1.6-14.1 -2.4-14.2 -3.4-15.1 -4.3-15.1 -5.2-15.1 -112.7,0 0,268z"/>
<path fill="#c4dfed" d="M0,268l62.8,0 7.9-28.3 4.2-17 3.7-17 3.2-17 2.5-16 1.9-16.1 1.3-15.1 .8-15 .1-14.2 -.3-14.2 -1-14.1 -1.5-14.2 -2.1-14.1 -2.5-13.2 -3.3-14.2 -3.9-14.1 -4.5-14.2 -69.3,0 0,268z"/>
<path fill="#70add2" d="M0,268l35.1,0 4.9-20.8 4.1-19.8 3.3-18.9 2.7-18.8 2.6-25.5 1.2-24.5 0-23.6 -1.4-23.6 -2.7-23.6 -3.9-22.7 -5.6-23.6 -6.6-22.6 -33.7,0 0,268z"/>
<path fill="#4778ab" d="M0,268l9.8,0 1.9-9.4 5.3-29.3 3.8-28.3 2.4-27.4 1-27.3 -.1-18.9 -.9-17.9 -1.6-18.9 -2.2-17.9 -3.2-18.9 -3.7-17.9 -4.5-18 -5.2-17.9 -2.8,0 0,268z"/></g></g><g clip-path="url(#cp2)"><use href="#d2" x="-.4" y="-.3"/></g><rect width="224" height="268" fill="none" stroke="#000" stroke-width="1.11"/></g>
<g id="titles"><g font-family="&quot;Liberation Sans&quot;, sans-serif" fill="#000"><rect x="85.0" y="11.0" width="95.0" height="20.0" fill="#d3d3d3"/><text x="86.7" y="28.7" font-size="16.2" stroke="#000" stroke-width=".35" textLength="92.8" lengthAdjust="spacingAndGlyphs">Входные данные</text><rect x="292.0" y="12.0" width="168.0" height="18.0" fill="#d3d3d3"/><text x="293.6" y="28.7" font-size="15.2" stroke="#000" stroke-width=".35" textLength="164.2" lengthAdjust="spacingAndGlyphs">Ближайшие соседи</text><rect x="567.0" y="11.0" width="102.0" height="18.0" fill="#d3d3d3"/><text x="568.0" y="28.9" font-size="16.8" stroke="#000" stroke-width=".35" textLength="100.0" lengthAdjust="spacingAndGlyphs">Линейный SVM</text><rect x="824.0" y="11.0" width="86.0" height="18.0" fill="#d3d3d3"/><text x="825.8" y="28.6" font-size="17.5" stroke="#000" stroke-width=".35" textLength="81.5" lengthAdjust="spacingAndGlyphs">RBF SVM</text><rect x="1030.0" y="11.3" width="150.0" height="19.4" fill="#d6d6d6"/><text x="1031.5" y="26.8" font-size="13.4" stroke="#000" stroke-width=".35" textLength="148.2" lengthAdjust="spacingAndGlyphs">Гауссовский процесс</text><rect x="1294.0" y="11.0" width="115.0" height="19.8" fill="#d6d6d6"/><text x="1295.0" y="26.7" font-size="14.8" stroke="#000" stroke-width=".35" textLength="112.2" lengthAdjust="spacingAndGlyphs">Дерево решений</text><rect x="1530.0" y="10.9" width="131.0" height="19.6" fill="#d6d6d6"/><text x="1530.9" y="26.4" font-size="14.7" stroke="#000" stroke-width=".35" textLength="128.2" lengthAdjust="spacingAndGlyphs">Случайный лес</text><rect x="1793.0" y="12.1" width="93.0" height="17.6" fill="#d0d0d0"/><text x="1794.1" y="25.9" font-size="12.2" stroke="#000" stroke-width=".35" textLength="90.8" lengthAdjust="spacingAndGlyphs">Нейронная сеть</text><rect x="2039.0" y="10.9" width="84.0" height="17.1" fill="#cbcbcb"/><text x="2039.6" y="23.9" font-size="12.6" stroke="#000" stroke-width=".35" textLength="82.3" lengthAdjust="spacingAndGlyphs">АдаБуст</text><rect x="2273.0" y="10.9" width="104.0" height="20.9" fill="#d6d6d6"/><text x="2274.7" y="31.2" font-size="19.6" stroke="#000" stroke-width=".35" textLength="104.9" lengthAdjust="spacingAndGlyphs">Наивный байес</text><rect x="2552" y="14" width="45" height="14.5" fill="#c6c6c6"/><text x="2553" y="26" font-size="10.5" font-weight="bold" textLength="42" lengthAdjust="spacingAndGlyphs">ЯЕЗНБ:ЙЦН ҒЯЙ</text></g></g>
<g font-family="&quot;Liberation Sans&quot;, sans-serif" fill="#000"><text x="474.9" y="289.5" font-size="20.8" text-anchor="end" textLength="33" lengthAdjust="spacingAndGlyphs">.97</text><rect x="442.5" y="272.5" width="32.0" height="16.0" fill="#375e85"/><text x="444.5" y="287.0" font-size="16" fill="#fff" textLength="27.0" lengthAdjust="spacingAndGlyphs">97</text><text x="718.9" y="289.5" font-size="20.8" text-anchor="end" textLength="33" lengthAdjust="spacingAndGlyphs">.88</text><rect x="686.5" y="272.5" width="32.0" height="16.0" fill="#34587e"/><text x="688.5" y="287.0" font-size="16" fill="#fff" textLength="27.0" lengthAdjust="spacingAndGlyphs">.88</text><text x="962.9" y="289.5" font-size="20.8" text-anchor="end" textLength="33" lengthAdjust="spacingAndGlyphs">.97</text><rect x="930.5" y="272.5" width="32.0" height="16.0" fill="#a5b4bc"/><text x="932.5" y="287.0" font-size="16" fill="#000" textLength="27.0" lengthAdjust="spacingAndGlyphs">97</text><text x="1206.9" y="289.5" font-size="20.8" text-anchor="end" textLength="33" lengthAdjust="spacingAndGlyphs">.97</text><rect x="1174.5" y="272.5" width="32.0" height="16.0" fill="#c1c1c1"/><text x="1176.5" y="287.0" font-size="16" fill="#000" textLength="27.0" lengthAdjust="spacingAndGlyphs">97</text><text x="1450.9" y="289.5" font-size="20.8" text-anchor="end" textLength="33" lengthAdjust="spacingAndGlyphs">.95</text><rect x="1418.5" y="272.5" width="32.0" height="16.0" fill="#375e85"/><text x="1420.5" y="287.0" font-size="16" fill="#fff" textLength="27.0" lengthAdjust="spacingAndGlyphs">05</text><text x="1694.9" y="289.5" font-size="20.8" text-anchor="end" textLength="33" lengthAdjust="spacingAndGlyphs">.93</text><rect x="1662.5" y="272.5" width="32.0" height="16.0" fill="#375e85"/><text x="1664.5" y="287.0" font-size="16" fill="#fff" textLength="27.0" lengthAdjust="spacingAndGlyphs">93</text><text x="1938.9" y="289.5" font-size="20.8" text-anchor="end" textLength="33" lengthAdjust="spacingAndGlyphs">.90</text><rect x="1906.5" y="272.5" width="32.0" height="16.0" fill="#375e85"/><text x="1908.5" y="287.0" font-size="16" fill="#fff" textLength="27.0" lengthAdjust="spacingAndGlyphs">.90</text><text x="2183.9" y="289.5" font-size="20.8" text-anchor="end" textLength="33" lengthAdjust="spacingAndGlyphs">.93</text><rect x="2151.5" y="272.5" width="32.0" height="16.0" fill="#34587e"/><text x="2153.5" y="287.0" font-size="16" fill="#fff" textLength="27.0" lengthAdjust="spacingAndGlyphs">.93</text><text x="2427.9" y="289.5" font-size="20.8" text-anchor="end" textLength="33" lengthAdjust="spacingAndGlyphs">.88</text><rect x="2395.5" y="272.5" width="32.0" height="16.0" fill="#375e85"/><text x="2397.5" y="287.0" font-size="16" fill="#fff" textLength="27.0" lengthAdjust="spacingAndGlyphs">.88</text><text x="2671.9" y="289.5" font-size="20.8" text-anchor="end" textLength="33" lengthAdjust="spacingAndGlyphs">.85</text><rect x="2639.5" y="272.5" width="32.0" height="16.0" fill="#5787a4"/><text x="2641.5" y="287.0" font-size="16" fill="#fff" textLength="27.0" lengthAdjust="spacingAndGlyphs">.85</text><text x="474.9" y="577.5" font-size="20.8" text-anchor="end" textLength="33" lengthAdjust="spacingAndGlyphs">.93</text><rect x="442.5" y="560.5" width="32.0" height="16.0" fill="#c3a291"/><text x="444.5" y="575.0" font-size="16" fill="#fff" textLength="27.0" lengthAdjust="spacingAndGlyphs">93</text><text x="718.9" y="577.5" font-size="20.8" text-anchor="end" textLength="33" lengthAdjust="spacingAndGlyphs">.40</text><rect x="686.5" y="560.5" width="32.0" height="16.0" fill="#4f80a0"/><text x="688.5" y="575.0" font-size="16" fill="#fff" textLength="27.0" lengthAdjust="spacingAndGlyphs">.40</text><text x="962.9" y="577.5" font-size="20.8" text-anchor="end" textLength="33" lengthAdjust="spacingAndGlyphs">.88</text><rect x="930.5" y="560.5" width="32.0" height="16.0" fill="#c1937f"/><text x="932.5" y="575.0" font-size="16" fill="#000" textLength="27.0" lengthAdjust="spacingAndGlyphs">.88</text><text x="1206.9" y="577.5" font-size="20.8" text-anchor="end" textLength="33" lengthAdjust="spacingAndGlyphs">.90</text><rect x="1174.5" y="560.5" width="32.0" height="16.0" fill="#b0695c"/><text x="1176.5" y="575.0" font-size="16" fill="#000" textLength="27.0" lengthAdjust="spacingAndGlyphs">90</text><text x="1450.9" y="577.5" font-size="20.8" text-anchor="end" textLength="33" lengthAdjust="spacingAndGlyphs">.80</text><rect x="1418.5" y="560.5" width="32.0" height="16.0" fill="#893341"/><text x="1420.5" y="575.0" font-size="16" fill="#fff" textLength="27.0" lengthAdjust="spacingAndGlyphs">.80</text><text x="1694.9" y="577.5" font-size="20.8" text-anchor="end" textLength="33" lengthAdjust="spacingAndGlyphs">.80</text><rect x="1662.5" y="560.5" width="32.0" height="16.0" fill="#893341"/><text x="1664.5" y="575.0" font-size="16" fill="#fff" textLength="27.0" lengthAdjust="spacingAndGlyphs">.80</text><text x="1938.9" y="577.5" font-size="20.8" text-anchor="end" textLength="33" lengthAdjust="spacingAndGlyphs">.88</text><rect x="1906.5" y="560.5" width="32.0" height="16.0" fill="#893341"/><text x="1908.5" y="575.0" font-size="16" fill="#fff" textLength="27.0" lengthAdjust="spacingAndGlyphs">88</text><text x="2183.9" y="577.5" font-size="20.8" text-anchor="end" textLength="33" lengthAdjust="spacingAndGlyphs">.82</text><rect x="2151.5" y="560.5" width="32.0" height="16.0" fill="#ab5e55"/><text x="2153.5" y="575.0" font-size="16" fill="#fff" textLength="27.0" lengthAdjust="spacingAndGlyphs">.82</text><text x="2427.9" y="577.5" font-size="20.8" text-anchor="end" textLength="33" lengthAdjust="spacingAndGlyphs">.70</text><rect x="2395.5" y="560.5" width="32.0" height="16.0" fill="#853140"/><text x="2397.5" y="575.0" font-size="16" fill="#fff" textLength="27.0" lengthAdjust="spacingAndGlyphs">.70</text><text x="2671.9" y="577.5" font-size="20.8" text-anchor="end" textLength="33" lengthAdjust="spacingAndGlyphs">.72</text><rect x="2639.5" y="560.5" width="32.0" height="16.0" fill="#c1937f"/><text x="2641.5" y="575.0" font-size="16" fill="#000" textLength="27.0" lengthAdjust="spacingAndGlyphs">.72</text><text x="474.9" y="865.5" font-size="20.8" text-anchor="end" textLength="33" lengthAdjust="spacingAndGlyphs">.93</text><text x="718.9" y="865.5" font-size="20.8" text-anchor="end" textLength="33" lengthAdjust="spacingAndGlyphs">.93</text><rect x="696.9" y="850.5" width="22.0" height="15.0" fill="#a55350"/><text x="697.9" y="862.5" font-size="12" fill="#fff" textLength="19.0" lengthAdjust="spacingAndGlyphs">9.3</text><text x="962.9" y="865.5" font-size="20.8" text-anchor="end" textLength="33" lengthAdjust="spacingAndGlyphs">.95</text><rect x="942.9" y="852.5" width="20.0" height="10.0" fill="#c8c0b8" fill-opacity=".9"/><text x="1206.9" y="865.5" font-size="20.8" text-anchor="end" textLength="33" lengthAdjust="spacingAndGlyphs">.93</text><text x="1450.9" y="865.5" font-size="20.8" text-anchor="end" textLength="33" lengthAdjust="spacingAndGlyphs">.95</text><rect x="1418.5" y="848.5" width="32.0" height="16.0" fill="#893341"/><text x="1420.5" y="863.0" font-size="16" fill="#fff" textLength="27.0" lengthAdjust="spacingAndGlyphs">.95</text><text x="1694.9" y="865.5" font-size="20.8" text-anchor="end" textLength="33" lengthAdjust="spacingAndGlyphs">.95</text><text x="1938.9" y="865.5" font-size="20.8" text-anchor="end" textLength="33" lengthAdjust="spacingAndGlyphs">.95</text><rect x="1906.5" y="848.5" width="32.0" height="16.0" fill="#893341"/><text x="1908.5" y="863.0" font-size="16" fill="#fff" textLength="27.0" lengthAdjust="spacingAndGlyphs">.95</text><text x="2183.9" y="865.5" font-size="20.8" text-anchor="end" textLength="33" lengthAdjust="spacingAndGlyphs">.95</text><rect x="2151.5" y="848.5" width="32.0" height="16.0" fill="#853140"/><text x="2153.5" y="863.0" font-size="16" fill="#fff" textLength="27.0" lengthAdjust="spacingAndGlyphs">.95</text><text x="2427.9" y="865.5" font-size="20.8" text-anchor="end" textLength="33" lengthAdjust="spacingAndGlyphs">.95</text><rect x="2395.5" y="848.5" width="32.0" height="16.0" fill="#893341"/><text x="2397.5" y="863.0" font-size="16" fill="#fff" textLength="27.0" lengthAdjust="spacingAndGlyphs">.95</text><text x="2671.9" y="865.5" font-size="20.8" text-anchor="end" textLength="33" lengthAdjust="spacingAndGlyphs">.93</text><rect x="2639.5" y="848.5" width="32.0" height="16.0" fill="#893341"/><text x="2641.5" y="863.0" font-size="16" fill="#fff" textLength="27.0" lengthAdjust="spacingAndGlyphs">.93</text><g transform="translate(1040.2,148.5) rotate(103)"><rect x="-19.5" y="-4.5" width="39.0" height="9.0" fill="#a3394b"/><text x="0" y="3.1" font-size="8.5" fill="#fff" text-anchor="middle">делать</text></g><g transform="translate(1162.8,247.3) rotate(-66)"><rect x="-18.0" y="-5.5" width="36.0" height="11.0" fill="#5a7fc8"/><text x="0" y="3.8" font-size="10.4" fill="#fff" text-anchor="middle">000</text></g><g transform="translate(1141.4,276.6) rotate(12)"><rect x="-6.0" y="-7.0" width="12.0" height="14.0" fill="#98a4d8"/><text x="0" y="4.8" font-size="13.3" fill="#000" text-anchor="middle">0</text></g><g transform="translate(2114.5,58.5) rotate(0)"><rect x="-7.5" y="-7.5" width="15.0" height="15.0" fill="#c87060"/><text x="0" y="5.0" font-size="14.0" fill="#000" text-anchor="middle">-</text></g><g transform="translate(2120.0,276.0) rotate(0)"><rect x="-6.0" y="-8.0" width="12.0" height="16.0" fill="#9ea8d8"/><text x="0" y="5.0" font-size="14.0" fill="#000" text-anchor="middle">0</text></g><g transform="translate(2613.5,90.0) rotate(0)"><rect x="-6.5" y="-8.0" width="13.0" height="16.0" fill="#c87060"/><text x="0" y="5.0" font-size="14.0" fill="#fff" text-anchor="middle">-</text></g><g transform="translate(152.5,406.5) rotate(0)"><rect x="-21.5" y="-8.5" width="43.0" height="17.0" fill="#a89cc8"/><text x="0" y="5.0" font-size="14.0" fill="#000" text-anchor="middle">. 8.</text></g><g transform="translate(209.5,387.0) rotate(0)"><rect x="-13.5" y="-7.0" width="27.0" height="14.0" fill="#d8a8a8"/></g><g transform="translate(585.0,552.0) rotate(-80)"><rect x="-18.0" y="-4.5" width="36.0" height="9.0" fill="#c07070"/></g><g transform="translate(1384.0,355.5) rotate(0)"><rect x="-15.0" y="-7.5" width="30.0" height="15.0" fill="#902838"/><text x="0" y="5.0" font-size="14.0" fill="#fff" text-anchor="middle">8</text></g><g transform="translate(1296.5,452.5) rotate(0)"><rect x="-16.5" y="-8.5" width="33.0" height="17.0" fill="#806080"/><text x="0" y="5.0" font-size="14.0" fill="#fff" text-anchor="middle">80</text></g><g transform="translate(1268.0,424.5) rotate(0)"><rect x="-8.0" y="-8.5" width="16.0" height="17.0" fill="#d8b0b0"/></g><g transform="translate(1632.0,355.5) rotate(0)"><rect x="-11.0" y="-9.5" width="22.0" height="19.0" fill="#902838"/><text x="0" y="5.0" font-size="14.0" fill="#fff" text-anchor="middle">8</text></g><g transform="translate(1752.5,402.0) rotate(-10)"><rect x="-6.0" y="-8.0" width="12.0" height="16.0" fill="#902838"/></g><g transform="translate(1789.0,452.0) rotate(0)"><rect x="-15.0" y="-9.0" width="30.0" height="18.0" fill="#a090b8"/><text x="0" y="5.0" font-size="14.0" fill="#fff" text-anchor="middle">80</text></g><g transform="translate(2164.5,386.5) rotate(0)"><rect x="-17.5" y="-6.5" width="35.0" height="13.0" fill="#902838"/><text x="0" y="4.4" font-size="12.3" fill="#fff" text-anchor="middle">00</text></g><g transform="translate(2155.0,417.5) rotate(0)"><rect x="-11.0" y="-6.5" width="22.0" height="13.0" fill="#c8b8bc"/><text x="0" y="4.4" font-size="12.3" fill="#000" text-anchor="middle">-</text></g><g transform="translate(2117.5,511.5) rotate(0)"><rect x="-18.5" y="-9.5" width="37.0" height="19.0" fill="#b8b0b8"/><text x="0" y="5.0" font-size="14.0" fill="#000" text-anchor="middle">. 00</text></g><g transform="translate(2054.0,563.0) rotate(-10)"><rect x="-5.0" y="-6.5" width="10.0" height="13.0" fill="#b07070"/></g><g transform="translate(2360.5,356.5) rotate(-5)"><rect x="-15.0" y="-7.5" width="30.0" height="15.0" fill="#902838"/><text x="0" y="5.0" font-size="14.0" fill="#fff" text-anchor="middle">8</text></g><g transform="translate(2635.0,392.0) rotate(-15)"><rect x="-20.0" y="-5.0" width="40.0" height="10.0" fill="#807890"/></g><g transform="translate(2627.5,525.5) rotate(0)"><rect x="-12.5" y="-6.5" width="25.0" height="13.0" fill="#a8a8b8"/><text x="0" y="4.4" font-size="12.3" fill="#000" text-anchor="middle">-</text></g><g transform="translate(91.3,682.3) rotate(-30)"><rect x="-5.5" y="-4.0" width="11.0" height="8.0" fill="#a0a0e0"/><text x="0" y="2.7" font-size="7.6" fill="#000" text-anchor="middle">o</text></g><g transform="translate(157.8,852.0) rotate(-70)"><rect x="-10.0" y="-6.5" width="20.0" height="13.0" fill="#b090a8"/><text x="0" y="4.4" font-size="12.3" fill="#000" text-anchor="middle">оо</text></g><g transform="translate(612.3,845.5) rotate(-40)"><rect x="-9.0" y="-5.0" width="18.0" height="10.0" fill="#b0b0e8"/><text x="0" y="3.4" font-size="9.5" fill="#000" text-anchor="middle">o</text></g><g transform="translate(823.2,681.2) rotate(0)"><rect x="-5.2" y="-5.2" width="10.5" height="10.5" fill="#8080e0"/><text x="0" y="3.6" font-size="10.0" fill="#fff" text-anchor="middle">o</text></g><g transform="translate(892.0,752.5) rotate(0)"><rect x="-15.0" y="-5.5" width="30.0" height="11.0" fill="#902838"/><text x="0" y="3.8" font-size="10.4" fill="#fff" text-anchor="middle">Zoo</text></g><g transform="translate(1055.5,737.3) rotate(0)"><rect x="-6.5" y="-5.7" width="13.0" height="11.4" fill="#203080"/><text x="0" y="3.9" font-size="10.8" fill="#fff" text-anchor="middle">o</text></g><g transform="translate(1170.8,804.0) rotate(0)"><rect x="-11.8" y="-9.0" width="23.5" height="18.0" fill="#902838"/><text x="0" y="5.0" font-size="14.0" fill="#fff" text-anchor="middle">8</text></g><g transform="translate(1264.2,803.2) rotate(90)"><rect x="-10.0" y="-9.0" width="20.0" height="18.0" fill="#2848a0"/><text x="0" y="5.0" font-size="14.0" fill="#fff" text-anchor="middle">по</text></g><g transform="translate(1797.8,682.2) rotate(0)"><rect x="-8.2" y="-4.2" width="16.4" height="8.5" fill="#2040a0"/><text x="0" y="2.9" font-size="8.1" fill="#fff" text-anchor="middle">c</text></g><g transform="translate(1777.0,709.0) rotate(0)"><rect x="-6.0" y="-6.0" width="12.0" height="12.0" fill="#102080"/><text x="0" y="4.1" font-size="11.4" fill="#fff" text-anchor="middle">-</text></g><g transform="translate(2266.8,709.0) rotate(0)"><rect x="-5.0" y="-6.0" width="10.0" height="12.0" fill="#203090"/><text x="0" y="4.1" font-size="11.4" fill="#fff" text-anchor="middle">-</text></g><g transform="translate(2277.5,737.3) rotate(0)"><rect x="-7.5" y="-5.7" width="15.0" height="11.4" fill="#203090"/><text x="0" y="3.9" font-size="10.8" fill="#fff" text-anchor="middle">o</text></g><g transform="translate(2532.0,683.0) rotate(0)"><rect x="-5.0" y="-5.0" width="10.0" height="10.0" fill="#8888e0"/><text x="0" y="3.4" font-size="9.5" fill="#fff" text-anchor="middle">c</text></g></g>
</svg>
</body></html>
